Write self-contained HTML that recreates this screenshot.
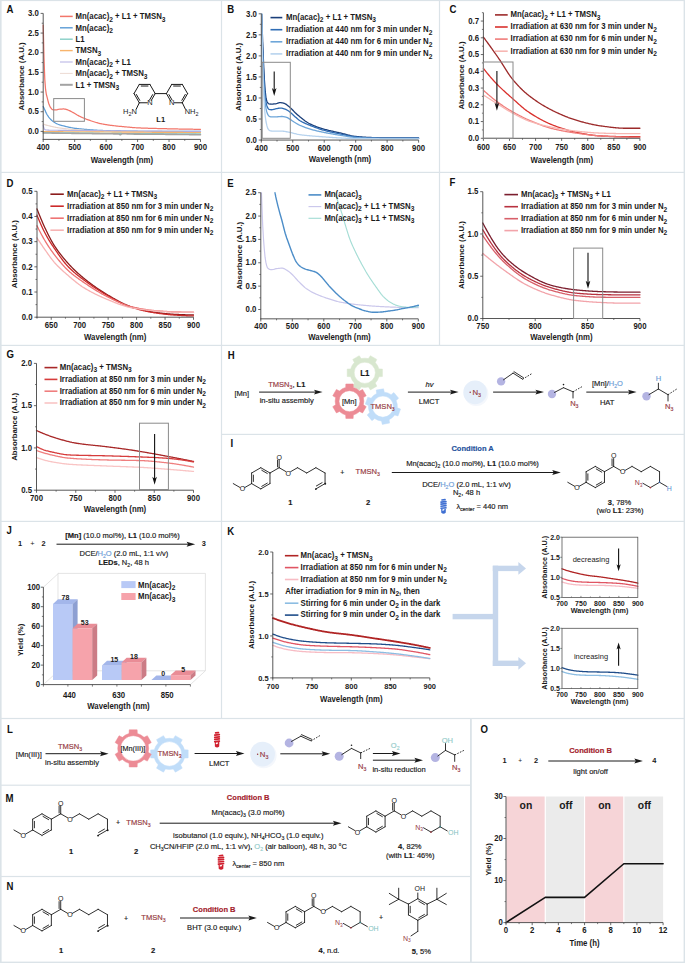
<!DOCTYPE html>
<html><head><meta charset="utf-8"><style>
html,body{margin:0;padding:0;background:#fff;}
svg{display:block;}
text{font-family:"Liberation Sans", sans-serif;}
</style></head><body>
<svg width="685" height="963" viewBox="0 0 685 963">
<rect x="0.00" y="0.00" width="685.00" height="963.00" fill="#ffffff" stroke="none" stroke-width="0.9"/>
<rect x="0.00" y="0.00" width="1.60" height="963.00" fill="#dbe3e8" stroke="none" stroke-width="0.9"/>
<rect x="0.00" y="0.00" width="685.00" height="1.10" fill="#dbe3e8" stroke="none" stroke-width="0.9"/>
<rect x="683.60" y="0.00" width="1.40" height="963.00" fill="#dbe3e8" stroke="none" stroke-width="0.9"/>
<rect x="0.00" y="961.60" width="685.00" height="1.40" fill="#dbe3e8" stroke="none" stroke-width="0.9"/>
<rect x="0.00" y="171.80" width="685.00" height="1.20" fill="#dbe3e8" stroke="none" stroke-width="0.9"/>
<rect x="0.00" y="344.80" width="685.00" height="1.20" fill="#dbe3e8" stroke="none" stroke-width="0.9"/>
<rect x="0.00" y="520.80" width="685.00" height="1.20" fill="#dbe3e8" stroke="none" stroke-width="0.9"/>
<rect x="0.00" y="717.90" width="685.00" height="1.20" fill="#dbe3e8" stroke="none" stroke-width="0.9"/>
<rect x="220.90" y="0.00" width="1.20" height="718.00" fill="#dbe3e8" stroke="none" stroke-width="0.9"/>
<rect x="438.90" y="0.00" width="1.20" height="345.00" fill="#dbe3e8" stroke="none" stroke-width="0.9"/>
<rect x="221.00" y="433.80" width="464.00" height="1.20" fill="#dbe3e8" stroke="none" stroke-width="0.9"/>
<rect x="470.00" y="718.00" width="1.80" height="245.00" fill="#dbe3e8" stroke="none" stroke-width="0.9"/>
<rect x="0.00" y="784.60" width="471.00" height="1.20" fill="#dbe3e8" stroke="none" stroke-width="0.9"/>
<rect x="0.00" y="875.90" width="471.00" height="1.20" fill="#dbe3e8" stroke="none" stroke-width="0.9"/>
<text x="6.50" y="12.70" font-size="9.6" font-weight="bold" font-style="normal" text-anchor="start" fill="#111" transform="matrix(1.0 0 0 1.09 0.000 -1.143)"><tspan>A</tspan></text>
<path d="M43.20,25.20 L43.99,57.86 L44.78,79.36 L45.57,89.46 L46.36,94.51 L47.15,97.45 L47.94,100.62 L48.73,103.50 L49.52,105.54 L50.31,107.15 L51.10,108.24 L51.89,109.14 L52.69,109.70 L53.48,109.83 L54.27,109.90 L55.06,109.95 L55.85,109.96 L56.64,109.87 L57.43,109.68 L58.22,109.45 L59.01,109.25 L59.80,109.16 L60.59,109.10 L61.38,109.05 L62.17,109.01 L62.96,108.99 L63.75,108.98 L64.54,109.05 L65.33,109.21 L66.12,109.44 L66.91,109.69 L67.70,109.95 L68.49,110.23 L69.28,110.56 L70.08,110.93 L70.87,111.33 L71.66,111.75 L72.45,112.18 L73.24,112.60 L74.03,113.04 L74.82,113.52 L75.61,114.00 L76.40,114.49 L77.19,114.97 L77.98,115.42 L78.77,115.84 L79.56,116.24 L80.35,116.63 L81.14,117.00 L81.93,117.36 L82.72,117.71 L83.51,118.05 L84.30,118.37 L85.09,118.69 L85.88,119.00 L86.67,119.31 L87.47,119.61 L88.26,119.90 L89.05,120.18 L89.84,120.46 L90.63,120.73 L91.42,120.99 L92.21,121.25 L93.00,121.51 L93.79,121.76 L94.58,122.01 L95.37,122.25 L96.16,122.49 L96.95,122.72 L97.74,122.94 L98.53,123.15 L99.32,123.34 L100.11,123.53 L100.90,123.70 L101.69,123.86 L102.48,124.01 L103.27,124.16 L104.06,124.30 L104.86,124.43 L105.65,124.56 L106.44,124.68 L107.23,124.80 L108.02,124.92 L108.81,125.04 L109.60,125.15 L110.39,125.26 L111.18,125.36 L111.97,125.46 L112.76,125.56 L113.55,125.66 L114.34,125.75 L115.13,125.84 L115.92,125.93 L116.71,126.02 L117.50,126.10 L118.29,126.19 L119.08,126.26 L119.87,126.34 L120.66,126.42 L121.45,126.49 L122.25,126.57 L123.04,126.64 L123.83,126.71 L124.62,126.78 L125.41,126.85 L126.20,126.93 L126.99,127.00 L127.78,127.08 L128.57,127.15 L129.36,127.23 L130.15,127.30 L130.94,127.37 L131.73,127.44 L132.52,127.51 L133.31,127.58 L134.10,127.64 L134.89,127.70 L135.68,127.75 L136.47,127.80 L137.26,127.84 L138.05,127.88 L138.84,127.92 L139.64,127.96 L140.43,127.99 L141.22,128.02 L142.01,128.05 L142.80,128.08 L143.59,128.10 L144.38,128.13 L145.17,128.16 L145.96,128.18 L146.75,128.21 L147.54,128.23 L148.33,128.26 L149.12,128.28 L149.91,128.30 L150.70,128.33 L151.49,128.35 L152.28,128.37 L153.07,128.39 L153.86,128.42 L154.65,128.44 L155.44,128.46 L156.23,128.48 L157.03,128.50 L157.82,128.52 L158.61,128.54 L159.40,128.56 L160.19,128.58 L160.98,128.60 L161.77,128.62 L162.56,128.64 L163.35,128.66 L164.14,128.68 L164.93,128.70 L165.72,128.72 L166.51,128.74 L167.30,128.76 L168.09,128.78 L168.88,128.80 L169.67,128.82 L170.46,128.84 L171.25,128.86 L172.04,128.87 L172.83,128.89 L173.62,128.91 L174.42,128.92 L175.21,128.94 L176.00,128.95 L176.79,128.97 L177.58,128.98 L178.37,129.00 L179.16,129.01 L179.95,129.02 L180.74,129.04 L181.53,129.05 L182.32,129.06 L183.11,129.08 L183.90,129.09 L184.69,129.10 L185.48,129.12 L186.27,129.13 L187.06,129.14 L187.85,129.16 L188.64,129.17 L189.43,129.18 L190.22,129.20 L191.01,129.21 L191.81,129.22 L192.60,129.23 L193.39,129.25 L194.18,129.26 L194.97,129.27 L195.76,129.28 L196.55,129.30 L197.34,129.31 L198.13,129.32 L198.92,129.33 L199.71,129.34 L200.50,129.35" stroke="#f2766a" stroke-width="1.25" fill="none" stroke-linejoin="round" stroke-linecap="round"/>
<path d="M43.20,106.62 L43.99,108.15 L44.78,109.78 L45.57,111.62 L46.36,113.34 L47.15,114.72 L47.94,115.97 L48.73,117.08 L49.52,118.06 L50.31,118.94 L51.10,119.74 L51.89,120.47 L52.69,121.13 L53.48,121.71 L54.27,122.25 L55.06,122.75 L55.85,123.20 L56.64,123.60 L57.43,123.96 L58.22,124.27 L59.01,124.56 L59.80,124.82 L60.59,125.07 L61.38,125.30 L62.17,125.53 L62.96,125.75 L63.75,125.96 L64.54,126.17 L65.33,126.37 L66.12,126.56 L66.91,126.75 L67.70,126.93 L68.49,127.10 L69.28,127.27 L70.08,127.44 L70.87,127.60 L71.66,127.75 L72.45,127.90 L73.24,128.04 L74.03,128.16 L74.82,128.27 L75.61,128.38 L76.40,128.48 L77.19,128.57 L77.98,128.65 L78.77,128.74 L79.56,128.81 L80.35,128.89 L81.14,128.97 L81.93,129.04 L82.72,129.11 L83.51,129.18 L84.30,129.26 L85.09,129.33 L85.88,129.40 L86.67,129.48 L87.47,129.55 L88.26,129.62 L89.05,129.69 L89.84,129.75 L90.63,129.82 L91.42,129.88 L92.21,129.94 L93.00,129.99 L93.79,130.04 L94.58,130.09 L95.37,130.13 L96.16,130.18 L96.95,130.22 L97.74,130.26 L98.53,130.30 L99.32,130.34 L100.11,130.38 L100.90,130.41 L101.69,130.45 L102.48,130.48 L103.27,130.51 L104.06,130.54 L104.86,130.57 L105.65,130.60 L106.44,130.62 L107.23,130.65 L108.02,130.67 L108.81,130.70 L109.60,130.72 L110.39,130.74 L111.18,130.77 L111.97,130.79 L112.76,130.81 L113.55,130.83 L114.34,130.85 L115.13,130.87 L115.92,130.88 L116.71,130.90 L117.50,130.92 L118.29,130.94 L119.08,130.95 L119.87,130.97 L120.66,130.98 L121.45,131.00 L122.25,131.01 L123.04,131.03 L123.83,131.04 L124.62,131.06 L125.41,131.07 L126.20,131.09 L126.99,131.10 L127.78,131.12 L128.57,131.13 L129.36,131.15 L130.15,131.16 L130.94,131.17 L131.73,131.18 L132.52,131.19 L133.31,131.20 L134.10,131.21 L134.89,131.22 L135.68,131.23 L136.47,131.24 L137.26,131.24 L138.05,131.25 L138.84,131.25 L139.64,131.25 L140.43,131.26 L141.22,131.26 L142.01,131.26 L142.80,131.27 L143.59,131.27 L144.38,131.27 L145.17,131.28 L145.96,131.28 L146.75,131.29 L147.54,131.29 L148.33,131.29 L149.12,131.30 L149.91,131.30 L150.70,131.30 L151.49,131.30 L152.28,131.31 L153.07,131.31 L153.86,131.31 L154.65,131.32 L155.44,131.32 L156.23,131.32 L157.03,131.32 L157.82,131.33 L158.61,131.33 L159.40,131.33 L160.19,131.34 L160.98,131.34 L161.77,131.34 L162.56,131.34 L163.35,131.35 L164.14,131.35 L164.93,131.35 L165.72,131.35 L166.51,131.35 L167.30,131.36 L168.09,131.36 L168.88,131.36 L169.67,131.36 L170.46,131.36 L171.25,131.37 L172.04,131.37 L172.83,131.37 L173.62,131.37 L174.42,131.37 L175.21,131.37 L176.00,131.38 L176.79,131.38 L177.58,131.38 L178.37,131.38 L179.16,131.38 L179.95,131.38 L180.74,131.38 L181.53,131.39 L182.32,131.39 L183.11,131.39 L183.90,131.39 L184.69,131.39 L185.48,131.39 L186.27,131.39 L187.06,131.39 L187.85,131.39 L188.64,131.39 L189.43,131.40 L190.22,131.40 L191.01,131.40 L191.81,131.40 L192.60,131.40 L193.39,131.40 L194.18,131.40 L194.97,131.40 L195.76,131.40 L196.55,131.40 L197.34,131.40 L198.13,131.40 L198.92,131.40 L199.71,131.40 L200.50,131.40" stroke="#5b9bd5" stroke-width="1.25" fill="none" stroke-linejoin="round" stroke-linecap="round"/>
<path d="M43.20,124.12 L43.99,124.38 L44.78,124.64 L45.57,124.88 L46.36,125.11 L47.15,125.33 L47.94,125.54 L48.73,125.75 L49.52,125.95 L50.31,126.15 L51.10,126.34 L51.89,126.52 L52.69,126.69 L53.48,126.86 L54.27,127.02 L55.06,127.18 L55.85,127.33 L56.64,127.48 L57.43,127.62 L58.22,127.75 L59.01,127.87 L59.80,127.99 L60.59,128.10 L61.38,128.22 L62.17,128.32 L62.96,128.43 L63.75,128.53 L64.54,128.62 L65.33,128.72 L66.12,128.81 L66.91,128.89 L67.70,128.97 L68.49,129.05 L69.28,129.13 L70.08,129.20 L70.87,129.27 L71.66,129.34 L72.45,129.41 L73.24,129.47 L74.03,129.54 L74.82,129.60 L75.61,129.66 L76.40,129.72 L77.19,129.77 L77.98,129.83 L78.77,129.88 L79.56,129.93 L80.35,129.98 L81.14,130.04 L81.93,130.09 L82.72,130.13 L83.51,130.18 L84.30,130.23 L85.09,130.28 L85.88,130.33 L86.67,130.37 L87.47,130.42 L88.26,130.46 L89.05,130.51 L89.84,130.55 L90.63,130.59 L91.42,130.63 L92.21,130.67 L93.00,130.71 L93.79,130.75 L94.58,130.79 L95.37,130.83 L96.16,130.86 L96.95,130.89 L97.74,130.93 L98.53,130.96 L99.32,130.99 L100.11,131.02 L100.90,131.04 L101.69,131.07 L102.48,131.10 L103.27,131.13 L104.06,131.15 L104.86,131.18 L105.65,131.20 L106.44,131.23 L107.23,131.25 L108.02,131.27 L108.81,131.30 L109.60,131.32 L110.39,131.34 L111.18,131.36 L111.97,131.38 L112.76,131.40 L113.55,131.42 L114.34,131.44 L115.13,131.46 L115.92,131.48 L116.71,131.50 L117.50,131.51 L118.29,131.53 L119.08,131.55 L119.87,131.56 L120.66,131.58 L121.45,131.59 L122.25,131.60 L123.04,131.62 L123.83,131.63 L124.62,131.64 L125.41,131.66 L126.20,131.67 L126.99,131.68 L127.78,131.70 L128.57,131.71 L129.36,131.72 L130.15,131.73 L130.94,131.74 L131.73,131.76 L132.52,131.77 L133.31,131.78 L134.10,131.79 L134.89,131.80 L135.68,131.81 L136.47,131.82 L137.26,131.83 L138.05,131.84 L138.84,131.85 L139.64,131.86 L140.43,131.87 L141.22,131.88 L142.01,131.89 L142.80,131.90 L143.59,131.91 L144.38,131.91 L145.17,131.92 L145.96,131.93 L146.75,131.94 L147.54,131.95 L148.33,131.95 L149.12,131.96 L149.91,131.97 L150.70,131.97 L151.49,131.98 L152.28,131.98 L153.07,131.99 L153.86,131.99 L154.65,132.00 L155.44,132.00 L156.23,132.01 L157.03,132.01 L157.82,132.02 L158.61,132.02 L159.40,132.03 L160.19,132.03 L160.98,132.04 L161.77,132.04 L162.56,132.05 L163.35,132.05 L164.14,132.06 L164.93,132.06 L165.72,132.07 L166.51,132.07 L167.30,132.08 L168.09,132.08 L168.88,132.09 L169.67,132.09 L170.46,132.09 L171.25,132.10 L172.04,132.10 L172.83,132.11 L173.62,132.11 L174.42,132.11 L175.21,132.12 L176.00,132.12 L176.79,132.13 L177.58,132.13 L178.37,132.13 L179.16,132.14 L179.95,132.14 L180.74,132.14 L181.53,132.15 L182.32,132.15 L183.11,132.15 L183.90,132.16 L184.69,132.16 L185.48,132.16 L186.27,132.16 L187.06,132.17 L187.85,132.17 L188.64,132.17 L189.43,132.17 L190.22,132.17 L191.01,132.18 L191.81,132.18 L192.60,132.18 L193.39,132.18 L194.18,132.18 L194.97,132.18 L195.76,132.18 L196.55,132.18 L197.34,132.19 L198.13,132.19 L198.92,132.19 L199.71,132.19 L200.50,132.19" stroke="#e9d5cd" stroke-width="1.2" fill="none" stroke-linejoin="round" stroke-linecap="round"/>
<path d="M43.20,125.50 L43.99,128.23 L44.78,129.44 L45.57,129.85 L46.36,130.02 L47.15,130.07 L47.94,130.12 L48.73,130.15 L49.52,130.18 L50.31,130.20 L51.10,130.22 L51.89,130.24 L52.69,130.25 L53.48,130.27 L54.27,130.28 L55.06,130.29 L55.85,130.30 L56.64,130.31 L57.43,130.32 L58.22,130.33 L59.01,130.34 L59.80,130.35 L60.59,130.36 L61.38,130.37 L62.17,130.38 L62.96,130.39 L63.75,130.40 L64.54,130.40 L65.33,130.41 L66.12,130.42 L66.91,130.43 L67.70,130.43 L68.49,130.44 L69.28,130.44 L70.08,130.45 L70.87,130.46 L71.66,130.46 L72.45,130.47 L73.24,130.47 L74.03,130.48 L74.82,130.49 L75.61,130.49 L76.40,130.50 L77.19,130.50 L77.98,130.51 L78.77,130.52 L79.56,130.52 L80.35,130.53 L81.14,130.54 L81.93,130.54 L82.72,130.55 L83.51,130.56 L84.30,130.56 L85.09,130.57 L85.88,130.58 L86.67,130.59 L87.47,130.59 L88.26,130.60 L89.05,130.61 L89.84,130.61 L90.63,130.62 L91.42,130.63 L92.21,130.63 L93.00,130.64 L93.79,130.65 L94.58,130.66 L95.37,130.66 L96.16,130.67 L96.95,130.68 L97.74,130.68 L98.53,130.69 L99.32,130.70 L100.11,130.70 L100.90,130.71 L101.69,130.72 L102.48,130.72 L103.27,130.73 L104.06,130.74 L104.86,130.75 L105.65,130.75 L106.44,130.76 L107.23,130.77 L108.02,130.77 L108.81,130.78 L109.60,130.79 L110.39,130.79 L111.18,130.80 L111.97,130.81 L112.76,130.81 L113.55,130.82 L114.34,130.83 L115.13,130.83 L115.92,130.84 L116.71,130.85 L117.50,130.85 L118.29,130.86 L119.08,130.86 L119.87,130.87 L120.66,130.88 L121.45,130.88 L122.25,130.89 L123.04,130.90 L123.83,130.90 L124.62,130.91 L125.41,130.92 L126.20,130.92 L126.99,130.93 L127.78,130.93 L128.57,130.94 L129.36,130.95 L130.15,130.95 L130.94,130.96 L131.73,130.96 L132.52,130.97 L133.31,130.98 L134.10,130.98 L134.89,130.99 L135.68,130.99 L136.47,131.00 L137.26,131.00 L138.05,131.01 L138.84,131.02 L139.64,131.02 L140.43,131.03 L141.22,131.03 L142.01,131.04 L142.80,131.04 L143.59,131.05 L144.38,131.05 L145.17,131.06 L145.96,131.07 L146.75,131.07 L147.54,131.08 L148.33,131.08 L149.12,131.09 L149.91,131.09 L150.70,131.10 L151.49,131.10 L152.28,131.11 L153.07,131.11 L153.86,131.12 L154.65,131.13 L155.44,131.13 L156.23,131.14 L157.03,131.14 L157.82,131.15 L158.61,131.15 L159.40,131.16 L160.19,131.16 L160.98,131.17 L161.77,131.17 L162.56,131.18 L163.35,131.18 L164.14,131.19 L164.93,131.19 L165.72,131.20 L166.51,131.20 L167.30,131.21 L168.09,131.21 L168.88,131.22 L169.67,131.22 L170.46,131.23 L171.25,131.23 L172.04,131.24 L172.83,131.24 L173.62,131.25 L174.42,131.25 L175.21,131.26 L176.00,131.26 L176.79,131.27 L177.58,131.27 L178.37,131.28 L179.16,131.28 L179.95,131.29 L180.74,131.29 L181.53,131.30 L182.32,131.30 L183.11,131.30 L183.90,131.31 L184.69,131.31 L185.48,131.32 L186.27,131.32 L187.06,131.33 L187.85,131.33 L188.64,131.34 L189.43,131.34 L190.22,131.34 L191.01,131.35 L191.81,131.35 L192.60,131.36 L193.39,131.36 L194.18,131.37 L194.97,131.37 L195.76,131.38 L196.55,131.38 L197.34,131.38 L198.13,131.39 L198.92,131.39 L199.71,131.40 L200.50,131.40" stroke="#b3afe3" stroke-width="1.1" fill="none" stroke-linejoin="round" stroke-linecap="round"/>
<path d="M43.20,131.60 L43.99,131.60 L44.78,131.61 L45.57,131.61 L46.36,131.62 L47.15,131.62 L47.94,131.63 L48.73,131.63 L49.52,131.64 L50.31,131.64 L51.10,131.65 L51.89,131.65 L52.69,131.66 L53.48,131.66 L54.27,131.67 L55.06,131.67 L55.85,131.68 L56.64,131.68 L57.43,131.69 L58.22,131.69 L59.01,131.70 L59.80,131.70 L60.59,131.71 L61.38,131.71 L62.17,131.72 L62.96,131.72 L63.75,131.73 L64.54,131.73 L65.33,131.74 L66.12,131.74 L66.91,131.74 L67.70,131.75 L68.49,131.75 L69.28,131.76 L70.08,131.76 L70.87,131.77 L71.66,131.77 L72.45,131.78 L73.24,131.78 L74.03,131.79 L74.82,131.79 L75.61,131.80 L76.40,131.80 L77.19,131.81 L77.98,131.81 L78.77,131.82 L79.56,131.82 L80.35,131.83 L81.14,131.83 L81.93,131.84 L82.72,131.84 L83.51,131.85 L84.30,131.85 L85.09,131.86 L85.88,131.86 L86.67,131.87 L87.47,131.87 L88.26,131.88 L89.05,131.88 L89.84,131.89 L90.63,131.89 L91.42,131.90 L92.21,131.90 L93.00,131.91 L93.79,131.91 L94.58,131.92 L95.37,131.92 L96.16,131.93 L96.95,131.93 L97.74,131.94 L98.53,131.94 L99.32,131.95 L100.11,131.95 L100.90,131.96 L101.69,131.96 L102.48,131.97 L103.27,131.97 L104.06,131.98 L104.86,131.98 L105.65,131.99 L106.44,131.99 L107.23,132.00 L108.02,132.00 L108.81,132.01 L109.60,132.01 L110.39,132.02 L111.18,132.02 L111.97,132.03 L112.76,132.03 L113.55,132.04 L114.34,132.04 L115.13,132.05 L115.92,132.05 L116.71,132.06 L117.50,132.06 L118.29,132.07 L119.08,132.07 L119.87,132.08 L120.66,132.08 L121.45,132.09 L122.25,132.09 L123.04,132.10 L123.83,132.10 L124.62,132.11 L125.41,132.11 L126.20,132.12 L126.99,132.12 L127.78,132.13 L128.57,132.13 L129.36,132.14 L130.15,132.14 L130.94,132.15 L131.73,132.15 L132.52,132.16 L133.31,132.16 L134.10,132.16 L134.89,132.17 L135.68,132.17 L136.47,132.18 L137.26,132.18 L138.05,132.19 L138.84,132.19 L139.64,132.20 L140.43,132.20 L141.22,132.21 L142.01,132.21 L142.80,132.22 L143.59,132.22 L144.38,132.23 L145.17,132.23 L145.96,132.24 L146.75,132.24 L147.54,132.25 L148.33,132.25 L149.12,132.26 L149.91,132.26 L150.70,132.27 L151.49,132.27 L152.28,132.28 L153.07,132.28 L153.86,132.29 L154.65,132.29 L155.44,132.30 L156.23,132.30 L157.03,132.31 L157.82,132.31 L158.61,132.32 L159.40,132.32 L160.19,132.33 L160.98,132.33 L161.77,132.34 L162.56,132.34 L163.35,132.35 L164.14,132.35 L164.93,132.36 L165.72,132.36 L166.51,132.37 L167.30,132.37 L168.09,132.38 L168.88,132.38 L169.67,132.39 L170.46,132.39 L171.25,132.40 L172.04,132.40 L172.83,132.41 L173.62,132.41 L174.42,132.42 L175.21,132.42 L176.00,132.43 L176.79,132.43 L177.58,132.44 L178.37,132.44 L179.16,132.45 L179.95,132.45 L180.74,132.46 L181.53,132.46 L182.32,132.47 L183.11,132.47 L183.90,132.48 L184.69,132.48 L185.48,132.49 L186.27,132.49 L187.06,132.50 L187.85,132.50 L188.64,132.51 L189.43,132.51 L190.22,132.52 L191.01,132.52 L191.81,132.53 L192.60,132.53 L193.39,132.54 L194.18,132.54 L194.97,132.55 L195.76,132.55 L196.55,132.56 L197.34,132.56 L198.13,132.57 L198.92,132.57 L199.71,132.58 L200.50,132.58" stroke="#f8b46c" stroke-width="1.2" fill="none" stroke-linejoin="round" stroke-linecap="round"/>
<path d="M43.20,132.58 L43.99,132.59 L44.78,132.60 L45.57,132.61 L46.36,132.62 L47.15,132.63 L47.94,132.64 L48.73,132.65 L49.52,132.66 L50.31,132.67 L51.10,132.68 L51.89,132.69 L52.69,132.70 L53.48,132.71 L54.27,132.72 L55.06,132.73 L55.85,132.74 L56.64,132.75 L57.43,132.76 L58.22,132.77 L59.01,132.78 L59.80,132.79 L60.59,132.80 L61.38,132.81 L62.17,132.82 L62.96,132.83 L63.75,132.84 L64.54,132.85 L65.33,132.86 L66.12,132.87 L66.91,132.88 L67.70,132.89 L68.49,132.90 L69.28,132.91 L70.08,132.92 L70.87,132.93 L71.66,132.94 L72.45,132.95 L73.24,132.96 L74.03,132.97 L74.82,132.98 L75.61,132.99 L76.40,133.00 L77.19,133.01 L77.98,133.02 L78.77,133.03 L79.56,133.04 L80.35,133.05 L81.14,133.06 L81.93,133.07 L82.72,133.08 L83.51,133.09 L84.30,133.10 L85.09,133.11 L85.88,133.12 L86.67,133.14 L87.47,133.15 L88.26,133.16 L89.05,133.17 L89.84,133.18 L90.63,133.19 L91.42,133.20 L92.21,133.21 L93.00,133.22 L93.79,133.23 L94.58,133.24 L95.37,133.25 L96.16,133.26 L96.95,133.27 L97.74,133.28 L98.53,133.29 L99.32,133.30 L100.11,133.31 L100.90,133.32 L101.69,133.32 L102.48,133.33 L103.27,133.34 L104.06,133.35 L104.86,133.36 L105.65,133.36 L106.44,133.37 L107.23,133.38 L108.02,133.38 L108.81,133.39 L109.60,133.39 L110.39,133.40 L111.18,133.41 L111.97,133.41 L112.76,133.42 L113.55,133.42 L114.34,133.43 L115.13,133.43 L115.92,133.44 L116.71,133.44 L117.50,133.45 L118.29,133.45 L119.08,133.46 L119.87,133.46 L120.66,133.47 L121.45,133.47 L122.25,133.48 L123.04,133.48 L123.83,133.48 L124.62,133.49 L125.41,133.49 L126.20,133.50 L126.99,133.50 L127.78,133.51 L128.57,133.51 L129.36,133.52 L130.15,133.52 L130.94,133.52 L131.73,133.53 L132.52,133.53 L133.31,133.54 L134.10,133.54 L134.89,133.55 L135.68,133.55 L136.47,133.56 L137.26,133.56 L138.05,133.57 L138.84,133.57 L139.64,133.58 L140.43,133.58 L141.22,133.59 L142.01,133.59 L142.80,133.60 L143.59,133.60 L144.38,133.61 L145.17,133.61 L145.96,133.62 L146.75,133.62 L147.54,133.63 L148.33,133.63 L149.12,133.64 L149.91,133.64 L150.70,133.65 L151.49,133.65 L152.28,133.66 L153.07,133.66 L153.86,133.67 L154.65,133.67 L155.44,133.68 L156.23,133.68 L157.03,133.68 L157.82,133.69 L158.61,133.69 L159.40,133.70 L160.19,133.70 L160.98,133.71 L161.77,133.71 L162.56,133.72 L163.35,133.72 L164.14,133.73 L164.93,133.73 L165.72,133.74 L166.51,133.74 L167.30,133.75 L168.09,133.75 L168.88,133.76 L169.67,133.76 L170.46,133.77 L171.25,133.77 L172.04,133.78 L172.83,133.78 L173.62,133.79 L174.42,133.79 L175.21,133.80 L176.00,133.80 L176.79,133.81 L177.58,133.81 L178.37,133.82 L179.16,133.82 L179.95,133.83 L180.74,133.83 L181.53,133.84 L182.32,133.84 L183.11,133.85 L183.90,133.85 L184.69,133.86 L185.48,133.86 L186.27,133.87 L187.06,133.87 L187.85,133.88 L188.64,133.88 L189.43,133.89 L190.22,133.89 L191.01,133.90 L191.81,133.90 L192.60,133.91 L193.39,133.91 L194.18,133.92 L194.97,133.92 L195.76,133.93 L196.55,133.93 L197.34,133.94 L198.13,133.94 L198.92,133.95 L199.71,133.95 L200.50,133.96" stroke="#86cfc6" stroke-width="1.2" fill="none" stroke-linejoin="round" stroke-linecap="round"/>
<path d="M43.20,132.97 L43.99,132.98 L44.78,132.99 L45.57,133.00 L46.36,133.01 L47.15,133.02 L47.94,133.03 L48.73,133.04 L49.52,133.05 L50.31,133.06 L51.10,133.07 L51.89,133.08 L52.69,133.09 L53.48,133.10 L54.27,133.11 L55.06,133.12 L55.85,133.13 L56.64,133.14 L57.43,133.15 L58.22,133.16 L59.01,133.17 L59.80,133.18 L60.59,133.19 L61.38,133.20 L62.17,133.21 L62.96,133.22 L63.75,133.23 L64.54,133.24 L65.33,133.25 L66.12,133.26 L66.91,133.27 L67.70,133.28 L68.49,133.29 L69.28,133.30 L70.08,133.31 L70.87,133.32 L71.66,133.33 L72.45,133.34 L73.24,133.35 L74.03,133.36 L74.82,133.37 L75.61,133.38 L76.40,133.39 L77.19,133.40 L77.98,133.41 L78.77,133.42 L79.56,133.43 L80.35,133.44 L81.14,133.45 L81.93,133.46 L82.72,133.46 L83.51,133.47 L84.30,133.48 L85.09,133.49 L85.88,133.50 L86.67,133.51 L87.47,133.52 L88.26,133.53 L89.05,133.54 L89.84,133.55 L90.63,133.56 L91.42,133.57 L92.21,133.58 L93.00,133.59 L93.79,133.60 L94.58,133.61 L95.37,133.62 L96.16,133.63 L96.95,133.64 L97.74,133.65 L98.53,133.66 L99.32,133.67 L100.11,133.68 L100.90,133.69 L101.69,133.70 L102.48,133.71 L103.27,133.72 L104.06,133.73 L104.86,133.74 L105.65,133.75 L106.44,133.76 L107.23,133.77 L108.02,133.78 L108.81,133.79 L109.60,133.79 L110.39,133.80 L111.18,133.81 L111.97,133.81 L112.76,133.82 L113.55,133.83 L114.34,133.84 L115.13,133.85 L115.92,133.87 L116.71,133.89 L117.50,133.91 L118.29,133.94 L119.08,134.08 L119.87,134.62 L120.66,134.59 L121.45,133.92 L122.25,133.76 L123.04,133.77 L123.83,133.77 L124.62,133.79 L125.41,133.80 L126.20,133.82 L126.99,133.85 L127.78,133.87 L128.57,133.90 L129.36,133.92 L130.15,133.95 L130.94,133.98 L131.73,134.01 L132.52,134.03 L133.31,134.06 L134.10,134.08 L134.89,134.10 L135.68,134.12 L136.47,134.14 L137.26,134.15 L138.05,134.16 L138.84,134.17 L139.64,134.17 L140.43,134.18 L141.22,134.19 L142.01,134.19 L142.80,134.20 L143.59,134.21 L144.38,134.21 L145.17,134.22 L145.96,134.22 L146.75,134.23 L147.54,134.23 L148.33,134.24 L149.12,134.24 L149.91,134.24 L150.70,134.25 L151.49,134.25 L152.28,134.26 L153.07,134.26 L153.86,134.26 L154.65,134.27 L155.44,134.27 L156.23,134.27 L157.03,134.28 L157.82,134.28 L158.61,134.29 L159.40,134.29 L160.19,134.29 L160.98,134.30 L161.77,134.30 L162.56,134.31 L163.35,134.31 L164.14,134.31 L164.93,134.32 L165.72,134.33 L166.51,134.33 L167.30,134.34 L168.09,134.34 L168.88,134.35 L169.67,134.36 L170.46,134.36 L171.25,134.37 L172.04,134.38 L172.83,134.38 L173.62,134.39 L174.42,134.40 L175.21,134.41 L176.00,134.42 L176.79,134.42 L177.58,134.43 L178.37,134.44 L179.16,134.45 L179.95,134.46 L180.74,134.47 L181.53,134.48 L182.32,134.49 L183.11,134.50 L183.90,134.51 L184.69,134.52 L185.48,134.53 L186.27,134.54 L187.06,134.55 L187.85,134.56 L188.64,134.57 L189.43,134.58 L190.22,134.59 L191.01,134.60 L191.81,134.61 L192.60,134.62 L193.39,134.64 L194.18,134.65 L194.97,134.66 L195.76,134.67 L196.55,134.68 L197.34,134.69 L198.13,134.71 L198.92,134.72 L199.71,134.73 L200.50,134.74" stroke="#a3a3a3" stroke-width="1.6" fill="none" stroke-linejoin="round" stroke-linecap="round"/>
<line x1="58.93" y1="139.38" x2="58.93" y2="140.88" stroke="#444" stroke-width="0.7"/>
<line x1="90.39" y1="139.38" x2="90.39" y2="140.88" stroke="#444" stroke-width="0.7"/>
<line x1="121.85" y1="139.38" x2="121.85" y2="140.88" stroke="#444" stroke-width="0.7"/>
<line x1="153.31" y1="139.38" x2="153.31" y2="140.88" stroke="#444" stroke-width="0.7"/>
<line x1="184.77" y1="139.38" x2="184.77" y2="140.88" stroke="#444" stroke-width="0.7"/>
<line x1="43.20" y1="139.38" x2="43.20" y2="141.98" stroke="#444" stroke-width="0.8"/>
<line x1="74.66" y1="139.38" x2="74.66" y2="141.98" stroke="#444" stroke-width="0.8"/>
<line x1="106.12" y1="139.38" x2="106.12" y2="141.98" stroke="#444" stroke-width="0.8"/>
<line x1="137.58" y1="139.38" x2="137.58" y2="141.98" stroke="#444" stroke-width="0.8"/>
<line x1="169.04" y1="139.38" x2="169.04" y2="141.98" stroke="#444" stroke-width="0.8"/>
<line x1="200.50" y1="139.38" x2="200.50" y2="141.98" stroke="#444" stroke-width="0.8"/>
<line x1="41.70" y1="121.57" x2="43.20" y2="121.57" stroke="#444" stroke-width="0.7"/>
<line x1="41.70" y1="101.90" x2="43.20" y2="101.90" stroke="#444" stroke-width="0.7"/>
<line x1="41.70" y1="82.23" x2="43.20" y2="82.23" stroke="#444" stroke-width="0.7"/>
<line x1="41.70" y1="62.57" x2="43.20" y2="62.57" stroke="#444" stroke-width="0.7"/>
<line x1="41.70" y1="42.90" x2="43.20" y2="42.90" stroke="#444" stroke-width="0.7"/>
<line x1="41.70" y1="23.23" x2="43.20" y2="23.23" stroke="#444" stroke-width="0.7"/>
<line x1="40.60" y1="131.40" x2="43.20" y2="131.40" stroke="#444" stroke-width="0.8"/>
<line x1="40.60" y1="111.73" x2="43.20" y2="111.73" stroke="#444" stroke-width="0.8"/>
<line x1="40.60" y1="92.07" x2="43.20" y2="92.07" stroke="#444" stroke-width="0.8"/>
<line x1="40.60" y1="72.40" x2="43.20" y2="72.40" stroke="#444" stroke-width="0.8"/>
<line x1="40.60" y1="52.73" x2="43.20" y2="52.73" stroke="#444" stroke-width="0.8"/>
<line x1="40.60" y1="33.07" x2="43.20" y2="33.07" stroke="#444" stroke-width="0.8"/>
<line x1="40.60" y1="13.40" x2="43.20" y2="13.40" stroke="#444" stroke-width="0.8"/>
<line x1="43.20" y1="13.40" x2="43.20" y2="139.83" stroke="#444" stroke-width="0.9"/>
<line x1="42.75" y1="139.38" x2="200.50" y2="139.38" stroke="#444" stroke-width="0.9"/>
<text x="43.20" y="149.78" font-size="7.8" font-weight="bold" font-style="normal" text-anchor="middle" fill="#1a1a1a" transform="matrix(1.0 0 0 1.06 0.000 -8.987)"><tspan>400</tspan></text>
<text x="74.66" y="149.78" font-size="7.8" font-weight="bold" font-style="normal" text-anchor="middle" fill="#1a1a1a" transform="matrix(1.0 0 0 1.06 0.000 -8.987)"><tspan>500</tspan></text>
<text x="106.12" y="149.78" font-size="7.8" font-weight="bold" font-style="normal" text-anchor="middle" fill="#1a1a1a" transform="matrix(1.0 0 0 1.06 0.000 -8.987)"><tspan>600</tspan></text>
<text x="137.58" y="149.78" font-size="7.8" font-weight="bold" font-style="normal" text-anchor="middle" fill="#1a1a1a" transform="matrix(1.0 0 0 1.06 0.000 -8.987)"><tspan>700</tspan></text>
<text x="169.04" y="149.78" font-size="7.8" font-weight="bold" font-style="normal" text-anchor="middle" fill="#1a1a1a" transform="matrix(1.0 0 0 1.06 0.000 -8.987)"><tspan>800</tspan></text>
<text x="200.50" y="149.78" font-size="7.8" font-weight="bold" font-style="normal" text-anchor="middle" fill="#1a1a1a" transform="matrix(1.0 0 0 1.06 0.000 -8.987)"><tspan>900</tspan></text>
<text x="38.80" y="134.13" font-size="7.8" font-weight="bold" font-style="normal" text-anchor="end" fill="#1a1a1a" transform="matrix(1.0 0 0 1.06 0.000 -8.048)"><tspan>0.0</tspan></text>
<text x="38.80" y="114.46" font-size="7.8" font-weight="bold" font-style="normal" text-anchor="end" fill="#1a1a1a" transform="matrix(1.0 0 0 1.06 0.000 -6.868)"><tspan>0.5</tspan></text>
<text x="38.80" y="94.80" font-size="7.8" font-weight="bold" font-style="normal" text-anchor="end" fill="#1a1a1a" transform="matrix(1.0 0 0 1.06 0.000 -5.688)"><tspan>1.0</tspan></text>
<text x="38.80" y="75.13" font-size="7.8" font-weight="bold" font-style="normal" text-anchor="end" fill="#1a1a1a" transform="matrix(1.0 0 0 1.06 0.000 -4.508)"><tspan>1.5</tspan></text>
<text x="38.80" y="55.46" font-size="7.8" font-weight="bold" font-style="normal" text-anchor="end" fill="#1a1a1a" transform="matrix(1.0 0 0 1.06 0.000 -3.328)"><tspan>2.0</tspan></text>
<text x="38.80" y="35.80" font-size="7.8" font-weight="bold" font-style="normal" text-anchor="end" fill="#1a1a1a" transform="matrix(1.0 0 0 1.06 0.000 -2.148)"><tspan>2.5</tspan></text>
<text x="38.80" y="16.13" font-size="7.8" font-weight="bold" font-style="normal" text-anchor="end" fill="#1a1a1a" transform="matrix(1.0 0 0 1.06 0.000 -0.968)"><tspan>3.0</tspan></text>
<rect x="53.70" y="98.60" width="30.70" height="22.70" fill="none" stroke="#8a8a8a" stroke-width="1.0"/>
<text x="24.20" y="76.40" font-size="7.8" font-weight="bold" font-style="normal" text-anchor="middle" fill="#1a1a1a" transform="rotate(-90 24.2 76.4)"><tspan>Absorbance (A.U.)</tspan></text>
<text x="121.90" y="162.60" font-size="7.8" font-weight="bold" font-style="normal" text-anchor="middle" fill="#1a1a1a" transform="matrix(1.0 0 0 1.06 0.000 -9.756)"><tspan>Wavelength (nm)</tspan></text>
<line x1="60.00" y1="16.40" x2="72.70" y2="16.40" stroke="#f2766a" stroke-width="1.5"/>
<text x="75.50" y="19.28" font-size="7.8" font-weight="bold" font-style="normal" text-anchor="start" fill="#1a1a1a" transform="matrix(1.0 0 0 1.06 0.000 -1.157)"><tspan>Mn(acac)</tspan><tspan font-size="6.63" dy="2.34">2</tspan><tspan dy="-2.34"> + L1 + TMSN</tspan><tspan font-size="6.63" dy="2.34">3</tspan></text>
<line x1="60.00" y1="27.80" x2="72.70" y2="27.80" stroke="#5b9bd5" stroke-width="1.4"/>
<text x="75.50" y="30.68" font-size="7.8" font-weight="bold" font-style="normal" text-anchor="start" fill="#1a1a1a" transform="matrix(1.0 0 0 1.06 0.000 -1.841)"><tspan>Mn(acac)</tspan><tspan font-size="6.63" dy="2.34">2</tspan></text>
<line x1="60.00" y1="39.20" x2="72.70" y2="39.20" stroke="#86cfc6" stroke-width="1.4"/>
<text x="75.50" y="42.08" font-size="7.8" font-weight="bold" font-style="normal" text-anchor="start" fill="#1a1a1a" transform="matrix(1.0 0 0 1.06 0.000 -2.525)"><tspan>L1</tspan></text>
<line x1="60.00" y1="50.60" x2="72.70" y2="50.60" stroke="#f8b46c" stroke-width="1.4"/>
<text x="75.50" y="53.48" font-size="7.8" font-weight="bold" font-style="normal" text-anchor="start" fill="#1a1a1a" transform="matrix(1.0 0 0 1.06 0.000 -3.209)"><tspan>TMSN</tspan><tspan font-size="6.63" dy="2.34">3</tspan></text>
<line x1="60.00" y1="62.00" x2="72.70" y2="62.00" stroke="#b3afe3" stroke-width="1.0"/>
<text x="75.50" y="64.88" font-size="7.8" font-weight="bold" font-style="normal" text-anchor="start" fill="#1a1a1a" transform="matrix(1.0 0 0 1.06 0.000 -3.893)"><tspan>Mn(acac)</tspan><tspan font-size="6.63" dy="2.34">2</tspan><tspan dy="-2.34"> + L1</tspan></text>
<line x1="60.00" y1="73.40" x2="72.70" y2="73.40" stroke="#ecdad3" stroke-width="1.0"/>
<text x="75.50" y="76.28" font-size="7.8" font-weight="bold" font-style="normal" text-anchor="start" fill="#1a1a1a" transform="matrix(1.0 0 0 1.06 0.000 -4.577)"><tspan>Mn(acac)</tspan><tspan font-size="6.63" dy="2.34">2</tspan><tspan dy="-2.34"> + TMSN</tspan><tspan font-size="6.63" dy="2.34">3</tspan></text>
<line x1="60.00" y1="84.80" x2="72.70" y2="84.80" stroke="#a3a3a3" stroke-width="2.0"/>
<text x="75.50" y="87.68" font-size="7.8" font-weight="bold" font-style="normal" text-anchor="start" fill="#1a1a1a" transform="matrix(1.0 0 0 1.06 0.000 -5.261)"><tspan>L1 + TMSN</tspan><tspan font-size="6.63" dy="2.34">3</tspan></text>
<line x1="139.30" y1="84.42" x2="149.90" y2="84.42" stroke="#1a1a1a" stroke-width="1.0" stroke-linecap="round"/>
<line x1="141.21" y1="86.02" x2="147.99" y2="86.02" stroke="#1a1a1a" stroke-width="1.0" stroke-linecap="round"/>
<line x1="149.90" y1="84.42" x2="155.20" y2="93.60" stroke="#1a1a1a" stroke-width="1.0" stroke-linecap="round"/>
<line x1="155.20" y1="93.60" x2="151.20" y2="100.53" stroke="#1a1a1a" stroke-width="1.0" stroke-linecap="round"/>
<line x1="147.30" y1="102.78" x2="139.30" y2="102.78" stroke="#1a1a1a" stroke-width="1.0" stroke-linecap="round"/>
<line x1="139.30" y1="102.78" x2="134.00" y2="93.60" stroke="#1a1a1a" stroke-width="1.0" stroke-linecap="round"/>
<line x1="139.73" y1="100.33" x2="136.34" y2="94.45" stroke="#1a1a1a" stroke-width="1.0" stroke-linecap="round"/>
<line x1="134.00" y1="93.60" x2="139.30" y2="84.42" stroke="#1a1a1a" stroke-width="1.0" stroke-linecap="round"/>
<line x1="171.70" y1="84.42" x2="182.30" y2="84.42" stroke="#1a1a1a" stroke-width="1.0" stroke-linecap="round"/>
<line x1="173.61" y1="86.02" x2="180.39" y2="86.02" stroke="#1a1a1a" stroke-width="1.0" stroke-linecap="round"/>
<line x1="187.60" y1="93.60" x2="182.30" y2="102.78" stroke="#1a1a1a" stroke-width="1.0" stroke-linecap="round"/>
<line x1="185.26" y1="94.45" x2="181.87" y2="100.33" stroke="#1a1a1a" stroke-width="1.0" stroke-linecap="round"/>
<line x1="182.30" y1="84.42" x2="187.60" y2="93.60" stroke="#1a1a1a" stroke-width="1.0" stroke-linecap="round"/>
<line x1="182.30" y1="102.78" x2="174.30" y2="102.78" stroke="#1a1a1a" stroke-width="1.0" stroke-linecap="round"/>
<line x1="170.40" y1="100.53" x2="166.40" y2="93.60" stroke="#1a1a1a" stroke-width="1.0" stroke-linecap="round"/>
<line x1="166.40" y1="93.60" x2="171.70" y2="84.42" stroke="#1a1a1a" stroke-width="1.0" stroke-linecap="round"/>
<line x1="152.67" y1="94.59" x2="149.49" y2="100.09" stroke="#1a1a1a" stroke-width="1.0" stroke-linecap="round"/>
<line x1="172.11" y1="100.09" x2="168.93" y2="94.59" stroke="#1a1a1a" stroke-width="1.0" stroke-linecap="round"/>
<line x1="155.20" y1="93.60" x2="166.40" y2="93.60" stroke="#1a1a1a" stroke-width="1.0" stroke-linecap="round"/>
<line x1="139.30" y1="102.78" x2="136.30" y2="108.98" stroke="#1a1a1a" stroke-width="1.0" stroke-linecap="round"/>
<line x1="182.30" y1="102.78" x2="185.30" y2="108.98" stroke="#1a1a1a" stroke-width="1.0" stroke-linecap="round"/>
<text x="149.90" y="105.48" font-size="7.5" font-weight="normal" font-style="normal" text-anchor="middle" fill="#1a1a1a" transform="matrix(1.0 0 0 1.03 0.000 -3.164)"><tspan>N</tspan></text>
<text x="171.70" y="105.48" font-size="7.5" font-weight="normal" font-style="normal" text-anchor="middle" fill="#1a1a1a" transform="matrix(1.0 0 0 1.03 0.000 -3.164)"><tspan>N</tspan></text>
<text x="136.90" y="114.48" font-size="7.5" font-weight="normal" font-style="normal" text-anchor="end" fill="#1a1a1a" transform="matrix(1.0 0 0 1.03 0.000 -3.434)"><tspan>H</tspan><tspan font-size="5.40" dy="1.88">2</tspan><tspan dy="-1.88">N</tspan></text>
<text x="184.70" y="114.48" font-size="7.5" font-weight="normal" font-style="normal" text-anchor="start" fill="#1a1a1a" transform="matrix(1.0 0 0 1.03 0.000 -3.434)"><tspan>NH</tspan><tspan font-size="5.40" dy="1.88">2</tspan></text>
<text x="160.80" y="121.80" font-size="7.6" font-weight="bold" font-style="normal" text-anchor="middle" fill="#1a1a1a" transform="matrix(1.0 0 0 1.06 0.000 -7.308)"><tspan>L1</tspan></text>
<text x="227.20" y="12.70" font-size="9.6" font-weight="bold" font-style="normal" text-anchor="start" fill="#111" transform="matrix(1.0 0 0 1.09 0.000 -1.143)"><tspan>B</tspan></text>
<clipPath id="cpB"><rect x="261" y="13.8" width="160" height="127"/></clipPath>
<g clip-path="url(#cpB)">
<path d="M261.30,1.18 L262.09,26.03 L262.88,47.36 L263.67,65.59 L264.46,80.67 L265.25,91.44 L266.04,98.27 L266.83,101.16 L267.62,102.84 L268.41,103.52 L269.20,103.82 L269.99,104.01 L270.79,104.07 L271.58,104.06 L272.37,104.04 L273.16,104.01 L273.95,103.96 L274.74,103.91 L275.53,103.85 L276.32,103.70 L277.11,103.45 L277.90,103.15 L278.69,102.87 L279.48,102.66 L280.27,102.60 L281.06,102.65 L281.85,102.78 L282.64,102.96 L283.43,103.18 L284.22,103.42 L285.01,103.73 L285.80,104.15 L286.59,104.66 L287.38,105.25 L288.18,105.89 L288.97,106.56 L289.76,107.24 L290.55,107.91 L291.34,108.64 L292.13,109.44 L292.92,110.27 L293.71,111.11 L294.50,111.93 L295.29,112.71 L296.08,113.45 L296.87,114.18 L297.66,114.91 L298.45,115.61 L299.24,116.28 L300.03,116.93 L300.82,117.57 L301.61,118.20 L302.40,118.84 L303.19,119.46 L303.98,120.07 L304.77,120.67 L305.57,121.24 L306.36,121.79 L307.15,122.32 L307.94,122.81 L308.73,123.26 L309.52,123.68 L310.31,124.07 L311.10,124.45 L311.89,124.81 L312.68,125.16 L313.47,125.50 L314.26,125.83 L315.05,126.14 L315.84,126.45 L316.63,126.74 L317.42,127.03 L318.21,127.31 L319.00,127.58 L319.79,127.84 L320.58,128.10 L321.37,128.35 L322.16,128.59 L322.96,128.83 L323.75,129.06 L324.54,129.29 L325.33,129.51 L326.12,129.72 L326.91,129.93 L327.70,130.13 L328.49,130.32 L329.28,130.51 L330.07,130.70 L330.86,130.88 L331.65,131.06 L332.44,131.24 L333.23,131.41 L334.02,131.58 L334.81,131.76 L335.60,131.93 L336.39,132.10 L337.18,132.27 L337.97,132.45 L338.76,132.62 L339.55,132.80 L340.35,132.99 L341.14,133.18 L341.93,133.38 L342.72,133.58 L343.51,133.79 L344.30,134.00 L345.09,134.21 L345.88,134.43 L346.67,134.64 L347.46,134.84 L348.25,135.05 L349.04,135.24 L349.83,135.43 L350.62,135.62 L351.41,135.79 L352.20,135.95 L352.99,136.09 L353.78,136.22 L354.57,136.34 L355.36,136.44 L356.15,136.52 L356.94,136.60 L357.74,136.67 L358.53,136.74 L359.32,136.81 L360.11,136.88 L360.90,136.94 L361.69,137.00 L362.48,137.06 L363.27,137.11 L364.06,137.16 L364.85,137.21 L365.64,137.25 L366.43,137.30 L367.22,137.34 L368.01,137.38 L368.80,137.42 L369.59,137.45 L370.38,137.48 L371.17,137.52 L371.96,137.55 L372.75,137.58 L373.54,137.61 L374.33,137.64 L375.13,137.67 L375.92,137.70 L376.71,137.73 L377.50,137.75 L378.29,137.78 L379.08,137.80 L379.87,137.83 L380.66,137.85 L381.45,137.87 L382.24,137.89 L383.03,137.90 L383.82,137.92 L384.61,137.93 L385.40,137.94 L386.19,137.94 L386.98,137.95 L387.77,137.95 L388.56,137.95 L389.35,137.95 L390.14,137.95 L390.93,137.95 L391.72,137.95 L392.52,137.95 L393.31,137.95 L394.10,137.95 L394.89,137.95 L395.68,137.95 L396.47,137.95 L397.26,137.95 L398.05,137.95 L398.84,137.95 L399.63,137.95 L400.42,137.95 L401.21,137.95 L402.00,137.95 L402.79,137.95 L403.58,137.95 L404.37,137.95 L405.16,137.95 L405.95,137.95 L406.74,137.95 L407.53,137.95 L408.32,137.95 L409.11,137.95 L409.91,137.95 L410.70,137.95 L411.49,137.95 L412.28,137.95 L413.07,137.95 L413.86,137.95 L414.65,137.95 L415.44,137.95 L416.23,137.95 L417.02,137.95 L417.81,137.95 L418.60,137.95" stroke="#1b3f7a" stroke-width="1.3" fill="none" stroke-linejoin="round" stroke-linecap="round"/>
<path d="M261.30,1.18 L262.09,32.49 L262.88,56.26 L263.67,74.18 L264.46,88.17 L265.25,97.33 L266.04,102.61 L266.83,105.66 L267.62,107.69 L268.41,109.02 L269.20,109.43 L269.99,109.62 L270.79,109.73 L271.58,109.75 L272.37,109.66 L273.16,109.49 L273.95,109.28 L274.74,109.07 L275.53,108.90 L276.32,108.73 L277.11,108.56 L277.90,108.39 L278.69,108.24 L279.48,108.12 L280.27,108.07 L281.06,108.09 L281.85,108.20 L282.64,108.37 L283.43,108.60 L284.22,108.86 L285.01,109.14 L285.80,109.44 L286.59,109.81 L287.38,110.26 L288.18,110.77 L288.97,111.33 L289.76,111.91 L290.55,112.51 L291.34,113.17 L292.13,113.90 L292.92,114.67 L293.71,115.45 L294.50,116.21 L295.29,116.92 L296.08,117.60 L296.87,118.29 L297.66,118.97 L298.45,119.61 L299.24,120.20 L300.03,120.71 L300.82,121.18 L301.61,121.62 L302.40,122.05 L303.19,122.45 L303.98,122.84 L304.77,123.21 L305.57,123.57 L306.36,123.91 L307.15,124.25 L307.94,124.57 L308.73,124.89 L309.52,125.21 L310.31,125.52 L311.10,125.83 L311.89,126.14 L312.68,126.45 L313.47,126.75 L314.26,127.05 L315.05,127.35 L315.84,127.64 L316.63,127.93 L317.42,128.21 L318.21,128.49 L319.00,128.76 L319.79,129.02 L320.58,129.28 L321.37,129.53 L322.16,129.78 L322.96,130.01 L323.75,130.24 L324.54,130.46 L325.33,130.67 L326.12,130.88 L326.91,131.08 L327.70,131.28 L328.49,131.47 L329.28,131.66 L330.07,131.84 L330.86,132.02 L331.65,132.20 L332.44,132.38 L333.23,132.55 L334.02,132.72 L334.81,132.89 L335.60,133.05 L336.39,133.22 L337.18,133.38 L337.97,133.54 L338.76,133.70 L339.55,133.87 L340.35,134.03 L341.14,134.20 L341.93,134.36 L342.72,134.54 L343.51,134.71 L344.30,134.88 L345.09,135.05 L345.88,135.22 L346.67,135.39 L347.46,135.56 L348.25,135.72 L349.04,135.88 L349.83,136.03 L350.62,136.17 L351.41,136.31 L352.20,136.44 L352.99,136.56 L353.78,136.67 L354.57,136.77 L355.36,136.86 L356.15,136.94 L356.94,137.02 L357.74,137.09 L358.53,137.16 L359.32,137.23 L360.11,137.30 L360.90,137.37 L361.69,137.43 L362.48,137.49 L363.27,137.55 L364.06,137.61 L364.85,137.66 L365.64,137.71 L366.43,137.75 L367.22,137.79 L368.01,137.83 L368.80,137.86 L369.59,137.89 L370.38,137.92 L371.17,137.94 L371.96,137.96 L372.75,137.98 L373.54,137.99 L374.33,138.01 L375.13,138.02 L375.92,138.04 L376.71,138.05 L377.50,138.07 L378.29,138.08 L379.08,138.09 L379.87,138.10 L380.66,138.11 L381.45,138.12 L382.24,138.13 L383.03,138.14 L383.82,138.14 L384.61,138.15 L385.40,138.15 L386.19,138.16 L386.98,138.16 L387.77,138.16 L388.56,138.16 L389.35,138.16 L390.14,138.16 L390.93,138.16 L391.72,138.16 L392.52,138.16 L393.31,138.16 L394.10,138.16 L394.89,138.16 L395.68,138.16 L396.47,138.16 L397.26,138.16 L398.05,138.16 L398.84,138.16 L399.63,138.16 L400.42,138.16 L401.21,138.16 L402.00,138.16 L402.79,138.16 L403.58,138.16 L404.37,138.16 L405.16,138.16 L405.95,138.16 L406.74,138.16 L407.53,138.16 L408.32,138.16 L409.11,138.16 L409.91,138.16 L410.70,138.16 L411.49,138.16 L412.28,138.16 L413.07,138.16 L413.86,138.16 L414.65,138.16 L415.44,138.16 L416.23,138.16 L417.02,138.16 L417.81,138.16 L418.60,138.16" stroke="#2f6db5" stroke-width="1.3" fill="none" stroke-linejoin="round" stroke-linecap="round"/>
<path d="M261.30,1.18 L262.09,39.04 L262.88,65.08 L263.67,82.77 L264.46,95.35 L265.25,103.60 L266.04,108.81 L266.83,112.02 L267.62,114.16 L268.41,115.52 L269.20,116.22 L269.99,116.72 L270.79,116.90 L271.58,116.90 L272.37,116.90 L273.16,116.90 L273.95,116.90 L274.74,116.90 L275.53,116.90 L276.32,116.88 L277.11,116.83 L277.90,116.76 L278.69,116.69 L279.48,116.61 L280.27,116.54 L281.06,116.50 L281.85,116.48 L282.64,116.52 L283.43,116.62 L284.22,116.76 L285.01,116.94 L285.80,117.14 L286.59,117.36 L287.38,117.68 L288.18,118.11 L288.97,118.61 L289.76,119.12 L290.55,119.62 L291.34,120.13 L292.13,120.68 L292.92,121.23 L293.71,121.78 L294.50,122.31 L295.29,122.80 L296.08,123.27 L296.87,123.72 L297.66,124.16 L298.45,124.58 L299.24,124.97 L300.03,125.34 L300.82,125.68 L301.61,126.02 L302.40,126.35 L303.19,126.66 L303.98,126.97 L304.77,127.27 L305.57,127.57 L306.36,127.85 L307.15,128.12 L307.94,128.39 L308.73,128.65 L309.52,128.90 L310.31,129.14 L311.10,129.37 L311.89,129.60 L312.68,129.82 L313.47,130.03 L314.26,130.24 L315.05,130.44 L315.84,130.64 L316.63,130.83 L317.42,131.02 L318.21,131.20 L319.00,131.38 L319.79,131.55 L320.58,131.72 L321.37,131.89 L322.16,132.06 L322.96,132.22 L323.75,132.38 L324.54,132.54 L325.33,132.69 L326.12,132.85 L326.91,133.00 L327.70,133.14 L328.49,133.29 L329.28,133.43 L330.07,133.57 L330.86,133.71 L331.65,133.85 L332.44,133.98 L333.23,134.12 L334.02,134.25 L334.81,134.38 L335.60,134.51 L336.39,134.64 L337.18,134.77 L337.97,134.89 L338.76,135.02 L339.55,135.15 L340.35,135.27 L341.14,135.40 L341.93,135.54 L342.72,135.67 L343.51,135.81 L344.30,135.95 L345.09,136.09 L345.88,136.23 L346.67,136.36 L347.46,136.50 L348.25,136.63 L349.04,136.75 L349.83,136.88 L350.62,136.99 L351.41,137.10 L352.20,137.20 L352.99,137.29 L353.78,137.37 L354.57,137.44 L355.36,137.50 L356.15,137.55 L356.94,137.60 L357.74,137.65 L358.53,137.69 L359.32,137.73 L360.11,137.77 L360.90,137.81 L361.69,137.85 L362.48,137.88 L363.27,137.91 L364.06,137.95 L364.85,137.97 L365.64,138.00 L366.43,138.03 L367.22,138.05 L368.01,138.07 L368.80,138.10 L369.59,138.12 L370.38,138.13 L371.17,138.15 L371.96,138.17 L372.75,138.18 L373.54,138.20 L374.33,138.21 L375.13,138.23 L375.92,138.24 L376.71,138.26 L377.50,138.27 L378.29,138.29 L379.08,138.30 L379.87,138.31 L380.66,138.32 L381.45,138.33 L382.24,138.34 L383.03,138.35 L383.82,138.35 L384.61,138.36 L385.40,138.36 L386.19,138.37 L386.98,138.37 L387.77,138.37 L388.56,138.37 L389.35,138.37 L390.14,138.37 L390.93,138.37 L391.72,138.37 L392.52,138.37 L393.31,138.37 L394.10,138.37 L394.89,138.37 L395.68,138.37 L396.47,138.37 L397.26,138.37 L398.05,138.37 L398.84,138.37 L399.63,138.37 L400.42,138.37 L401.21,138.37 L402.00,138.37 L402.79,138.37 L403.58,138.37 L404.37,138.37 L405.16,138.37 L405.95,138.37 L406.74,138.37 L407.53,138.37 L408.32,138.37 L409.11,138.37 L409.91,138.37 L410.70,138.37 L411.49,138.37 L412.28,138.37 L413.07,138.37 L413.86,138.37 L414.65,138.37 L415.44,138.37 L416.23,138.37 L417.02,138.37 L417.81,138.37 L418.60,138.37" stroke="#6ea6d9" stroke-width="1.3" fill="none" stroke-linejoin="round" stroke-linecap="round"/>
<path d="M261.30,1.18 L262.09,40.92 L262.88,71.72 L263.67,93.18 L264.46,107.39 L265.25,116.34 L266.04,121.75 L266.83,125.43 L267.62,128.12 L268.41,129.42 L269.20,130.31 L269.99,130.77 L270.79,130.90 L271.58,131.00 L272.37,131.08 L273.16,131.14 L273.95,131.18 L274.74,131.21 L275.53,131.21 L276.32,131.21 L277.11,131.21 L277.90,131.21 L278.69,131.21 L279.48,131.21 L280.27,131.21 L281.06,131.21 L281.85,131.21 L282.64,131.22 L283.43,131.27 L284.22,131.35 L285.01,131.46 L285.80,131.59 L286.59,131.74 L287.38,131.89 L288.18,132.06 L288.97,132.22 L289.76,132.38 L290.55,132.53 L291.34,132.70 L292.13,132.89 L292.92,133.09 L293.71,133.30 L294.50,133.52 L295.29,133.73 L296.08,133.94 L296.87,134.14 L297.66,134.32 L298.45,134.48 L299.24,134.61 L300.03,134.73 L300.82,134.84 L301.61,134.94 L302.40,135.04 L303.19,135.13 L303.98,135.22 L304.77,135.30 L305.57,135.38 L306.36,135.46 L307.15,135.54 L307.94,135.61 L308.73,135.68 L309.52,135.76 L310.31,135.83 L311.10,135.89 L311.89,135.96 L312.68,136.03 L313.47,136.09 L314.26,136.15 L315.05,136.22 L315.84,136.28 L316.63,136.34 L317.42,136.40 L318.21,136.46 L319.00,136.51 L319.79,136.57 L320.58,136.63 L321.37,136.69 L322.16,136.74 L322.96,136.80 L323.75,136.86 L324.54,136.92 L325.33,136.97 L326.12,137.03 L326.91,137.09 L327.70,137.15 L328.49,137.21 L329.28,137.26 L330.07,137.32 L330.86,137.38 L331.65,137.43 L332.44,137.49 L333.23,137.54 L334.02,137.60 L334.81,137.65 L335.60,137.70 L336.39,137.75 L337.18,137.79 L337.97,137.84 L338.76,137.88 L339.55,137.93 L340.35,137.97 L341.14,138.01 L341.93,138.05 L342.72,138.09 L343.51,138.13 L344.30,138.17 L345.09,138.21 L345.88,138.25 L346.67,138.28 L347.46,138.32 L348.25,138.35 L349.04,138.39 L349.83,138.42 L350.62,138.45 L351.41,138.48 L352.20,138.50 L352.99,138.52 L353.78,138.54 L354.57,138.56 L355.36,138.57 L356.15,138.58 L356.94,138.59 L357.74,138.60 L358.53,138.61 L359.32,138.62 L360.11,138.63 L360.90,138.64 L361.69,138.65 L362.48,138.65 L363.27,138.66 L364.06,138.67 L364.85,138.68 L365.64,138.68 L366.43,138.69 L367.22,138.70 L368.01,138.71 L368.80,138.71 L369.59,138.72 L370.38,138.72 L371.17,138.73 L371.96,138.74 L372.75,138.74 L373.54,138.75 L374.33,138.75 L375.13,138.75 L375.92,138.76 L376.71,138.76 L377.50,138.77 L378.29,138.77 L379.08,138.77 L379.87,138.78 L380.66,138.78 L381.45,138.78 L382.24,138.78 L383.03,138.78 L383.82,138.78 L384.61,138.79 L385.40,138.79 L386.19,138.79 L386.98,138.79 L387.77,138.79 L388.56,138.79 L389.35,138.79 L390.14,138.79 L390.93,138.79 L391.72,138.79 L392.52,138.79 L393.31,138.79 L394.10,138.79 L394.89,138.79 L395.68,138.79 L396.47,138.79 L397.26,138.79 L398.05,138.79 L398.84,138.79 L399.63,138.79 L400.42,138.79 L401.21,138.79 L402.00,138.79 L402.79,138.79 L403.58,138.79 L404.37,138.79 L405.16,138.79 L405.95,138.79 L406.74,138.79 L407.53,138.79 L408.32,138.79 L409.11,138.79 L409.91,138.79 L410.70,138.79 L411.49,138.79 L412.28,138.79 L413.07,138.79 L413.86,138.79 L414.65,138.79 L415.44,138.79 L416.23,138.79 L417.02,138.79 L417.81,138.79 L418.60,138.79" stroke="#b7d3ee" stroke-width="1.3" fill="none" stroke-linejoin="round" stroke-linecap="round"/>
</g>
<line x1="277.03" y1="140.05" x2="277.03" y2="141.55" stroke="#444" stroke-width="0.7"/>
<line x1="308.49" y1="140.05" x2="308.49" y2="141.55" stroke="#444" stroke-width="0.7"/>
<line x1="339.95" y1="140.05" x2="339.95" y2="141.55" stroke="#444" stroke-width="0.7"/>
<line x1="371.41" y1="140.05" x2="371.41" y2="141.55" stroke="#444" stroke-width="0.7"/>
<line x1="402.87" y1="140.05" x2="402.87" y2="141.55" stroke="#444" stroke-width="0.7"/>
<line x1="261.30" y1="140.05" x2="261.30" y2="142.65" stroke="#444" stroke-width="0.8"/>
<line x1="292.76" y1="140.05" x2="292.76" y2="142.65" stroke="#444" stroke-width="0.8"/>
<line x1="324.22" y1="140.05" x2="324.22" y2="142.65" stroke="#444" stroke-width="0.8"/>
<line x1="355.68" y1="140.05" x2="355.68" y2="142.65" stroke="#444" stroke-width="0.8"/>
<line x1="387.14" y1="140.05" x2="387.14" y2="142.65" stroke="#444" stroke-width="0.8"/>
<line x1="418.60" y1="140.05" x2="418.60" y2="142.65" stroke="#444" stroke-width="0.8"/>
<line x1="259.80" y1="129.53" x2="261.30" y2="129.53" stroke="#444" stroke-width="0.7"/>
<line x1="259.80" y1="108.49" x2="261.30" y2="108.49" stroke="#444" stroke-width="0.7"/>
<line x1="259.80" y1="87.45" x2="261.30" y2="87.45" stroke="#444" stroke-width="0.7"/>
<line x1="259.80" y1="66.40" x2="261.30" y2="66.40" stroke="#444" stroke-width="0.7"/>
<line x1="259.80" y1="45.36" x2="261.30" y2="45.36" stroke="#444" stroke-width="0.7"/>
<line x1="259.80" y1="24.32" x2="261.30" y2="24.32" stroke="#444" stroke-width="0.7"/>
<line x1="258.70" y1="140.05" x2="261.30" y2="140.05" stroke="#444" stroke-width="0.8"/>
<line x1="258.70" y1="119.01" x2="261.30" y2="119.01" stroke="#444" stroke-width="0.8"/>
<line x1="258.70" y1="97.97" x2="261.30" y2="97.97" stroke="#444" stroke-width="0.8"/>
<line x1="258.70" y1="76.93" x2="261.30" y2="76.93" stroke="#444" stroke-width="0.8"/>
<line x1="258.70" y1="55.88" x2="261.30" y2="55.88" stroke="#444" stroke-width="0.8"/>
<line x1="258.70" y1="34.84" x2="261.30" y2="34.84" stroke="#444" stroke-width="0.8"/>
<line x1="258.70" y1="13.80" x2="261.30" y2="13.80" stroke="#444" stroke-width="0.8"/>
<line x1="261.30" y1="13.80" x2="261.30" y2="140.50" stroke="#444" stroke-width="0.9"/>
<line x1="260.85" y1="140.05" x2="418.60" y2="140.05" stroke="#444" stroke-width="0.9"/>
<text x="261.30" y="150.65" font-size="7.8" font-weight="bold" font-style="normal" text-anchor="middle" fill="#1a1a1a" transform="matrix(1.0 0 0 1.06 0.000 -9.039)"><tspan>400</tspan></text>
<text x="292.76" y="150.65" font-size="7.8" font-weight="bold" font-style="normal" text-anchor="middle" fill="#1a1a1a" transform="matrix(1.0 0 0 1.06 0.000 -9.039)"><tspan>500</tspan></text>
<text x="324.22" y="150.65" font-size="7.8" font-weight="bold" font-style="normal" text-anchor="middle" fill="#1a1a1a" transform="matrix(1.0 0 0 1.06 0.000 -9.039)"><tspan>600</tspan></text>
<text x="355.68" y="150.65" font-size="7.8" font-weight="bold" font-style="normal" text-anchor="middle" fill="#1a1a1a" transform="matrix(1.0 0 0 1.06 0.000 -9.039)"><tspan>700</tspan></text>
<text x="387.14" y="150.65" font-size="7.8" font-weight="bold" font-style="normal" text-anchor="middle" fill="#1a1a1a" transform="matrix(1.0 0 0 1.06 0.000 -9.039)"><tspan>800</tspan></text>
<text x="418.60" y="150.65" font-size="7.8" font-weight="bold" font-style="normal" text-anchor="middle" fill="#1a1a1a" transform="matrix(1.0 0 0 1.06 0.000 -9.039)"><tspan>900</tspan></text>
<text x="256.90" y="142.78" font-size="7.8" font-weight="bold" font-style="normal" text-anchor="end" fill="#1a1a1a" transform="matrix(1.0 0 0 1.06 0.000 -8.567)"><tspan>0.0</tspan></text>
<text x="256.90" y="121.74" font-size="7.8" font-weight="bold" font-style="normal" text-anchor="end" fill="#1a1a1a" transform="matrix(1.0 0 0 1.06 0.000 -7.304)"><tspan>0.5</tspan></text>
<text x="256.90" y="100.70" font-size="7.8" font-weight="bold" font-style="normal" text-anchor="end" fill="#1a1a1a" transform="matrix(1.0 0 0 1.06 0.000 -6.042)"><tspan>1.0</tspan></text>
<text x="256.90" y="79.66" font-size="7.8" font-weight="bold" font-style="normal" text-anchor="end" fill="#1a1a1a" transform="matrix(1.0 0 0 1.06 0.000 -4.779)"><tspan>1.5</tspan></text>
<text x="256.90" y="58.61" font-size="7.8" font-weight="bold" font-style="normal" text-anchor="end" fill="#1a1a1a" transform="matrix(1.0 0 0 1.06 0.000 -3.517)"><tspan>2.0</tspan></text>
<text x="256.90" y="37.57" font-size="7.8" font-weight="bold" font-style="normal" text-anchor="end" fill="#1a1a1a" transform="matrix(1.0 0 0 1.06 0.000 -2.254)"><tspan>2.5</tspan></text>
<text x="256.90" y="16.53" font-size="7.8" font-weight="bold" font-style="normal" text-anchor="end" fill="#1a1a1a" transform="matrix(1.0 0 0 1.06 0.000 -0.992)"><tspan>3.0</tspan></text>
<rect x="262.20" y="62.30" width="28.10" height="76.00" fill="none" stroke="#8a8a8a" stroke-width="1.0"/>
<line x1="274.20" y1="71.50" x2="274.20" y2="91.30" stroke="#111" stroke-width="1.1"/>
<path d="M274.20,96.10 L271.90,88.10 L274.20,90.10 L276.50,88.10 Z" fill="#111"/>
<text x="240.70" y="76.90" font-size="7.8" font-weight="bold" font-style="normal" text-anchor="middle" fill="#1a1a1a" transform="rotate(-90 240.7 76.9)"><tspan>Absorbance (A.U.)</tspan></text>
<text x="340.00" y="161.80" font-size="7.8" font-weight="bold" font-style="normal" text-anchor="middle" fill="#1a1a1a" transform="matrix(1.0 0 0 1.06 0.000 -9.708)"><tspan>Wavelength (nm)</tspan></text>
<line x1="270.50" y1="17.60" x2="282.30" y2="17.60" stroke="#1b3f7a" stroke-width="1.6"/>
<text x="286.10" y="19.98" font-size="7.8" font-weight="bold" font-style="normal" text-anchor="start" fill="#1a1a1a" transform="matrix(1.0 0 0 1.06 0.000 -1.199)"><tspan>Mn(acac)</tspan><tspan font-size="6.63" dy="2.34">2</tspan><tspan dy="-2.34"> + L1 + TMSN</tspan><tspan font-size="6.63" dy="2.34">3</tspan></text>
<line x1="270.50" y1="29.70" x2="282.30" y2="29.70" stroke="#2f6db5" stroke-width="1.6"/>
<text x="286.10" y="32.08" font-size="7.8" font-weight="bold" font-style="normal" text-anchor="start" fill="#1a1a1a" transform="matrix(1.0 0 0 1.06 0.000 -1.925)"><tspan>Irradiation at 440 nm for 3 min under N</tspan><tspan font-size="6.63" dy="2.34">2</tspan></text>
<line x1="270.50" y1="41.80" x2="282.30" y2="41.80" stroke="#6ea6d9" stroke-width="1.6"/>
<text x="286.10" y="44.18" font-size="7.8" font-weight="bold" font-style="normal" text-anchor="start" fill="#1a1a1a" transform="matrix(1.0 0 0 1.06 0.000 -2.651)"><tspan>Irradiation at 440 nm for 6 min under N</tspan><tspan font-size="6.63" dy="2.34">2</tspan></text>
<line x1="270.50" y1="53.90" x2="282.30" y2="53.90" stroke="#b7d3ee" stroke-width="1.6"/>
<text x="286.10" y="56.28" font-size="7.8" font-weight="bold" font-style="normal" text-anchor="start" fill="#1a1a1a" transform="matrix(1.0 0 0 1.06 0.000 -3.377)"><tspan>Irradiation at 440 nm for 9 min under N</tspan><tspan font-size="6.63" dy="2.34">2</tspan></text>
<text x="449.40" y="12.90" font-size="9.6" font-weight="bold" font-style="normal" text-anchor="start" fill="#111" transform="matrix(1.0 0 0 1.09 0.000 -1.161)"><tspan>C</tspan></text>
<path d="M483.40,37.13 L484.19,38.18 L484.97,39.23 L485.76,40.29 L486.55,41.35 L487.33,42.42 L488.12,43.50 L488.91,44.58 L489.69,45.66 L490.48,46.75 L491.26,47.84 L492.05,48.94 L492.84,50.04 L493.62,51.15 L494.41,52.26 L495.20,53.37 L495.98,54.50 L496.77,55.62 L497.56,56.75 L498.34,57.88 L499.13,59.02 L499.92,60.18 L500.70,61.37 L501.49,62.59 L502.27,63.83 L503.06,65.08 L503.85,66.34 L504.63,67.60 L505.42,68.86 L506.21,70.12 L506.99,71.36 L507.78,72.58 L508.57,73.78 L509.35,74.95 L510.14,76.08 L510.93,77.17 L511.71,78.21 L512.50,79.20 L513.28,80.15 L514.07,81.08 L514.86,82.00 L515.64,82.90 L516.43,83.78 L517.22,84.65 L518.00,85.50 L518.79,86.34 L519.58,87.16 L520.36,87.96 L521.15,88.74 L521.94,89.51 L522.72,90.27 L523.51,91.00 L524.29,91.72 L525.08,92.42 L525.87,93.11 L526.65,93.77 L527.44,94.42 L528.23,95.06 L529.01,95.67 L529.80,96.29 L530.59,96.89 L531.37,97.48 L532.16,98.07 L532.95,98.64 L533.73,99.21 L534.52,99.77 L535.30,100.32 L536.09,100.87 L536.88,101.40 L537.66,101.93 L538.45,102.45 L539.24,102.96 L540.02,103.47 L540.81,103.97 L541.60,104.46 L542.38,104.94 L543.17,105.42 L543.96,105.88 L544.74,106.34 L545.53,106.80 L546.31,107.25 L547.10,107.69 L547.89,108.12 L548.67,108.54 L549.46,108.96 L550.25,109.38 L551.03,109.78 L551.82,110.18 L552.61,110.58 L553.39,110.96 L554.18,111.35 L554.97,111.73 L555.75,112.10 L556.54,112.48 L557.32,112.85 L558.11,113.21 L558.90,113.57 L559.68,113.93 L560.47,114.28 L561.26,114.63 L562.04,114.97 L562.83,115.31 L563.62,115.64 L564.40,115.97 L565.19,116.29 L565.98,116.61 L566.76,116.92 L567.55,117.22 L568.33,117.53 L569.12,117.82 L569.91,118.11 L570.69,118.39 L571.48,118.67 L572.27,118.94 L573.05,119.21 L573.84,119.47 L574.63,119.72 L575.41,119.97 L576.20,120.21 L576.99,120.44 L577.77,120.67 L578.56,120.90 L579.34,121.12 L580.13,121.35 L580.92,121.57 L581.70,121.79 L582.49,122.00 L583.28,122.21 L584.06,122.43 L584.85,122.63 L585.64,122.84 L586.42,123.04 L587.21,123.23 L588.00,123.43 L588.78,123.62 L589.57,123.80 L590.35,123.98 L591.14,124.16 L591.93,124.33 L592.71,124.50 L593.50,124.66 L594.29,124.82 L595.07,124.97 L595.86,125.12 L596.65,125.26 L597.43,125.40 L598.22,125.53 L599.01,125.65 L599.79,125.77 L600.58,125.88 L601.36,125.99 L602.15,126.09 L602.94,126.20 L603.72,126.31 L604.51,126.42 L605.30,126.52 L606.08,126.63 L606.87,126.73 L607.66,126.84 L608.44,126.94 L609.23,127.04 L610.02,127.14 L610.80,127.23 L611.59,127.33 L612.37,127.42 L613.16,127.51 L613.95,127.59 L614.73,127.67 L615.52,127.75 L616.31,127.82 L617.09,127.89 L617.88,127.95 L618.67,128.01 L619.45,128.06 L620.24,128.10 L621.03,128.14 L621.81,128.18 L622.60,128.21 L623.38,128.23 L624.17,128.24 L624.96,128.25 L625.74,128.25 L626.53,128.25 L627.32,128.25 L628.10,128.25 L628.89,128.25 L629.68,128.25 L630.46,128.25 L631.25,128.25 L632.04,128.25 L632.82,128.25 L633.61,128.25 L634.39,128.25 L635.18,128.25 L635.97,128.25 L636.75,128.25 L637.54,128.25 L638.33,128.25 L639.11,128.25 L639.90,128.25" stroke="#9c2a2a" stroke-width="1.3" fill="none" stroke-linejoin="round" stroke-linecap="round"/>
<path d="M483.40,68.45 L484.19,69.45 L484.97,70.44 L485.76,71.42 L486.55,72.38 L487.33,73.34 L488.12,74.29 L488.91,75.23 L489.69,76.16 L490.48,77.08 L491.26,77.99 L492.05,78.88 L492.84,79.77 L493.62,80.64 L494.41,81.50 L495.20,82.34 L495.98,83.18 L496.77,84.00 L497.56,84.80 L498.34,85.60 L499.13,86.38 L499.92,87.14 L500.70,87.90 L501.49,88.65 L502.27,89.39 L503.06,90.11 L503.85,90.84 L504.63,91.55 L505.42,92.26 L506.21,92.96 L506.99,93.66 L507.78,94.36 L508.57,95.05 L509.35,95.74 L510.14,96.43 L510.93,97.12 L511.71,97.81 L512.50,98.50 L513.28,99.20 L514.07,99.90 L514.86,100.61 L515.64,101.32 L516.43,102.03 L517.22,102.74 L518.00,103.46 L518.79,104.17 L519.58,104.87 L520.36,105.57 L521.15,106.25 L521.94,106.93 L522.72,107.60 L523.51,108.26 L524.29,108.89 L525.08,109.52 L525.87,110.12 L526.65,110.71 L527.44,111.27 L528.23,111.81 L529.01,112.33 L529.80,112.85 L530.59,113.37 L531.37,113.87 L532.16,114.37 L532.95,114.87 L533.73,115.36 L534.52,115.84 L535.30,116.31 L536.09,116.78 L536.88,117.25 L537.66,117.70 L538.45,118.15 L539.24,118.60 L540.02,119.03 L540.81,119.46 L541.60,119.88 L542.38,120.30 L543.17,120.71 L543.96,121.11 L544.74,121.50 L545.53,121.88 L546.31,122.26 L547.10,122.63 L547.89,122.99 L548.67,123.35 L549.46,123.69 L550.25,124.03 L551.03,124.36 L551.82,124.68 L552.61,125.00 L553.39,125.31 L554.18,125.61 L554.97,125.91 L555.75,126.21 L556.54,126.50 L557.32,126.79 L558.11,127.08 L558.90,127.36 L559.68,127.64 L560.47,127.91 L561.26,128.18 L562.04,128.44 L562.83,128.70 L563.62,128.96 L564.40,129.21 L565.19,129.46 L565.98,129.70 L566.76,129.94 L567.55,130.17 L568.33,130.39 L569.12,130.61 L569.91,130.83 L570.69,131.03 L571.48,131.24 L572.27,131.43 L573.05,131.62 L573.84,131.81 L574.63,131.99 L575.41,132.16 L576.20,132.32 L576.99,132.48 L577.77,132.63 L578.56,132.79 L579.34,132.94 L580.13,133.10 L580.92,133.25 L581.70,133.40 L582.49,133.55 L583.28,133.70 L584.06,133.84 L584.85,133.98 L585.64,134.12 L586.42,134.26 L587.21,134.39 L588.00,134.52 L588.78,134.65 L589.57,134.77 L590.35,134.89 L591.14,135.00 L591.93,135.11 L592.71,135.22 L593.50,135.32 L594.29,135.41 L595.07,135.50 L595.86,135.58 L596.65,135.66 L597.43,135.73 L598.22,135.79 L599.01,135.85 L599.79,135.90 L600.58,135.95 L601.36,135.98 L602.15,136.02 L602.94,136.06 L603.72,136.09 L604.51,136.13 L605.30,136.16 L606.08,136.19 L606.87,136.23 L607.66,136.26 L608.44,136.29 L609.23,136.32 L610.02,136.35 L610.80,136.37 L611.59,136.40 L612.37,136.43 L613.16,136.45 L613.95,136.47 L614.73,136.49 L615.52,136.51 L616.31,136.53 L617.09,136.55 L617.88,136.56 L618.67,136.58 L619.45,136.59 L620.24,136.60 L621.03,136.61 L621.81,136.62 L622.60,136.62 L623.38,136.62 L624.17,136.62 L624.96,136.62 L625.74,136.62 L626.53,136.62 L627.32,136.62 L628.10,136.62 L628.89,136.62 L629.68,136.62 L630.46,136.62 L631.25,136.62 L632.04,136.62 L632.82,136.62 L633.61,136.62 L634.39,136.62 L635.18,136.62 L635.97,136.62 L636.75,136.62 L637.54,136.62 L638.33,136.62 L639.11,136.62 L639.90,136.62" stroke="#d9302c" stroke-width="1.3" fill="none" stroke-linejoin="round" stroke-linecap="round"/>
<path d="M483.40,90.23 L484.19,90.95 L484.97,91.66 L485.76,92.37 L486.55,93.07 L487.33,93.76 L488.12,94.44 L488.91,95.12 L489.69,95.79 L490.48,96.45 L491.26,97.10 L492.05,97.75 L492.84,98.39 L493.62,99.01 L494.41,99.64 L495.20,100.25 L495.98,100.85 L496.77,101.45 L497.56,102.03 L498.34,102.61 L499.13,103.18 L499.92,103.74 L500.70,104.30 L501.49,104.85 L502.27,105.39 L503.06,105.92 L503.85,106.44 L504.63,106.96 L505.42,107.48 L506.21,107.98 L506.99,108.48 L507.78,108.97 L508.57,109.45 L509.35,109.93 L510.14,110.40 L510.93,110.86 L511.71,111.32 L512.50,111.77 L513.28,112.21 L514.07,112.65 L514.86,113.09 L515.64,113.52 L516.43,113.95 L517.22,114.37 L518.00,114.79 L518.79,115.21 L519.58,115.62 L520.36,116.03 L521.15,116.43 L521.94,116.82 L522.72,117.21 L523.51,117.60 L524.29,117.98 L525.08,118.36 L525.87,118.72 L526.65,119.09 L527.44,119.44 L528.23,119.80 L529.01,120.14 L529.80,120.48 L530.59,120.81 L531.37,121.14 L532.16,121.47 L532.95,121.80 L533.73,122.13 L534.52,122.45 L535.30,122.77 L536.09,123.09 L536.88,123.41 L537.66,123.72 L538.45,124.03 L539.24,124.34 L540.02,124.64 L540.81,124.94 L541.60,125.24 L542.38,125.53 L543.17,125.81 L543.96,126.09 L544.74,126.36 L545.53,126.63 L546.31,126.89 L547.10,127.14 L547.89,127.39 L548.67,127.63 L549.46,127.86 L550.25,128.09 L551.03,128.30 L551.82,128.51 L552.61,128.71 L553.39,128.90 L554.18,129.09 L554.97,129.27 L555.75,129.45 L556.54,129.63 L557.32,129.80 L558.11,129.97 L558.90,130.14 L559.68,130.30 L560.47,130.46 L561.26,130.62 L562.04,130.77 L562.83,130.92 L563.62,131.07 L564.40,131.22 L565.19,131.36 L565.98,131.50 L566.76,131.64 L567.55,131.77 L568.33,131.90 L569.12,132.03 L569.91,132.16 L570.69,132.29 L571.48,132.41 L572.27,132.53 L573.05,132.66 L573.84,132.77 L574.63,132.89 L575.41,133.01 L576.20,133.12 L576.99,133.23 L577.77,133.34 L578.56,133.45 L579.34,133.56 L580.13,133.67 L580.92,133.78 L581.70,133.89 L582.49,133.99 L583.28,134.10 L584.06,134.20 L584.85,134.30 L585.64,134.40 L586.42,134.50 L587.21,134.60 L588.00,134.70 L588.78,134.79 L589.57,134.89 L590.35,134.98 L591.14,135.07 L591.93,135.15 L592.71,135.24 L593.50,135.32 L594.29,135.40 L595.07,135.48 L595.86,135.55 L596.65,135.62 L597.43,135.69 L598.22,135.76 L599.01,135.82 L599.79,135.88 L600.58,135.94 L601.36,136.00 L602.15,136.05 L602.94,136.10 L603.72,136.15 L604.51,136.20 L605.30,136.25 L606.08,136.30 L606.87,136.35 L607.66,136.40 L608.44,136.44 L609.23,136.49 L610.02,136.53 L610.80,136.57 L611.59,136.61 L612.37,136.65 L613.16,136.69 L613.95,136.73 L614.73,136.77 L615.52,136.80 L616.31,136.84 L617.09,136.87 L617.88,136.90 L618.67,136.94 L619.45,136.97 L620.24,137.00 L621.03,137.02 L621.81,137.05 L622.60,137.08 L623.38,137.10 L624.17,137.13 L624.96,137.15 L625.74,137.17 L626.53,137.19 L627.32,137.21 L628.10,137.24 L628.89,137.26 L629.68,137.28 L630.46,137.30 L631.25,137.31 L632.04,137.33 L632.82,137.35 L633.61,137.37 L634.39,137.38 L635.18,137.40 L635.97,137.41 L636.75,137.42 L637.54,137.43 L638.33,137.44 L639.11,137.45 L639.90,137.46" stroke="#f07c7a" stroke-width="1.3" fill="none" stroke-linejoin="round" stroke-linecap="round"/>
<path d="M483.40,95.09 L484.19,95.57 L484.97,96.06 L485.76,96.55 L486.55,97.04 L487.33,97.53 L488.12,98.02 L488.91,98.51 L489.69,99.00 L490.48,99.49 L491.26,99.97 L492.05,100.46 L492.84,100.95 L493.62,101.44 L494.41,101.93 L495.20,102.41 L495.98,102.90 L496.77,103.39 L497.56,103.87 L498.34,104.36 L499.13,104.85 L499.92,105.34 L500.70,105.84 L501.49,106.34 L502.27,106.84 L503.06,107.35 L503.85,107.85 L504.63,108.36 L505.42,108.86 L506.21,109.36 L506.99,109.86 L507.78,110.35 L508.57,110.83 L509.35,111.31 L510.14,111.78 L510.93,112.24 L511.71,112.68 L512.50,113.11 L513.28,113.54 L514.07,113.96 L514.86,114.38 L515.64,114.80 L516.43,115.22 L517.22,115.63 L518.00,116.04 L518.79,116.45 L519.58,116.85 L520.36,117.25 L521.15,117.64 L521.94,118.02 L522.72,118.40 L523.51,118.77 L524.29,119.13 L525.08,119.48 L525.87,119.82 L526.65,120.15 L527.44,120.47 L528.23,120.78 L529.01,121.08 L529.80,121.36 L530.59,121.63 L531.37,121.89 L532.16,122.15 L532.95,122.41 L533.73,122.65 L534.52,122.90 L535.30,123.14 L536.09,123.37 L536.88,123.60 L537.66,123.83 L538.45,124.05 L539.24,124.27 L540.02,124.48 L540.81,124.69 L541.60,124.89 L542.38,125.09 L543.17,125.29 L543.96,125.48 L544.74,125.67 L545.53,125.86 L546.31,126.04 L547.10,126.22 L547.89,126.39 L548.67,126.56 L549.46,126.73 L550.25,126.90 L551.03,127.06 L551.82,127.22 L552.61,127.38 L553.39,127.53 L554.18,127.69 L554.97,127.84 L555.75,127.99 L556.54,128.14 L557.32,128.28 L558.11,128.43 L558.90,128.57 L559.68,128.71 L560.47,128.85 L561.26,128.99 L562.04,129.13 L562.83,129.26 L563.62,129.39 L564.40,129.52 L565.19,129.65 L565.98,129.77 L566.76,129.89 L567.55,130.01 L568.33,130.13 L569.12,130.24 L569.91,130.36 L570.69,130.46 L571.48,130.57 L572.27,130.67 L573.05,130.77 L573.84,130.87 L574.63,130.97 L575.41,131.06 L576.20,131.15 L576.99,131.23 L577.77,131.31 L578.56,131.40 L579.34,131.48 L580.13,131.56 L580.92,131.64 L581.70,131.72 L582.49,131.79 L583.28,131.87 L584.06,131.95 L584.85,132.02 L585.64,132.09 L586.42,132.17 L587.21,132.24 L588.00,132.31 L588.78,132.37 L589.57,132.44 L590.35,132.50 L591.14,132.56 L591.93,132.62 L592.71,132.68 L593.50,132.73 L594.29,132.78 L595.07,132.83 L595.86,132.88 L596.65,132.92 L597.43,132.97 L598.22,133.00 L599.01,133.04 L599.79,133.07 L600.58,133.10 L601.36,133.13 L602.15,133.15 L602.94,133.18 L603.72,133.21 L604.51,133.23 L605.30,133.26 L606.08,133.28 L606.87,133.30 L607.66,133.33 L608.44,133.35 L609.23,133.37 L610.02,133.39 L610.80,133.41 L611.59,133.43 L612.37,133.45 L613.16,133.47 L613.95,133.49 L614.73,133.51 L615.52,133.52 L616.31,133.54 L617.09,133.55 L617.88,133.56 L618.67,133.57 L619.45,133.58 L620.24,133.59 L621.03,133.60 L621.81,133.60 L622.60,133.61 L623.38,133.61 L624.17,133.61 L624.96,133.61 L625.74,133.61 L626.53,133.61 L627.32,133.61 L628.10,133.61 L628.89,133.61 L629.68,133.61 L630.46,133.61 L631.25,133.61 L632.04,133.61 L632.82,133.61 L633.61,133.61 L634.39,133.61 L635.18,133.61 L635.97,133.61 L636.75,133.61 L637.54,133.61 L638.33,133.61 L639.11,133.61 L639.90,133.61" stroke="#f7b6b2" stroke-width="1.3" fill="none" stroke-linejoin="round" stroke-linecap="round"/>
<line x1="496.44" y1="138.30" x2="496.44" y2="139.80" stroke="#444" stroke-width="0.7"/>
<line x1="522.52" y1="138.30" x2="522.52" y2="139.80" stroke="#444" stroke-width="0.7"/>
<line x1="548.61" y1="138.30" x2="548.61" y2="139.80" stroke="#444" stroke-width="0.7"/>
<line x1="574.69" y1="138.30" x2="574.69" y2="139.80" stroke="#444" stroke-width="0.7"/>
<line x1="600.77" y1="138.30" x2="600.77" y2="139.80" stroke="#444" stroke-width="0.7"/>
<line x1="626.86" y1="138.30" x2="626.86" y2="139.80" stroke="#444" stroke-width="0.7"/>
<line x1="483.40" y1="138.30" x2="483.40" y2="140.90" stroke="#444" stroke-width="0.8"/>
<line x1="509.48" y1="138.30" x2="509.48" y2="140.90" stroke="#444" stroke-width="0.8"/>
<line x1="535.57" y1="138.30" x2="535.57" y2="140.90" stroke="#444" stroke-width="0.8"/>
<line x1="561.65" y1="138.30" x2="561.65" y2="140.90" stroke="#444" stroke-width="0.8"/>
<line x1="587.73" y1="138.30" x2="587.73" y2="140.90" stroke="#444" stroke-width="0.8"/>
<line x1="613.82" y1="138.30" x2="613.82" y2="140.90" stroke="#444" stroke-width="0.8"/>
<line x1="639.90" y1="138.30" x2="639.90" y2="140.90" stroke="#444" stroke-width="0.8"/>
<line x1="481.90" y1="129.93" x2="483.40" y2="129.93" stroke="#444" stroke-width="0.7"/>
<line x1="481.90" y1="113.18" x2="483.40" y2="113.18" stroke="#444" stroke-width="0.7"/>
<line x1="481.90" y1="96.43" x2="483.40" y2="96.43" stroke="#444" stroke-width="0.7"/>
<line x1="481.90" y1="79.68" x2="483.40" y2="79.68" stroke="#444" stroke-width="0.7"/>
<line x1="481.90" y1="62.92" x2="483.40" y2="62.92" stroke="#444" stroke-width="0.7"/>
<line x1="481.90" y1="46.17" x2="483.40" y2="46.17" stroke="#444" stroke-width="0.7"/>
<line x1="481.90" y1="29.42" x2="483.40" y2="29.42" stroke="#444" stroke-width="0.7"/>
<line x1="481.90" y1="12.67" x2="483.40" y2="12.67" stroke="#444" stroke-width="0.7"/>
<line x1="480.80" y1="138.30" x2="483.40" y2="138.30" stroke="#444" stroke-width="0.8"/>
<line x1="480.80" y1="121.55" x2="483.40" y2="121.55" stroke="#444" stroke-width="0.8"/>
<line x1="480.80" y1="104.80" x2="483.40" y2="104.80" stroke="#444" stroke-width="0.8"/>
<line x1="480.80" y1="88.05" x2="483.40" y2="88.05" stroke="#444" stroke-width="0.8"/>
<line x1="480.80" y1="71.30" x2="483.40" y2="71.30" stroke="#444" stroke-width="0.8"/>
<line x1="480.80" y1="54.55" x2="483.40" y2="54.55" stroke="#444" stroke-width="0.8"/>
<line x1="480.80" y1="37.80" x2="483.40" y2="37.80" stroke="#444" stroke-width="0.8"/>
<line x1="480.80" y1="21.05" x2="483.40" y2="21.05" stroke="#444" stroke-width="0.8"/>
<line x1="483.40" y1="12.67" x2="483.40" y2="138.75" stroke="#444" stroke-width="0.9"/>
<line x1="482.95" y1="138.30" x2="639.90" y2="138.30" stroke="#444" stroke-width="0.9"/>
<text x="483.40" y="150.00" font-size="7.8" font-weight="bold" font-style="normal" text-anchor="middle" fill="#1a1a1a" transform="matrix(1.0 0 0 1.06 0.000 -9.000)"><tspan>600</tspan></text>
<text x="509.48" y="150.00" font-size="7.8" font-weight="bold" font-style="normal" text-anchor="middle" fill="#1a1a1a" transform="matrix(1.0 0 0 1.06 0.000 -9.000)"><tspan>650</tspan></text>
<text x="535.57" y="150.00" font-size="7.8" font-weight="bold" font-style="normal" text-anchor="middle" fill="#1a1a1a" transform="matrix(1.0 0 0 1.06 0.000 -9.000)"><tspan>700</tspan></text>
<text x="561.65" y="150.00" font-size="7.8" font-weight="bold" font-style="normal" text-anchor="middle" fill="#1a1a1a" transform="matrix(1.0 0 0 1.06 0.000 -9.000)"><tspan>750</tspan></text>
<text x="587.73" y="150.00" font-size="7.8" font-weight="bold" font-style="normal" text-anchor="middle" fill="#1a1a1a" transform="matrix(1.0 0 0 1.06 0.000 -9.000)"><tspan>800</tspan></text>
<text x="613.82" y="150.00" font-size="7.8" font-weight="bold" font-style="normal" text-anchor="middle" fill="#1a1a1a" transform="matrix(1.0 0 0 1.06 0.000 -9.000)"><tspan>850</tspan></text>
<text x="639.90" y="150.00" font-size="7.8" font-weight="bold" font-style="normal" text-anchor="middle" fill="#1a1a1a" transform="matrix(1.0 0 0 1.06 0.000 -9.000)"><tspan>900</tspan></text>
<text x="479.00" y="141.03" font-size="7.8" font-weight="bold" font-style="normal" text-anchor="end" fill="#1a1a1a" transform="matrix(1.0 0 0 1.06 0.000 -8.462)"><tspan>0.0</tspan></text>
<text x="479.00" y="124.28" font-size="7.8" font-weight="bold" font-style="normal" text-anchor="end" fill="#1a1a1a" transform="matrix(1.0 0 0 1.06 0.000 -7.457)"><tspan>0.1</tspan></text>
<text x="479.00" y="107.53" font-size="7.8" font-weight="bold" font-style="normal" text-anchor="end" fill="#1a1a1a" transform="matrix(1.0 0 0 1.06 0.000 -6.452)"><tspan>0.2</tspan></text>
<text x="479.00" y="90.78" font-size="7.8" font-weight="bold" font-style="normal" text-anchor="end" fill="#1a1a1a" transform="matrix(1.0 0 0 1.06 0.000 -5.447)"><tspan>0.3</tspan></text>
<text x="479.00" y="74.03" font-size="7.8" font-weight="bold" font-style="normal" text-anchor="end" fill="#1a1a1a" transform="matrix(1.0 0 0 1.06 0.000 -4.442)"><tspan>0.4</tspan></text>
<text x="479.00" y="57.28" font-size="7.8" font-weight="bold" font-style="normal" text-anchor="end" fill="#1a1a1a" transform="matrix(1.0 0 0 1.06 0.000 -3.437)"><tspan>0.5</tspan></text>
<text x="479.00" y="40.53" font-size="7.8" font-weight="bold" font-style="normal" text-anchor="end" fill="#1a1a1a" transform="matrix(1.0 0 0 1.06 0.000 -2.432)"><tspan>0.6</tspan></text>
<text x="479.00" y="23.78" font-size="7.8" font-weight="bold" font-style="normal" text-anchor="end" fill="#1a1a1a" transform="matrix(1.0 0 0 1.06 0.000 -1.427)"><tspan>0.7</tspan></text>
<rect x="483.40" y="62.00" width="29.60" height="76.30" fill="none" stroke="#8a8a8a" stroke-width="1.0"/>
<line x1="496.90" y1="71.00" x2="496.90" y2="105.90" stroke="#111" stroke-width="1.1"/>
<path d="M496.90,110.70 L494.60,102.70 L496.90,104.70 L499.20,102.70 Z" fill="#111"/>
<text x="463.70" y="75.50" font-size="7.8" font-weight="bold" font-style="normal" text-anchor="middle" fill="#1a1a1a" transform="rotate(-90 463.7 75.5)"><tspan>Absorbance (A.U.)</tspan></text>
<text x="561.80" y="162.60" font-size="7.8" font-weight="bold" font-style="normal" text-anchor="middle" fill="#1a1a1a" transform="matrix(1.0 0 0 1.06 0.000 -9.756)"><tspan>Wavelength (nm)</tspan></text>
<line x1="495.00" y1="14.90" x2="507.70" y2="14.90" stroke="#9c2a2a" stroke-width="1.6"/>
<text x="510.50" y="17.28" font-size="7.8" font-weight="bold" font-style="normal" text-anchor="start" fill="#1a1a1a" transform="matrix(1.0 0 0 1.06 0.000 -1.037)"><tspan>Mn(acac)</tspan><tspan font-size="6.63" dy="2.34">2</tspan><tspan dy="-2.34"> + L1 + TMSN</tspan><tspan font-size="6.63" dy="2.34">3</tspan></text>
<line x1="495.00" y1="27.00" x2="507.70" y2="27.00" stroke="#d9302c" stroke-width="1.6"/>
<text x="510.50" y="29.38" font-size="7.8" font-weight="bold" font-style="normal" text-anchor="start" fill="#1a1a1a" transform="matrix(1.0 0 0 1.06 0.000 -1.763)"><tspan>Irradiation at 630 nm for 3 min under N</tspan><tspan font-size="6.63" dy="2.34">2</tspan></text>
<line x1="495.00" y1="39.10" x2="507.70" y2="39.10" stroke="#f07c7a" stroke-width="1.6"/>
<text x="510.50" y="41.48" font-size="7.8" font-weight="bold" font-style="normal" text-anchor="start" fill="#1a1a1a" transform="matrix(1.0 0 0 1.06 0.000 -2.489)"><tspan>Irradiation at 630 nm for 6 min under N</tspan><tspan font-size="6.63" dy="2.34">2</tspan></text>
<line x1="495.00" y1="51.20" x2="507.70" y2="51.20" stroke="#f7b6b2" stroke-width="1.6"/>
<text x="510.50" y="53.58" font-size="7.8" font-weight="bold" font-style="normal" text-anchor="start" fill="#1a1a1a" transform="matrix(1.0 0 0 1.06 0.000 -3.215)"><tspan>Irradiation at 630 nm for 9 min under N</tspan><tspan font-size="6.63" dy="2.34">2</tspan></text>
<text x="6.40" y="186.70" font-size="9.6" font-weight="bold" font-style="normal" text-anchor="start" fill="#111" transform="matrix(1.0 0 0 1.09 0.000 -16.803)"><tspan>D</tspan></text>
<path d="M37.00,208.93 L37.79,210.95 L38.57,212.95 L39.36,214.91 L40.15,216.84 L40.93,218.73 L41.72,220.59 L42.51,222.41 L43.29,224.19 L44.08,225.94 L44.86,227.65 L45.65,229.31 L46.44,230.95 L47.22,232.57 L48.01,234.17 L48.80,235.74 L49.58,237.28 L50.37,238.78 L51.16,240.23 L51.94,241.64 L52.73,243.00 L53.52,244.30 L54.30,245.54 L55.09,246.74 L55.87,247.92 L56.66,249.07 L57.45,250.19 L58.23,251.28 L59.02,252.36 L59.81,253.41 L60.59,254.43 L61.38,255.44 L62.17,256.43 L62.95,257.40 L63.74,258.35 L64.53,259.28 L65.31,260.20 L66.10,261.10 L66.88,261.99 L67.67,262.87 L68.46,263.74 L69.24,264.59 L70.03,265.43 L70.82,266.26 L71.60,267.08 L72.39,267.88 L73.18,268.67 L73.96,269.45 L74.75,270.22 L75.54,270.97 L76.32,271.72 L77.11,272.45 L77.89,273.17 L78.68,273.88 L79.47,274.58 L80.25,275.27 L81.04,275.95 L81.83,276.61 L82.61,277.27 L83.40,277.92 L84.19,278.56 L84.97,279.19 L85.76,279.82 L86.55,280.44 L87.33,281.06 L88.12,281.67 L88.90,282.27 L89.69,282.87 L90.48,283.47 L91.26,284.05 L92.05,284.63 L92.84,285.21 L93.62,285.78 L94.41,286.34 L95.20,286.90 L95.98,287.45 L96.77,288.00 L97.56,288.53 L98.34,289.07 L99.13,289.60 L99.91,290.12 L100.70,290.63 L101.49,291.14 L102.27,291.64 L103.06,292.14 L103.85,292.63 L104.63,293.12 L105.42,293.60 L106.21,294.07 L106.99,294.53 L107.78,295.00 L108.57,295.46 L109.35,295.93 L110.14,296.39 L110.92,296.85 L111.71,297.31 L112.50,297.77 L113.28,298.22 L114.07,298.68 L114.86,299.12 L115.64,299.57 L116.43,300.01 L117.22,300.44 L118.00,300.87 L118.79,301.29 L119.58,301.71 L120.36,302.11 L121.15,302.51 L121.93,302.91 L122.72,303.29 L123.51,303.66 L124.29,304.03 L125.08,304.38 L125.87,304.72 L126.65,305.05 L127.44,305.37 L128.23,305.68 L129.01,305.97 L129.80,306.25 L130.59,306.52 L131.37,306.78 L132.16,307.03 L132.94,307.27 L133.73,307.51 L134.52,307.75 L135.30,307.99 L136.09,308.22 L136.88,308.45 L137.66,308.67 L138.45,308.89 L139.24,309.10 L140.02,309.31 L140.81,309.52 L141.60,309.72 L142.38,309.91 L143.17,310.10 L143.95,310.29 L144.74,310.47 L145.53,310.65 L146.31,310.82 L147.10,310.99 L147.89,311.15 L148.67,311.31 L149.46,311.46 L150.25,311.60 L151.03,311.74 L151.82,311.88 L152.61,312.01 L153.39,312.13 L154.18,312.25 L154.96,312.36 L155.75,312.47 L156.54,312.57 L157.32,312.67 L158.11,312.78 L158.90,312.87 L159.68,312.97 L160.47,313.07 L161.26,313.16 L162.04,313.25 L162.83,313.34 L163.62,313.43 L164.40,313.51 L165.19,313.59 L165.97,313.67 L166.76,313.74 L167.55,313.82 L168.33,313.89 L169.12,313.96 L169.91,314.02 L170.69,314.08 L171.48,314.14 L172.27,314.20 L173.05,314.25 L173.84,314.30 L174.63,314.34 L175.41,314.38 L176.20,314.42 L176.98,314.45 L177.77,314.49 L178.56,314.52 L179.34,314.56 L180.13,314.59 L180.92,314.62 L181.70,314.66 L182.49,314.69 L183.28,314.72 L184.06,314.75 L184.85,314.77 L185.64,314.80 L186.42,314.82 L187.21,314.84 L187.99,314.86 L188.78,314.88 L189.57,314.90 L190.35,314.91 L191.14,314.92 L191.93,314.93 L192.71,314.93 L193.50,314.93" stroke="#8b1c1c" stroke-width="1.3" fill="none" stroke-linejoin="round" stroke-linecap="round"/>
<path d="M37.00,215.22 L37.79,217.17 L38.57,219.09 L39.36,220.97 L40.15,222.80 L40.93,224.59 L41.72,226.34 L42.51,228.03 L43.29,229.68 L44.08,231.28 L44.86,232.83 L45.65,234.32 L46.44,235.76 L47.22,237.15 L48.01,238.51 L48.80,239.82 L49.58,241.10 L50.37,242.35 L51.16,243.58 L51.94,244.78 L52.73,245.96 L53.52,247.13 L54.30,248.29 L55.09,249.45 L55.87,250.60 L56.66,251.75 L57.45,252.90 L58.23,254.03 L59.02,255.15 L59.81,256.26 L60.59,257.35 L61.38,258.43 L62.17,259.49 L62.95,260.53 L63.74,261.54 L64.53,262.52 L65.31,263.48 L66.10,264.41 L66.88,265.31 L67.67,266.17 L68.46,267.00 L69.24,267.80 L70.03,268.58 L70.82,269.34 L71.60,270.08 L72.39,270.80 L73.18,271.51 L73.96,272.19 L74.75,272.87 L75.54,273.53 L76.32,274.18 L77.11,274.81 L77.89,275.44 L78.68,276.06 L79.47,276.67 L80.25,277.28 L81.04,277.88 L81.83,278.47 L82.61,279.07 L83.40,279.66 L84.19,280.25 L84.97,280.83 L85.76,281.41 L86.55,281.99 L87.33,282.56 L88.12,283.12 L88.90,283.69 L89.69,284.24 L90.48,284.80 L91.26,285.34 L92.05,285.89 L92.84,286.43 L93.62,286.96 L94.41,287.49 L95.20,288.02 L95.98,288.54 L96.77,289.05 L97.56,289.56 L98.34,290.07 L99.13,290.57 L99.91,291.06 L100.70,291.55 L101.49,292.04 L102.27,292.52 L103.06,292.99 L103.85,293.46 L104.63,293.93 L105.42,294.39 L106.21,294.84 L106.99,295.29 L107.78,295.74 L108.57,296.18 L109.35,296.63 L110.14,297.08 L110.92,297.53 L111.71,297.98 L112.50,298.42 L113.28,298.86 L114.07,299.30 L114.86,299.74 L115.64,300.18 L116.43,300.61 L117.22,301.03 L118.00,301.45 L118.79,301.86 L119.58,302.27 L120.36,302.67 L121.15,303.07 L121.93,303.45 L122.72,303.83 L123.51,304.20 L124.29,304.56 L125.08,304.90 L125.87,305.24 L126.65,305.57 L127.44,305.89 L128.23,306.19 L129.01,306.48 L129.80,306.76 L130.59,307.03 L131.37,307.28 L132.16,307.53 L132.94,307.77 L133.73,308.01 L134.52,308.25 L135.30,308.48 L136.09,308.71 L136.88,308.93 L137.66,309.15 L138.45,309.36 L139.24,309.57 L140.02,309.78 L140.81,309.98 L141.60,310.18 L142.38,310.37 L143.17,310.56 L143.95,310.75 L144.74,310.93 L145.53,311.11 L146.31,311.28 L147.10,311.44 L147.89,311.61 L148.67,311.76 L149.46,311.92 L150.25,312.07 L151.03,312.21 L151.82,312.35 L152.61,312.48 L153.39,312.61 L154.18,312.74 L154.96,312.86 L155.75,312.97 L156.54,313.09 L157.32,313.20 L158.11,313.31 L158.90,313.42 L159.68,313.52 L160.47,313.63 L161.26,313.73 L162.04,313.82 L162.83,313.92 L163.62,314.02 L164.40,314.11 L165.19,314.20 L165.97,314.28 L166.76,314.37 L167.55,314.45 L168.33,314.53 L169.12,314.61 L169.91,314.68 L170.69,314.75 L171.48,314.82 L172.27,314.89 L173.05,314.95 L173.84,315.01 L174.63,315.07 L175.41,315.12 L176.20,315.17 L176.98,315.22 L177.77,315.27 L178.56,315.32 L179.34,315.36 L180.13,315.41 L180.92,315.45 L181.70,315.50 L182.49,315.54 L183.28,315.58 L184.06,315.62 L184.85,315.66 L185.64,315.69 L186.42,315.73 L187.21,315.76 L187.99,315.79 L188.78,315.82 L189.57,315.85 L190.35,315.87 L191.14,315.89 L191.93,315.91 L192.71,315.93 L193.50,315.94" stroke="#cc2a2a" stroke-width="1.3" fill="none" stroke-linejoin="round" stroke-linecap="round"/>
<path d="M37.00,225.80 L37.79,227.40 L38.57,228.97 L39.36,230.52 L40.15,232.04 L40.93,233.53 L41.72,235.00 L42.51,236.43 L43.29,237.83 L44.08,239.20 L44.86,240.54 L45.65,241.85 L46.44,243.13 L47.22,244.38 L48.01,245.61 L48.80,246.81 L49.58,247.99 L50.37,249.14 L51.16,250.27 L51.94,251.38 L52.73,252.46 L53.52,253.52 L54.30,254.55 L55.09,255.57 L55.87,256.58 L56.66,257.59 L57.45,258.58 L58.23,259.56 L59.02,260.53 L59.81,261.48 L60.59,262.42 L61.38,263.34 L62.17,264.25 L62.95,265.14 L63.74,266.01 L64.53,266.86 L65.31,267.68 L66.10,268.49 L66.88,269.27 L67.67,270.03 L68.46,270.76 L69.24,271.47 L70.03,272.17 L70.82,272.84 L71.60,273.50 L72.39,274.15 L73.18,274.78 L73.96,275.39 L74.75,276.00 L75.54,276.60 L76.32,277.18 L77.11,277.76 L77.89,278.32 L78.68,278.88 L79.47,279.44 L80.25,279.99 L81.04,280.53 L81.83,281.08 L82.61,281.62 L83.40,282.16 L84.19,282.69 L84.97,283.23 L85.76,283.76 L86.55,284.29 L87.33,284.82 L88.12,285.34 L88.90,285.87 L89.69,286.38 L90.48,286.90 L91.26,287.41 L92.05,287.92 L92.84,288.42 L93.62,288.92 L94.41,289.41 L95.20,289.90 L95.98,290.39 L96.77,290.86 L97.56,291.34 L98.34,291.81 L99.13,292.27 L99.91,292.73 L100.70,293.18 L101.49,293.62 L102.27,294.06 L103.06,294.50 L103.85,294.92 L104.63,295.34 L105.42,295.75 L106.21,296.15 L106.99,296.55 L107.78,296.94 L108.57,297.34 L109.35,297.73 L110.14,298.12 L110.92,298.52 L111.71,298.91 L112.50,299.30 L113.28,299.69 L114.07,300.08 L114.86,300.46 L115.64,300.84 L116.43,301.21 L117.22,301.58 L118.00,301.94 L118.79,302.30 L119.58,302.65 L120.36,302.99 L121.15,303.33 L121.93,303.65 L122.72,303.97 L123.51,304.28 L124.29,304.58 L125.08,304.87 L125.87,305.15 L126.65,305.41 L127.44,305.67 L128.23,305.91 L129.01,306.13 L129.80,306.35 L130.59,306.55 L131.37,306.74 L132.16,306.92 L132.94,307.10 L133.73,307.27 L134.52,307.45 L135.30,307.61 L136.09,307.78 L136.88,307.94 L137.66,308.10 L138.45,308.25 L139.24,308.41 L140.02,308.55 L140.81,308.70 L141.60,308.84 L142.38,308.97 L143.17,309.10 L143.95,309.23 L144.74,309.36 L145.53,309.48 L146.31,309.60 L147.10,309.71 L147.89,309.82 L148.67,309.92 L149.46,310.02 L150.25,310.12 L151.03,310.21 L151.82,310.30 L152.61,310.39 L153.39,310.47 L154.18,310.54 L154.96,310.62 L155.75,310.69 L156.54,310.75 L157.32,310.82 L158.11,310.88 L158.90,310.95 L159.68,311.01 L160.47,311.07 L161.26,311.13 L162.04,311.19 L162.83,311.25 L163.62,311.30 L164.40,311.35 L165.19,311.40 L165.97,311.45 L166.76,311.50 L167.55,311.55 L168.33,311.59 L169.12,311.63 L169.91,311.67 L170.69,311.71 L171.48,311.75 L172.27,311.78 L173.05,311.81 L173.84,311.84 L174.63,311.86 L175.41,311.89 L176.20,311.91 L176.98,311.93 L177.77,311.94 L178.56,311.96 L179.34,311.98 L180.13,312.00 L180.92,312.01 L181.70,312.03 L182.49,312.04 L183.28,312.06 L184.06,312.07 L184.85,312.09 L185.64,312.10 L186.42,312.11 L187.21,312.12 L187.99,312.13 L188.78,312.14 L189.57,312.15 L190.35,312.15 L191.14,312.16 L191.93,312.16 L192.71,312.16 L193.50,312.16" stroke="#ee7474" stroke-width="1.3" fill="none" stroke-linejoin="round" stroke-linecap="round"/>
<path d="M37.00,237.88 L37.79,239.09 L38.57,240.28 L39.36,241.46 L40.15,242.64 L40.93,243.81 L41.72,244.97 L42.51,246.12 L43.29,247.26 L44.08,248.40 L44.86,249.52 L45.65,250.63 L46.44,251.75 L47.22,252.88 L48.01,254.01 L48.80,255.14 L49.58,256.25 L50.37,257.34 L51.16,258.41 L51.94,259.45 L52.73,260.45 L53.52,261.41 L54.30,262.32 L55.09,263.19 L55.87,264.05 L56.66,264.88 L57.45,265.70 L58.23,266.49 L59.02,267.27 L59.81,268.04 L60.59,268.79 L61.38,269.53 L62.17,270.25 L62.95,270.97 L63.74,271.67 L64.53,272.37 L65.31,273.06 L66.10,273.75 L66.88,274.43 L67.67,275.11 L68.46,275.79 L69.24,276.47 L70.03,277.14 L70.82,277.81 L71.60,278.49 L72.39,279.15 L73.18,279.81 L73.96,280.47 L74.75,281.11 L75.54,281.75 L76.32,282.38 L77.11,283.00 L77.89,283.60 L78.68,284.19 L79.47,284.77 L80.25,285.34 L81.04,285.89 L81.83,286.42 L82.61,286.93 L83.40,287.42 L84.19,287.91 L84.97,288.39 L85.76,288.86 L86.55,289.32 L87.33,289.78 L88.12,290.23 L88.90,290.67 L89.69,291.11 L90.48,291.54 L91.26,291.96 L92.05,292.38 L92.84,292.79 L93.62,293.20 L94.41,293.60 L95.20,293.99 L95.98,294.38 L96.77,294.76 L97.56,295.14 L98.34,295.51 L99.13,295.88 L99.91,296.24 L100.70,296.60 L101.49,296.96 L102.27,297.31 L103.06,297.65 L103.85,297.99 L104.63,298.33 L105.42,298.66 L106.21,298.99 L106.99,299.32 L107.78,299.64 L108.57,299.97 L109.35,300.30 L110.14,300.62 L110.92,300.95 L111.71,301.27 L112.50,301.59 L113.28,301.91 L114.07,302.23 L114.86,302.55 L115.64,302.86 L116.43,303.17 L117.22,303.48 L118.00,303.78 L118.79,304.07 L119.58,304.36 L120.36,304.64 L121.15,304.92 L121.93,305.19 L122.72,305.45 L123.51,305.71 L124.29,305.95 L125.08,306.19 L125.87,306.42 L126.65,306.64 L127.44,306.85 L128.23,307.04 L129.01,307.23 L129.80,307.41 L130.59,307.57 L131.37,307.72 L132.16,307.87 L132.94,308.02 L133.73,308.16 L134.52,308.30 L135.30,308.43 L136.09,308.56 L136.88,308.69 L137.66,308.82 L138.45,308.94 L139.24,309.06 L140.02,309.18 L140.81,309.29 L141.60,309.40 L142.38,309.51 L143.17,309.61 L143.95,309.72 L144.74,309.82 L145.53,309.91 L146.31,310.01 L147.10,310.10 L147.89,310.19 L148.67,310.27 L149.46,310.36 L150.25,310.44 L151.03,310.51 L151.82,310.59 L152.61,310.66 L153.39,310.74 L154.18,310.80 L154.96,310.87 L155.75,310.94 L156.54,311.00 L157.32,311.06 L158.11,311.13 L158.90,311.19 L159.68,311.25 L160.47,311.31 L161.26,311.37 L162.04,311.43 L162.83,311.48 L163.62,311.54 L164.40,311.59 L165.19,311.64 L165.97,311.69 L166.76,311.74 L167.55,311.79 L168.33,311.83 L169.12,311.88 L169.91,311.92 L170.69,311.96 L171.48,311.99 L172.27,312.03 L173.05,312.06 L173.84,312.09 L174.63,312.11 L175.41,312.14 L176.20,312.16 L176.98,312.18 L177.77,312.19 L178.56,312.21 L179.34,312.23 L180.13,312.25 L180.92,312.26 L181.70,312.28 L182.49,312.30 L183.28,312.31 L184.06,312.32 L184.85,312.34 L185.64,312.35 L186.42,312.36 L187.21,312.37 L187.99,312.38 L188.78,312.39 L189.57,312.40 L190.35,312.40 L191.14,312.41 L191.93,312.41 L192.71,312.42 L193.50,312.42" stroke="#f7b4b4" stroke-width="1.3" fill="none" stroke-linejoin="round" stroke-linecap="round"/>
<line x1="37.00" y1="317.20" x2="37.00" y2="318.70" stroke="#444" stroke-width="0.7"/>
<line x1="65.45" y1="317.20" x2="65.45" y2="318.70" stroke="#444" stroke-width="0.7"/>
<line x1="93.91" y1="317.20" x2="93.91" y2="318.70" stroke="#444" stroke-width="0.7"/>
<line x1="122.36" y1="317.20" x2="122.36" y2="318.70" stroke="#444" stroke-width="0.7"/>
<line x1="150.82" y1="317.20" x2="150.82" y2="318.70" stroke="#444" stroke-width="0.7"/>
<line x1="179.27" y1="317.20" x2="179.27" y2="318.70" stroke="#444" stroke-width="0.7"/>
<line x1="51.23" y1="317.20" x2="51.23" y2="319.80" stroke="#444" stroke-width="0.8"/>
<line x1="79.68" y1="317.20" x2="79.68" y2="319.80" stroke="#444" stroke-width="0.8"/>
<line x1="108.14" y1="317.20" x2="108.14" y2="319.80" stroke="#444" stroke-width="0.8"/>
<line x1="136.59" y1="317.20" x2="136.59" y2="319.80" stroke="#444" stroke-width="0.8"/>
<line x1="165.05" y1="317.20" x2="165.05" y2="319.80" stroke="#444" stroke-width="0.8"/>
<line x1="193.50" y1="317.20" x2="193.50" y2="319.80" stroke="#444" stroke-width="0.8"/>
<line x1="35.50" y1="304.61" x2="37.00" y2="304.61" stroke="#444" stroke-width="0.7"/>
<line x1="35.50" y1="279.43" x2="37.00" y2="279.43" stroke="#444" stroke-width="0.7"/>
<line x1="35.50" y1="254.25" x2="37.00" y2="254.25" stroke="#444" stroke-width="0.7"/>
<line x1="35.50" y1="229.07" x2="37.00" y2="229.07" stroke="#444" stroke-width="0.7"/>
<line x1="35.50" y1="203.89" x2="37.00" y2="203.89" stroke="#444" stroke-width="0.7"/>
<line x1="34.40" y1="317.20" x2="37.00" y2="317.20" stroke="#444" stroke-width="0.8"/>
<line x1="34.40" y1="292.02" x2="37.00" y2="292.02" stroke="#444" stroke-width="0.8"/>
<line x1="34.40" y1="266.84" x2="37.00" y2="266.84" stroke="#444" stroke-width="0.8"/>
<line x1="34.40" y1="241.66" x2="37.00" y2="241.66" stroke="#444" stroke-width="0.8"/>
<line x1="34.40" y1="216.48" x2="37.00" y2="216.48" stroke="#444" stroke-width="0.8"/>
<line x1="34.40" y1="191.30" x2="37.00" y2="191.30" stroke="#444" stroke-width="0.8"/>
<line x1="37.00" y1="191.30" x2="37.00" y2="317.65" stroke="#444" stroke-width="0.9"/>
<line x1="36.55" y1="317.20" x2="193.50" y2="317.20" stroke="#444" stroke-width="0.9"/>
<text x="51.23" y="328.10" font-size="7.8" font-weight="bold" font-style="normal" text-anchor="middle" fill="#1a1a1a" transform="matrix(1.0 0 0 1.06 0.000 -19.686)"><tspan>650</tspan></text>
<text x="79.68" y="328.10" font-size="7.8" font-weight="bold" font-style="normal" text-anchor="middle" fill="#1a1a1a" transform="matrix(1.0 0 0 1.06 0.000 -19.686)"><tspan>700</tspan></text>
<text x="108.14" y="328.10" font-size="7.8" font-weight="bold" font-style="normal" text-anchor="middle" fill="#1a1a1a" transform="matrix(1.0 0 0 1.06 0.000 -19.686)"><tspan>750</tspan></text>
<text x="136.59" y="328.10" font-size="7.8" font-weight="bold" font-style="normal" text-anchor="middle" fill="#1a1a1a" transform="matrix(1.0 0 0 1.06 0.000 -19.686)"><tspan>800</tspan></text>
<text x="165.05" y="328.10" font-size="7.8" font-weight="bold" font-style="normal" text-anchor="middle" fill="#1a1a1a" transform="matrix(1.0 0 0 1.06 0.000 -19.686)"><tspan>850</tspan></text>
<text x="193.50" y="328.10" font-size="7.8" font-weight="bold" font-style="normal" text-anchor="middle" fill="#1a1a1a" transform="matrix(1.0 0 0 1.06 0.000 -19.686)"><tspan>900</tspan></text>
<text x="32.60" y="319.93" font-size="7.8" font-weight="bold" font-style="normal" text-anchor="end" fill="#1a1a1a" transform="matrix(1.0 0 0 1.06 0.000 -19.196)"><tspan>0.0</tspan></text>
<text x="32.60" y="294.75" font-size="7.8" font-weight="bold" font-style="normal" text-anchor="end" fill="#1a1a1a" transform="matrix(1.0 0 0 1.06 0.000 -17.685)"><tspan>0.1</tspan></text>
<text x="32.60" y="269.57" font-size="7.8" font-weight="bold" font-style="normal" text-anchor="end" fill="#1a1a1a" transform="matrix(1.0 0 0 1.06 0.000 -16.174)"><tspan>0.2</tspan></text>
<text x="32.60" y="244.39" font-size="7.8" font-weight="bold" font-style="normal" text-anchor="end" fill="#1a1a1a" transform="matrix(1.0 0 0 1.06 0.000 -14.663)"><tspan>0.3</tspan></text>
<text x="32.60" y="219.21" font-size="7.8" font-weight="bold" font-style="normal" text-anchor="end" fill="#1a1a1a" transform="matrix(1.0 0 0 1.06 0.000 -13.153)"><tspan>0.4</tspan></text>
<text x="32.60" y="194.03" font-size="7.8" font-weight="bold" font-style="normal" text-anchor="end" fill="#1a1a1a" transform="matrix(1.0 0 0 1.06 0.000 -11.642)"><tspan>0.5</tspan></text>
<text x="16.90" y="254.20" font-size="7.8" font-weight="bold" font-style="normal" text-anchor="middle" fill="#1a1a1a" transform="rotate(-90 16.9 254.2)"><tspan>Absorbance (A.U.)</tspan></text>
<text x="115.20" y="339.80" font-size="7.8" font-weight="bold" font-style="normal" text-anchor="middle" fill="#1a1a1a" transform="matrix(1.0 0 0 1.06 0.000 -20.388)"><tspan>Wavelength (nm)</tspan></text>
<line x1="50.40" y1="194.20" x2="63.80" y2="194.20" stroke="#8b1c1c" stroke-width="1.6"/>
<text x="67.10" y="196.58" font-size="7.8" font-weight="bold" font-style="normal" text-anchor="start" fill="#1a1a1a" transform="matrix(1.0 0 0 1.06 0.000 -11.795)"><tspan>Mn(acac)</tspan><tspan font-size="6.63" dy="2.34">2</tspan><tspan dy="-2.34"> + L1 + TMSN</tspan><tspan font-size="6.63" dy="2.34">3</tspan></text>
<line x1="50.40" y1="206.20" x2="63.80" y2="206.20" stroke="#cc2a2a" stroke-width="1.6"/>
<text x="67.10" y="208.58" font-size="7.8" font-weight="bold" font-style="normal" text-anchor="start" fill="#1a1a1a" transform="matrix(1.0 0 0 1.06 0.000 -12.515)"><tspan>Irradiation at 850 nm for 3 min under N</tspan><tspan font-size="6.63" dy="2.34">2</tspan></text>
<line x1="50.40" y1="218.20" x2="63.80" y2="218.20" stroke="#ee7474" stroke-width="1.6"/>
<text x="67.10" y="220.58" font-size="7.8" font-weight="bold" font-style="normal" text-anchor="start" fill="#1a1a1a" transform="matrix(1.0 0 0 1.06 0.000 -13.235)"><tspan>Irradiation at 850 nm for 6 min under N</tspan><tspan font-size="6.63" dy="2.34">2</tspan></text>
<line x1="50.40" y1="230.20" x2="63.80" y2="230.20" stroke="#f7b4b4" stroke-width="1.6"/>
<text x="67.10" y="232.58" font-size="7.8" font-weight="bold" font-style="normal" text-anchor="start" fill="#1a1a1a" transform="matrix(1.0 0 0 1.06 0.000 -13.955)"><tspan>Irradiation at 850 nm for 9 min under N</tspan><tspan font-size="6.63" dy="2.34">2</tspan></text>
<text x="227.20" y="186.70" font-size="9.6" font-weight="bold" font-style="normal" text-anchor="start" fill="#111" transform="matrix(1.0 0 0 1.09 0.000 -16.803)"><tspan>E</tspan></text>
<clipPath id="cpE"><rect x="260" y="192.2" width="160" height="127"/></clipPath>
<g clip-path="url(#cpE)">
<path d="M261.12,183.36 L261.90,204.69 L262.69,225.11 L263.48,238.71 L264.27,248.97 L265.06,257.20 L265.85,262.15 L266.64,265.59 L267.43,267.69 L268.22,268.54 L269.01,269.15 L269.80,269.50 L270.59,269.55 L271.38,269.55 L272.17,269.55 L272.96,269.52 L273.75,269.37 L274.54,269.14 L275.33,268.89 L276.12,268.69 L276.91,268.57 L277.70,268.48 L278.49,268.38 L279.28,268.30 L280.07,268.23 L280.86,268.18 L281.65,268.16 L282.44,268.17 L283.23,268.33 L284.02,268.63 L284.81,269.02 L285.60,269.47 L286.39,269.94 L287.18,270.39 L287.97,270.90 L288.76,271.48 L289.55,272.12 L290.34,272.80 L291.13,273.51 L291.92,274.22 L292.71,274.99 L293.50,275.82 L294.29,276.69 L295.08,277.59 L295.87,278.49 L296.66,279.39 L297.45,280.26 L298.24,281.10 L299.03,281.90 L299.82,282.69 L300.61,283.48 L301.40,284.27 L302.19,285.04 L302.98,285.79 L303.77,286.51 L304.56,287.20 L305.35,287.86 L306.14,288.46 L306.93,289.02 L307.72,289.56 L308.51,290.08 L309.30,290.57 L310.09,291.05 L310.88,291.50 L311.67,291.94 L312.46,292.36 L313.25,292.76 L314.04,293.15 L314.83,293.52 L315.62,293.88 L316.41,294.23 L317.20,294.57 L317.99,294.90 L318.78,295.22 L319.57,295.53 L320.36,295.84 L321.15,296.14 L321.94,296.44 L322.73,296.73 L323.52,297.02 L324.30,297.30 L325.09,297.57 L325.88,297.85 L326.67,298.11 L327.46,298.37 L328.25,298.63 L329.04,298.89 L329.83,299.14 L330.62,299.39 L331.41,299.64 L332.20,299.89 L332.99,300.14 L333.78,300.39 L334.57,300.64 L335.36,300.88 L336.15,301.11 L336.94,301.33 L337.73,301.54 L338.52,301.73 L339.31,301.91 L340.10,302.07 L340.89,302.23 L341.68,302.38 L342.47,302.52 L343.26,302.67 L344.05,302.81 L344.84,302.94 L345.63,303.07 L346.42,303.20 L347.21,303.32 L348.00,303.45 L348.79,303.56 L349.58,303.68 L350.37,303.79 L351.16,303.90 L351.95,304.00 L352.74,304.10 L353.53,304.20 L354.32,304.30 L355.11,304.39 L355.90,304.48 L356.69,304.57 L357.48,304.66 L358.27,304.74 L359.06,304.83 L359.85,304.91 L360.64,304.99 L361.43,305.06 L362.22,305.14 L363.01,305.22 L363.80,305.29 L364.59,305.37 L365.38,305.44 L366.17,305.51 L366.96,305.58 L367.75,305.65 L368.54,305.72 L369.33,305.79 L370.12,305.85 L370.91,305.91 L371.70,305.98 L372.49,306.04 L373.28,306.10 L374.07,306.15 L374.86,306.21 L375.65,306.26 L376.44,306.32 L377.23,306.37 L378.02,306.42 L378.81,306.47 L379.60,306.51 L380.39,306.56 L381.18,306.60 L381.97,306.64 L382.76,306.68 L383.55,306.72 L384.34,306.76 L385.13,306.80 L385.92,306.83 L386.71,306.87 L387.49,306.90 L388.28,306.94 L389.07,306.97 L389.86,307.00 L390.65,307.03 L391.44,307.07 L392.23,307.09 L393.02,307.12 L393.81,307.15 L394.60,307.18 L395.39,307.21 L396.18,307.23 L396.97,307.26 L397.76,307.28 L398.55,307.30 L399.34,307.32 L400.13,307.34 L400.92,307.36 L401.71,307.38 L402.50,307.40 L403.29,307.41 L404.08,307.43 L404.87,307.44 L405.66,307.46 L406.45,307.48 L407.24,307.49 L408.03,307.50 L408.82,307.52 L409.61,307.53 L410.40,307.54 L411.19,307.56 L411.98,307.57 L412.77,307.58 L413.56,307.59 L414.35,307.60 L415.14,307.61 L415.93,307.61 L416.72,307.62 L417.51,307.63 L418.30,307.63" stroke="#cbc8ec" stroke-width="1.2" fill="none" stroke-linejoin="round" stroke-linecap="round"/>
<path d="M333.88,187.09 L334.30,189.44 L334.73,191.60 L335.15,193.36 L335.58,194.88 L336.00,196.26 L336.43,197.52 L336.85,198.71 L337.27,199.85 L337.70,200.97 L338.12,202.11 L338.55,203.28 L338.97,204.53 L339.39,205.82 L339.82,207.10 L340.24,208.39 L340.67,209.69 L341.09,210.99 L341.52,212.31 L341.94,213.64 L342.36,214.98 L342.79,216.35 L343.21,217.74 L343.64,219.17 L344.06,220.62 L344.49,222.08 L344.91,223.54 L345.33,224.99 L345.76,226.41 L346.18,227.80 L346.61,229.17 L347.03,230.55 L347.46,231.93 L347.88,233.30 L348.30,234.64 L348.73,235.95 L349.15,237.21 L349.58,238.42 L350.00,239.57 L350.42,240.66 L350.85,241.72 L351.27,242.75 L351.70,243.75 L352.12,244.72 L352.55,245.67 L352.97,246.61 L353.39,247.53 L353.82,248.44 L354.24,249.34 L354.67,250.23 L355.09,251.13 L355.52,252.02 L355.94,252.91 L356.36,253.79 L356.79,254.65 L357.21,255.51 L357.64,256.36 L358.06,257.21 L358.48,258.04 L358.91,258.87 L359.33,259.68 L359.76,260.50 L360.18,261.30 L360.61,262.10 L361.03,262.89 L361.45,263.68 L361.88,264.46 L362.30,265.24 L362.73,266.01 L363.15,266.78 L363.58,267.55 L364.00,268.30 L364.42,269.05 L364.85,269.80 L365.27,270.53 L365.70,271.26 L366.12,271.99 L366.55,272.70 L366.97,273.41 L367.39,274.11 L367.82,274.79 L368.24,275.47 L368.67,276.15 L369.09,276.81 L369.51,277.47 L369.94,278.12 L370.36,278.77 L370.79,279.41 L371.21,280.04 L371.64,280.67 L372.06,281.30 L372.48,281.91 L372.91,282.53 L373.33,283.14 L373.76,283.74 L374.18,284.34 L374.61,284.94 L375.03,285.54 L375.45,286.13 L375.88,286.73 L376.30,287.32 L376.73,287.93 L377.15,288.53 L377.57,289.14 L378.00,289.74 L378.42,290.34 L378.85,290.94 L379.27,291.53 L379.70,292.11 L380.12,292.69 L380.54,293.25 L380.97,293.80 L381.39,294.34 L381.82,294.86 L382.24,295.36 L382.67,295.84 L383.09,296.31 L383.51,296.75 L383.94,297.17 L384.36,297.58 L384.79,297.99 L385.21,298.38 L385.63,298.77 L386.06,299.15 L386.48,299.52 L386.91,299.88 L387.33,300.22 L387.76,300.56 L388.18,300.89 L388.60,301.20 L389.03,301.50 L389.45,301.79 L389.88,302.06 L390.30,302.33 L390.73,302.58 L391.15,302.82 L391.57,303.06 L392.00,303.29 L392.42,303.52 L392.85,303.75 L393.27,303.97 L393.70,304.18 L394.12,304.38 L394.54,304.58 L394.97,304.76 L395.39,304.94 L395.82,305.11 L396.24,305.27 L396.66,305.42 L397.09,305.55 L397.51,305.68 L397.94,305.79 L398.36,305.90 L398.79,306.00 L399.21,306.11 L399.63,306.21 L400.06,306.30 L400.48,306.40 L400.91,306.49 L401.33,306.57 L401.76,306.66 L402.18,306.73 L402.60,306.81 L403.03,306.87 L403.45,306.94 L403.88,306.99 L404.30,307.04 L404.72,307.09 L405.15,307.13 L405.57,307.16 L406.00,307.18 L406.42,307.21 L406.85,307.23 L407.27,307.25 L407.69,307.28 L408.12,307.30 L408.54,307.32 L408.97,307.33 L409.39,307.35 L409.82,307.36 L410.24,307.37 L410.66,307.38 L411.09,307.39 L411.51,307.40 L411.94,307.40 L412.36,307.39 L412.79,307.38 L413.21,307.36 L413.63,307.34 L414.06,307.31 L414.48,307.27 L414.91,307.22 L415.33,307.17 L415.75,307.12 L416.18,307.05 L416.60,306.99 L417.03,306.92 L417.45,306.85 L417.88,306.77 L418.30,306.70" stroke="#a5ddd5" stroke-width="1.15" fill="none" stroke-linejoin="round" stroke-linecap="round"/>
<path d="M274.35,188.03 L275.07,193.14 L275.79,196.95 L276.52,200.22 L277.24,203.19 L277.96,206.06 L278.69,208.92 L279.41,211.61 L280.13,214.19 L280.86,216.73 L281.58,219.30 L282.30,221.99 L283.03,224.85 L283.75,227.76 L284.47,230.61 L285.20,233.23 L285.92,235.56 L286.64,237.72 L287.37,239.75 L288.09,241.71 L288.81,243.67 L289.54,245.66 L290.26,247.70 L290.98,249.74 L291.71,251.73 L292.43,253.61 L293.15,255.37 L293.88,257.09 L294.60,258.77 L295.32,260.31 L296.05,261.64 L296.77,262.69 L297.49,263.62 L298.22,264.46 L298.94,265.22 L299.66,265.89 L300.39,266.47 L301.11,266.98 L301.83,267.42 L302.56,267.81 L303.28,268.17 L304.00,268.50 L304.73,268.79 L305.45,269.07 L306.17,269.33 L306.90,269.56 L307.62,269.77 L308.34,269.97 L309.07,270.16 L309.79,270.34 L310.51,270.53 L311.24,270.73 L311.96,270.93 L312.68,271.12 L313.41,271.31 L314.13,271.52 L314.85,271.75 L315.58,272.03 L316.30,272.38 L317.03,272.83 L317.75,273.38 L318.47,273.99 L319.20,274.64 L319.92,275.30 L320.64,275.99 L321.37,276.75 L322.09,277.56 L322.81,278.40 L323.54,279.27 L324.26,280.14 L324.98,281.01 L325.71,281.85 L326.43,282.72 L327.15,283.59 L327.88,284.47 L328.60,285.34 L329.32,286.19 L330.05,287.01 L330.77,287.81 L331.49,288.58 L332.22,289.34 L332.94,290.08 L333.66,290.81 L334.39,291.53 L335.11,292.25 L335.83,292.95 L336.56,293.65 L337.28,294.34 L338.00,295.02 L338.73,295.68 L339.45,296.33 L340.17,296.96 L340.90,297.58 L341.62,298.19 L342.34,298.79 L343.07,299.37 L343.79,299.94 L344.51,300.49 L345.24,301.04 L345.96,301.59 L346.68,302.13 L347.41,302.67 L348.13,303.20 L348.85,303.71 L349.58,304.21 L350.30,304.68 L351.02,305.13 L351.75,305.54 L352.47,305.93 L353.19,306.29 L353.92,306.64 L354.64,306.97 L355.36,307.29 L356.09,307.59 L356.81,307.88 L357.54,308.17 L358.26,308.44 L358.98,308.72 L359.71,308.99 L360.43,309.26 L361.15,309.53 L361.88,309.79 L362.60,310.05 L363.32,310.29 L364.05,310.53 L364.77,310.74 L365.49,310.94 L366.22,311.11 L366.94,311.27 L367.66,311.43 L368.39,311.59 L369.11,311.75 L369.83,311.89 L370.56,312.02 L371.28,312.13 L372.00,312.22 L372.73,312.28 L373.45,312.30 L374.17,312.30 L374.90,312.29 L375.62,312.28 L376.34,312.26 L377.07,312.23 L377.79,312.20 L378.51,312.17 L379.24,312.13 L379.96,312.10 L380.68,312.06 L381.41,312.01 L382.13,311.94 L382.85,311.86 L383.58,311.77 L384.30,311.67 L385.02,311.57 L385.75,311.47 L386.47,311.36 L387.19,311.25 L387.92,311.15 L388.64,311.06 L389.36,310.96 L390.09,310.87 L390.81,310.78 L391.53,310.68 L392.26,310.58 L392.98,310.48 L393.70,310.38 L394.43,310.27 L395.15,310.15 L395.87,310.03 L396.60,309.90 L397.32,309.76 L398.05,309.60 L398.77,309.44 L399.49,309.26 L400.22,309.09 L400.94,308.92 L401.66,308.75 L402.39,308.60 L403.11,308.46 L403.83,308.32 L404.56,308.20 L405.28,308.07 L406.00,307.95 L406.73,307.83 L407.45,307.71 L408.17,307.58 L408.90,307.46 L409.62,307.32 L410.34,307.18 L411.07,307.03 L411.79,306.88 L412.51,306.72 L413.24,306.56 L413.96,306.39 L414.68,306.22 L415.41,306.04 L416.13,305.86 L416.85,305.67 L417.58,305.49 L418.30,305.30" stroke="#4c8dc8" stroke-width="1.4" fill="none" stroke-linejoin="round" stroke-linecap="round"/>
</g>
<line x1="276.55" y1="318.84" x2="276.55" y2="320.34" stroke="#444" stroke-width="0.7"/>
<line x1="308.05" y1="318.84" x2="308.05" y2="320.34" stroke="#444" stroke-width="0.7"/>
<line x1="339.55" y1="318.84" x2="339.55" y2="320.34" stroke="#444" stroke-width="0.7"/>
<line x1="371.05" y1="318.84" x2="371.05" y2="320.34" stroke="#444" stroke-width="0.7"/>
<line x1="402.55" y1="318.84" x2="402.55" y2="320.34" stroke="#444" stroke-width="0.7"/>
<line x1="260.80" y1="318.84" x2="260.80" y2="321.44" stroke="#444" stroke-width="0.8"/>
<line x1="292.30" y1="318.84" x2="292.30" y2="321.44" stroke="#444" stroke-width="0.8"/>
<line x1="323.80" y1="318.84" x2="323.80" y2="321.44" stroke="#444" stroke-width="0.8"/>
<line x1="355.30" y1="318.84" x2="355.30" y2="321.44" stroke="#444" stroke-width="0.8"/>
<line x1="386.80" y1="318.84" x2="386.80" y2="321.44" stroke="#444" stroke-width="0.8"/>
<line x1="418.30" y1="318.84" x2="418.30" y2="321.44" stroke="#444" stroke-width="0.8"/>
<line x1="259.30" y1="297.82" x2="260.80" y2="297.82" stroke="#444" stroke-width="0.7"/>
<line x1="259.30" y1="274.46" x2="260.80" y2="274.46" stroke="#444" stroke-width="0.7"/>
<line x1="259.30" y1="251.10" x2="260.80" y2="251.10" stroke="#444" stroke-width="0.7"/>
<line x1="259.30" y1="227.74" x2="260.80" y2="227.74" stroke="#444" stroke-width="0.7"/>
<line x1="259.30" y1="204.38" x2="260.80" y2="204.38" stroke="#444" stroke-width="0.7"/>
<line x1="258.20" y1="309.50" x2="260.80" y2="309.50" stroke="#444" stroke-width="0.8"/>
<line x1="258.20" y1="286.14" x2="260.80" y2="286.14" stroke="#444" stroke-width="0.8"/>
<line x1="258.20" y1="262.78" x2="260.80" y2="262.78" stroke="#444" stroke-width="0.8"/>
<line x1="258.20" y1="239.42" x2="260.80" y2="239.42" stroke="#444" stroke-width="0.8"/>
<line x1="258.20" y1="216.06" x2="260.80" y2="216.06" stroke="#444" stroke-width="0.8"/>
<line x1="258.20" y1="192.70" x2="260.80" y2="192.70" stroke="#444" stroke-width="0.8"/>
<line x1="260.80" y1="192.70" x2="260.80" y2="319.29" stroke="#444" stroke-width="0.9"/>
<line x1="260.35" y1="318.84" x2="418.30" y2="318.84" stroke="#444" stroke-width="0.9"/>
<text x="260.80" y="329.24" font-size="7.8" font-weight="bold" font-style="normal" text-anchor="middle" fill="#1a1a1a" transform="matrix(1.0 0 0 1.06 0.000 -19.755)"><tspan>400</tspan></text>
<text x="292.30" y="329.24" font-size="7.8" font-weight="bold" font-style="normal" text-anchor="middle" fill="#1a1a1a" transform="matrix(1.0 0 0 1.06 0.000 -19.755)"><tspan>500</tspan></text>
<text x="323.80" y="329.24" font-size="7.8" font-weight="bold" font-style="normal" text-anchor="middle" fill="#1a1a1a" transform="matrix(1.0 0 0 1.06 0.000 -19.755)"><tspan>600</tspan></text>
<text x="355.30" y="329.24" font-size="7.8" font-weight="bold" font-style="normal" text-anchor="middle" fill="#1a1a1a" transform="matrix(1.0 0 0 1.06 0.000 -19.755)"><tspan>700</tspan></text>
<text x="386.80" y="329.24" font-size="7.8" font-weight="bold" font-style="normal" text-anchor="middle" fill="#1a1a1a" transform="matrix(1.0 0 0 1.06 0.000 -19.755)"><tspan>800</tspan></text>
<text x="418.30" y="329.24" font-size="7.8" font-weight="bold" font-style="normal" text-anchor="middle" fill="#1a1a1a" transform="matrix(1.0 0 0 1.06 0.000 -19.755)"><tspan>900</tspan></text>
<text x="256.40" y="312.23" font-size="7.8" font-weight="bold" font-style="normal" text-anchor="end" fill="#1a1a1a" transform="matrix(1.0 0 0 1.06 0.000 -18.734)"><tspan>0.0</tspan></text>
<text x="256.40" y="288.87" font-size="7.8" font-weight="bold" font-style="normal" text-anchor="end" fill="#1a1a1a" transform="matrix(1.0 0 0 1.06 0.000 -17.332)"><tspan>0.5</tspan></text>
<text x="256.40" y="265.51" font-size="7.8" font-weight="bold" font-style="normal" text-anchor="end" fill="#1a1a1a" transform="matrix(1.0 0 0 1.06 0.000 -15.931)"><tspan>1.0</tspan></text>
<text x="256.40" y="242.15" font-size="7.8" font-weight="bold" font-style="normal" text-anchor="end" fill="#1a1a1a" transform="matrix(1.0 0 0 1.06 0.000 -14.529)"><tspan>1.5</tspan></text>
<text x="256.40" y="218.79" font-size="7.8" font-weight="bold" font-style="normal" text-anchor="end" fill="#1a1a1a" transform="matrix(1.0 0 0 1.06 0.000 -13.127)"><tspan>2.0</tspan></text>
<text x="256.40" y="195.43" font-size="7.8" font-weight="bold" font-style="normal" text-anchor="end" fill="#1a1a1a" transform="matrix(1.0 0 0 1.06 0.000 -11.726)"><tspan>2.5</tspan></text>
<text x="242.00" y="255.80" font-size="7.8" font-weight="bold" font-style="normal" text-anchor="middle" fill="#1a1a1a" transform="rotate(-90 242.0 255.8)"><tspan>Absorbance (A.U.)</tspan></text>
<text x="339.50" y="340.30" font-size="7.8" font-weight="bold" font-style="normal" text-anchor="middle" fill="#1a1a1a" transform="matrix(1.0 0 0 1.06 0.000 -20.418)"><tspan>Wavelength (nm)</tspan></text>
<line x1="308.50" y1="194.90" x2="321.30" y2="194.90" stroke="#4c8dc8" stroke-width="1.6"/>
<text x="324.40" y="197.28" font-size="7.8" font-weight="bold" font-style="normal" text-anchor="start" fill="#1a1a1a" transform="matrix(1.0 0 0 1.06 0.000 -11.837)"><tspan>Mn(acac)</tspan><tspan font-size="6.63" dy="2.34">3</tspan></text>
<line x1="308.50" y1="206.60" x2="321.30" y2="206.60" stroke="#cbc8ec" stroke-width="1.15"/>
<text x="324.40" y="208.98" font-size="7.8" font-weight="bold" font-style="normal" text-anchor="start" fill="#1a1a1a" transform="matrix(1.0 0 0 1.06 0.000 -12.539)"><tspan>Mn(acac)</tspan><tspan font-size="6.63" dy="2.34">2</tspan><tspan dy="-2.34"> + L1 + TMSN</tspan><tspan font-size="6.63" dy="2.34">3</tspan></text>
<line x1="308.50" y1="218.30" x2="321.30" y2="218.30" stroke="#a5ddd5" stroke-width="1.15"/>
<text x="324.40" y="220.68" font-size="7.8" font-weight="bold" font-style="normal" text-anchor="start" fill="#1a1a1a" transform="matrix(1.0 0 0 1.06 0.000 -13.241)"><tspan>Mn(acac)</tspan><tspan font-size="6.63" dy="2.34">3</tspan><tspan dy="-2.34"> + L1 + TMSN</tspan><tspan font-size="6.63" dy="2.34">3</tspan></text>
<text x="449.40" y="185.80" font-size="9.6" font-weight="bold" font-style="normal" text-anchor="start" fill="#111" transform="matrix(1.0 0 0 1.09 0.000 -16.722)"><tspan>F</tspan></text>
<path d="M482.80,222.98 L483.59,224.48 L484.38,225.97 L485.17,227.44 L485.96,228.90 L486.75,230.35 L487.54,231.77 L488.33,233.18 L489.12,234.57 L489.91,235.93 L490.70,237.28 L491.49,238.60 L492.28,239.91 L493.07,241.18 L493.86,242.43 L494.65,243.66 L495.44,244.86 L496.23,246.03 L497.02,247.17 L497.81,248.28 L498.60,249.37 L499.39,250.42 L500.18,251.43 L500.97,252.42 L501.76,253.37 L502.55,254.28 L503.34,255.16 L504.13,256.00 L504.92,256.82 L505.71,257.62 L506.50,258.40 L507.29,259.16 L508.08,259.92 L508.87,260.65 L509.66,261.37 L510.45,262.08 L511.24,262.77 L512.03,263.45 L512.82,264.11 L513.61,264.76 L514.40,265.40 L515.19,266.02 L515.98,266.63 L516.77,267.23 L517.56,267.82 L518.35,268.40 L519.14,268.96 L519.93,269.52 L520.72,270.06 L521.51,270.59 L522.30,271.11 L523.09,271.63 L523.88,272.13 L524.67,272.62 L525.46,273.11 L526.25,273.58 L527.04,274.05 L527.83,274.51 L528.62,274.96 L529.41,275.41 L530.20,275.86 L530.99,276.30 L531.78,276.74 L532.57,277.18 L533.36,277.61 L534.15,278.03 L534.94,278.46 L535.73,278.87 L536.52,279.28 L537.31,279.68 L538.10,280.08 L538.89,280.47 L539.68,280.85 L540.47,281.22 L541.26,281.59 L542.05,281.95 L542.84,282.30 L543.63,282.63 L544.42,282.96 L545.21,283.28 L546.00,283.59 L546.79,283.89 L547.58,284.17 L548.37,284.45 L549.16,284.71 L549.95,284.96 L550.74,285.19 L551.53,285.42 L552.32,285.63 L553.11,285.83 L553.90,286.02 L554.69,286.22 L555.48,286.40 L556.27,286.59 L557.06,286.77 L557.85,286.95 L558.64,287.12 L559.43,287.29 L560.22,287.46 L561.01,287.62 L561.79,287.77 L562.58,287.93 L563.37,288.07 L564.16,288.22 L564.95,288.36 L565.74,288.50 L566.53,288.63 L567.32,288.76 L568.11,288.88 L568.90,289.00 L569.69,289.12 L570.48,289.23 L571.27,289.34 L572.06,289.44 L572.85,289.54 L573.64,289.64 L574.43,289.73 L575.22,289.82 L576.01,289.90 L576.80,289.98 L577.59,290.06 L578.38,290.14 L579.17,290.21 L579.96,290.28 L580.75,290.36 L581.54,290.43 L582.33,290.50 L583.12,290.57 L583.91,290.63 L584.70,290.70 L585.49,290.76 L586.28,290.82 L587.07,290.88 L587.86,290.94 L588.65,291.00 L589.44,291.05 L590.23,291.11 L591.02,291.16 L591.81,291.21 L592.60,291.26 L593.39,291.30 L594.18,291.35 L594.97,291.39 L595.76,291.43 L596.55,291.46 L597.34,291.50 L598.13,291.53 L598.92,291.57 L599.71,291.60 L600.50,291.62 L601.29,291.65 L602.08,291.67 L602.87,291.70 L603.66,291.72 L604.45,291.75 L605.24,291.77 L606.03,291.79 L606.82,291.82 L607.61,291.84 L608.40,291.86 L609.19,291.88 L609.98,291.90 L610.77,291.92 L611.56,291.93 L612.35,291.95 L613.14,291.96 L613.93,291.98 L614.72,291.99 L615.51,292.00 L616.30,292.01 L617.09,292.02 L617.88,292.03 L618.67,292.04 L619.46,292.04 L620.25,292.05 L621.04,292.05 L621.83,292.06 L622.62,292.06 L623.41,292.07 L624.20,292.07 L624.99,292.08 L625.78,292.08 L626.57,292.09 L627.36,292.09 L628.15,292.10 L628.94,292.10 L629.73,292.10 L630.52,292.11 L631.31,292.11 L632.10,292.11 L632.89,292.11 L633.68,292.12 L634.47,292.12 L635.26,292.12 L636.05,292.12 L636.84,292.12 L637.63,292.12 L638.42,292.12 L639.21,292.13 L640.00,292.13" stroke="#7b1e2e" stroke-width="1.3" fill="none" stroke-linejoin="round" stroke-linecap="round"/>
<path d="M482.80,229.74 L483.59,231.08 L484.38,232.42 L485.17,233.74 L485.96,235.04 L486.75,236.34 L487.54,237.61 L488.33,238.87 L489.12,240.12 L489.91,241.35 L490.70,242.56 L491.49,243.75 L492.28,244.92 L493.07,246.08 L493.86,247.21 L494.65,248.32 L495.44,249.41 L496.23,250.47 L497.02,251.51 L497.81,252.53 L498.60,253.52 L499.39,254.49 L500.18,255.42 L500.97,256.34 L501.76,257.22 L502.55,258.07 L503.34,258.90 L504.13,259.70 L504.92,260.48 L505.71,261.25 L506.50,262.00 L507.29,262.75 L508.08,263.48 L508.87,264.20 L509.66,264.91 L510.45,265.60 L511.24,266.29 L512.03,266.96 L512.82,267.62 L513.61,268.27 L514.40,268.90 L515.19,269.53 L515.98,270.14 L516.77,270.74 L517.56,271.33 L518.35,271.90 L519.14,272.47 L519.93,273.02 L520.72,273.56 L521.51,274.09 L522.30,274.61 L523.09,275.11 L523.88,275.61 L524.67,276.09 L525.46,276.56 L526.25,277.02 L527.04,277.47 L527.83,277.90 L528.62,278.33 L529.41,278.75 L530.20,279.17 L530.99,279.58 L531.78,279.99 L532.57,280.38 L533.36,280.78 L534.15,281.16 L534.94,281.54 L535.73,281.92 L536.52,282.28 L537.31,282.65 L538.10,283.00 L538.89,283.35 L539.68,283.69 L540.47,284.02 L541.26,284.35 L542.05,284.67 L542.84,284.99 L543.63,285.29 L544.42,285.59 L545.21,285.88 L546.00,286.17 L546.79,286.44 L547.58,286.71 L548.37,286.97 L549.16,287.23 L549.95,287.47 L550.74,287.71 L551.53,287.94 L552.32,288.17 L553.11,288.39 L553.90,288.60 L554.69,288.82 L555.48,289.04 L556.27,289.25 L557.06,289.46 L557.85,289.67 L558.64,289.87 L559.43,290.07 L560.22,290.27 L561.01,290.47 L561.79,290.66 L562.58,290.84 L563.37,291.02 L564.16,291.20 L564.95,291.37 L565.74,291.54 L566.53,291.70 L567.32,291.86 L568.11,292.01 L568.90,292.15 L569.69,292.29 L570.48,292.42 L571.27,292.55 L572.06,292.66 L572.85,292.77 L573.64,292.88 L574.43,292.97 L575.22,293.06 L576.01,293.13 L576.80,293.21 L577.59,293.28 L578.38,293.35 L579.17,293.42 L579.96,293.48 L580.75,293.55 L581.54,293.61 L582.33,293.67 L583.12,293.73 L583.91,293.79 L584.70,293.85 L585.49,293.90 L586.28,293.96 L587.07,294.01 L587.86,294.06 L588.65,294.11 L589.44,294.15 L590.23,294.20 L591.02,294.24 L591.81,294.28 L592.60,294.32 L593.39,294.35 L594.18,294.39 L594.97,294.42 L595.76,294.45 L596.55,294.48 L597.34,294.50 L598.13,294.53 L598.92,294.55 L599.71,294.57 L600.50,294.58 L601.29,294.60 L602.08,294.62 L602.87,294.63 L603.66,294.65 L604.45,294.66 L605.24,294.68 L606.03,294.69 L606.82,294.71 L607.61,294.72 L608.40,294.74 L609.19,294.75 L609.98,294.76 L610.77,294.77 L611.56,294.78 L612.35,294.79 L613.14,294.80 L613.93,294.81 L614.72,294.81 L615.51,294.82 L616.30,294.82 L617.09,294.83 L617.88,294.83 L618.67,294.83 L619.46,294.83 L620.25,294.83 L621.04,294.83 L621.83,294.83 L622.62,294.83 L623.41,294.83 L624.20,294.83 L624.99,294.83 L625.78,294.83 L626.57,294.83 L627.36,294.83 L628.15,294.83 L628.94,294.83 L629.73,294.83 L630.52,294.83 L631.31,294.83 L632.10,294.83 L632.89,294.83 L633.68,294.83 L634.47,294.83 L635.26,294.83 L636.05,294.83 L636.84,294.83 L637.63,294.83 L638.42,294.83 L639.21,294.83 L640.00,294.83" stroke="#b83240" stroke-width="1.3" fill="none" stroke-linejoin="round" stroke-linecap="round"/>
<path d="M482.80,235.66 L483.59,236.82 L484.38,237.97 L485.17,239.10 L485.96,240.23 L486.75,241.35 L487.54,242.46 L488.33,243.55 L489.12,244.63 L489.91,245.70 L490.70,246.76 L491.49,247.80 L492.28,248.82 L493.07,249.84 L493.86,250.84 L494.65,251.82 L495.44,252.78 L496.23,253.73 L497.02,254.66 L497.81,255.58 L498.60,256.48 L499.39,257.35 L500.18,258.21 L500.97,259.05 L501.76,259.88 L502.55,260.68 L503.34,261.46 L504.13,262.22 L504.92,262.97 L505.71,263.71 L506.50,264.44 L507.29,265.17 L508.08,265.89 L508.87,266.59 L509.66,267.29 L510.45,267.98 L511.24,268.66 L512.03,269.34 L512.82,270.00 L513.61,270.65 L514.40,271.29 L515.19,271.92 L515.98,272.54 L516.77,273.15 L517.56,273.75 L518.35,274.34 L519.14,274.91 L519.93,275.48 L520.72,276.03 L521.51,276.57 L522.30,277.10 L523.09,277.61 L523.88,278.12 L524.67,278.61 L525.46,279.09 L526.25,279.55 L527.04,280.00 L527.83,280.44 L528.62,280.87 L529.41,281.29 L530.20,281.71 L530.99,282.12 L531.78,282.52 L532.57,282.92 L533.36,283.31 L534.15,283.70 L534.94,284.08 L535.73,284.45 L536.52,284.82 L537.31,285.18 L538.10,285.54 L538.89,285.88 L539.68,286.23 L540.47,286.56 L541.26,286.89 L542.05,287.21 L542.84,287.52 L543.63,287.83 L544.42,288.13 L545.21,288.42 L546.00,288.70 L546.79,288.98 L547.58,289.25 L548.37,289.51 L549.16,289.76 L549.95,290.01 L550.74,290.25 L551.53,290.48 L552.32,290.70 L553.11,290.92 L553.90,291.14 L554.69,291.36 L555.48,291.57 L556.27,291.78 L557.06,291.99 L557.85,292.20 L558.64,292.40 L559.43,292.60 L560.22,292.80 L561.01,292.99 L561.79,293.18 L562.58,293.37 L563.37,293.55 L564.16,293.72 L564.95,293.90 L565.74,294.06 L566.53,294.22 L567.32,294.38 L568.11,294.53 L568.90,294.67 L569.69,294.81 L570.48,294.94 L571.27,295.07 L572.06,295.19 L572.85,295.30 L573.64,295.40 L574.43,295.50 L575.22,295.59 L576.01,295.67 L576.80,295.75 L577.59,295.82 L578.38,295.90 L579.17,295.97 L579.96,296.04 L580.75,296.11 L581.54,296.18 L582.33,296.25 L583.12,296.31 L583.91,296.37 L584.70,296.44 L585.49,296.50 L586.28,296.56 L587.07,296.61 L587.86,296.67 L588.65,296.72 L589.44,296.77 L590.23,296.82 L591.02,296.86 L591.81,296.90 L592.60,296.95 L593.39,296.98 L594.18,297.02 L594.97,297.05 L595.76,297.08 L596.55,297.11 L597.34,297.13 L598.13,297.16 L598.92,297.17 L599.71,297.19 L600.50,297.20 L601.29,297.21 L602.08,297.23 L602.87,297.24 L603.66,297.25 L604.45,297.26 L605.24,297.27 L606.03,297.28 L606.82,297.29 L607.61,297.30 L608.40,297.31 L609.19,297.31 L609.98,297.32 L610.77,297.33 L611.56,297.34 L612.35,297.34 L613.14,297.35 L613.93,297.35 L614.72,297.36 L615.51,297.36 L616.30,297.36 L617.09,297.36 L617.88,297.37 L618.67,297.37 L619.46,297.37 L620.25,297.37 L621.04,297.37 L621.83,297.37 L622.62,297.37 L623.41,297.37 L624.20,297.37 L624.99,297.37 L625.78,297.37 L626.57,297.37 L627.36,297.37 L628.15,297.37 L628.94,297.37 L629.73,297.37 L630.52,297.37 L631.31,297.37 L632.10,297.37 L632.89,297.37 L633.68,297.37 L634.47,297.37 L635.26,297.37 L636.05,297.37 L636.84,297.37 L637.63,297.37 L638.42,297.37 L639.21,297.37 L640.00,297.37" stroke="#d8606a" stroke-width="1.3" fill="none" stroke-linejoin="round" stroke-linecap="round"/>
<path d="M482.80,253.41 L483.59,254.08 L484.38,254.74 L485.17,255.41 L485.96,256.07 L486.75,256.72 L487.54,257.37 L488.33,258.02 L489.12,258.67 L489.91,259.31 L490.70,259.95 L491.49,260.58 L492.28,261.21 L493.07,261.84 L493.86,262.46 L494.65,263.08 L495.44,263.69 L496.23,264.30 L497.02,264.91 L497.81,265.51 L498.60,266.10 L499.39,266.70 L500.18,267.29 L500.97,267.87 L501.76,268.45 L502.55,269.02 L503.34,269.59 L504.13,270.16 L504.92,270.72 L505.71,271.29 L506.50,271.86 L507.29,272.43 L508.08,272.99 L508.87,273.56 L509.66,274.12 L510.45,274.69 L511.24,275.25 L512.03,275.81 L512.82,276.36 L513.61,276.91 L514.40,277.46 L515.19,278.00 L515.98,278.53 L516.77,279.07 L517.56,279.59 L518.35,280.11 L519.14,280.62 L519.93,281.12 L520.72,281.61 L521.51,282.10 L522.30,282.57 L523.09,283.04 L523.88,283.49 L524.67,283.94 L525.46,284.37 L526.25,284.79 L527.04,285.20 L527.83,285.60 L528.62,285.99 L529.41,286.37 L530.20,286.75 L530.99,287.12 L531.78,287.49 L532.57,287.86 L533.36,288.22 L534.15,288.57 L534.94,288.93 L535.73,289.27 L536.52,289.61 L537.31,289.95 L538.10,290.28 L538.89,290.61 L539.68,290.93 L540.47,291.24 L541.26,291.55 L542.05,291.86 L542.84,292.15 L543.63,292.45 L544.42,292.73 L545.21,293.02 L546.00,293.29 L546.79,293.56 L547.58,293.82 L548.37,294.08 L549.16,294.33 L549.95,294.57 L550.74,294.81 L551.53,295.04 L552.32,295.27 L553.11,295.49 L553.90,295.71 L554.69,295.93 L555.48,296.15 L556.27,296.37 L557.06,296.58 L557.85,296.79 L558.64,297.00 L559.43,297.20 L560.22,297.41 L561.01,297.60 L561.79,297.80 L562.58,297.99 L563.37,298.18 L564.16,298.36 L564.95,298.54 L565.74,298.72 L566.53,298.89 L567.32,299.05 L568.11,299.21 L568.90,299.37 L569.69,299.52 L570.48,299.66 L571.27,299.80 L572.06,299.93 L572.85,300.06 L573.64,300.17 L574.43,300.29 L575.22,300.39 L576.01,300.49 L576.80,300.58 L577.59,300.67 L578.38,300.76 L579.17,300.84 L579.96,300.93 L580.75,301.01 L581.54,301.09 L582.33,301.17 L583.12,301.24 L583.91,301.32 L584.70,301.39 L585.49,301.46 L586.28,301.52 L587.07,301.59 L587.86,301.65 L588.65,301.72 L589.44,301.78 L590.23,301.84 L591.02,301.89 L591.81,301.95 L592.60,302.00 L593.39,302.05 L594.18,302.10 L594.97,302.15 L595.76,302.20 L596.55,302.25 L597.34,302.29 L598.13,302.33 L598.92,302.38 L599.71,302.42 L600.50,302.45 L601.29,302.49 L602.08,302.53 L602.87,302.57 L603.66,302.61 L604.45,302.65 L605.24,302.68 L606.03,302.72 L606.82,302.76 L607.61,302.79 L608.40,302.83 L609.19,302.86 L609.98,302.89 L610.77,302.92 L611.56,302.95 L612.35,302.97 L613.14,303.00 L613.93,303.02 L614.72,303.04 L615.51,303.06 L616.30,303.08 L617.09,303.09 L617.88,303.10 L618.67,303.11 L619.46,303.12 L620.25,303.12 L621.04,303.13 L621.83,303.13 L622.62,303.14 L623.41,303.14 L624.20,303.15 L624.99,303.15 L625.78,303.16 L626.57,303.16 L627.36,303.17 L628.15,303.17 L628.94,303.17 L629.73,303.18 L630.52,303.18 L631.31,303.18 L632.10,303.19 L632.89,303.19 L633.68,303.19 L634.47,303.19 L635.26,303.19 L636.05,303.20 L636.84,303.20 L637.63,303.20 L638.42,303.20 L639.21,303.20 L640.00,303.20" stroke="#f2a4aa" stroke-width="1.3" fill="none" stroke-linejoin="round" stroke-linecap="round"/>
<line x1="509.00" y1="318.50" x2="509.00" y2="320.00" stroke="#444" stroke-width="0.7"/>
<line x1="561.40" y1="318.50" x2="561.40" y2="320.00" stroke="#444" stroke-width="0.7"/>
<line x1="613.80" y1="318.50" x2="613.80" y2="320.00" stroke="#444" stroke-width="0.7"/>
<line x1="482.80" y1="318.50" x2="482.80" y2="321.10" stroke="#444" stroke-width="0.8"/>
<line x1="535.20" y1="318.50" x2="535.20" y2="321.10" stroke="#444" stroke-width="0.8"/>
<line x1="587.60" y1="318.50" x2="587.60" y2="321.10" stroke="#444" stroke-width="0.8"/>
<line x1="640.00" y1="318.50" x2="640.00" y2="321.10" stroke="#444" stroke-width="0.8"/>
<line x1="481.30" y1="297.37" x2="482.80" y2="297.37" stroke="#444" stroke-width="0.7"/>
<line x1="481.30" y1="255.10" x2="482.80" y2="255.10" stroke="#444" stroke-width="0.7"/>
<line x1="481.30" y1="212.83" x2="482.80" y2="212.83" stroke="#444" stroke-width="0.7"/>
<line x1="480.20" y1="318.50" x2="482.80" y2="318.50" stroke="#444" stroke-width="0.8"/>
<line x1="480.20" y1="276.23" x2="482.80" y2="276.23" stroke="#444" stroke-width="0.8"/>
<line x1="480.20" y1="233.97" x2="482.80" y2="233.97" stroke="#444" stroke-width="0.8"/>
<line x1="480.20" y1="191.70" x2="482.80" y2="191.70" stroke="#444" stroke-width="0.8"/>
<line x1="482.80" y1="191.70" x2="482.80" y2="318.95" stroke="#444" stroke-width="0.9"/>
<line x1="482.35" y1="318.50" x2="640.00" y2="318.50" stroke="#444" stroke-width="0.9"/>
<text x="482.80" y="329.50" font-size="7.8" font-weight="bold" font-style="normal" text-anchor="middle" fill="#1a1a1a" transform="matrix(1.0 0 0 1.06 0.000 -19.770)"><tspan>750</tspan></text>
<text x="535.20" y="329.50" font-size="7.8" font-weight="bold" font-style="normal" text-anchor="middle" fill="#1a1a1a" transform="matrix(1.0 0 0 1.06 0.000 -19.770)"><tspan>800</tspan></text>
<text x="587.60" y="329.50" font-size="7.8" font-weight="bold" font-style="normal" text-anchor="middle" fill="#1a1a1a" transform="matrix(1.0 0 0 1.06 0.000 -19.770)"><tspan>850</tspan></text>
<text x="640.00" y="329.50" font-size="7.8" font-weight="bold" font-style="normal" text-anchor="middle" fill="#1a1a1a" transform="matrix(1.0 0 0 1.06 0.000 -19.770)"><tspan>900</tspan></text>
<text x="478.40" y="321.23" font-size="7.8" font-weight="bold" font-style="normal" text-anchor="end" fill="#1a1a1a" transform="matrix(1.0 0 0 1.06 0.000 -19.274)"><tspan>0.0</tspan></text>
<text x="478.40" y="278.96" font-size="7.8" font-weight="bold" font-style="normal" text-anchor="end" fill="#1a1a1a" transform="matrix(1.0 0 0 1.06 0.000 -16.738)"><tspan>0.5</tspan></text>
<text x="478.40" y="236.70" font-size="7.8" font-weight="bold" font-style="normal" text-anchor="end" fill="#1a1a1a" transform="matrix(1.0 0 0 1.06 0.000 -14.202)"><tspan>1.0</tspan></text>
<text x="478.40" y="194.43" font-size="7.8" font-weight="bold" font-style="normal" text-anchor="end" fill="#1a1a1a" transform="matrix(1.0 0 0 1.06 0.000 -11.666)"><tspan>1.5</tspan></text>
<rect x="573.60" y="248.10" width="29.10" height="70.40" fill="none" stroke="#8a8a8a" stroke-width="1.0"/>
<line x1="588.00" y1="252.80" x2="588.00" y2="283.90" stroke="#111" stroke-width="1.1"/>
<path d="M588.00,288.70 L585.70,280.70 L588.00,282.70 L590.30,280.70 Z" fill="#111"/>
<text x="463.70" y="255.10" font-size="7.8" font-weight="bold" font-style="normal" text-anchor="middle" fill="#1a1a1a" transform="rotate(-90 463.7 255.1)"><tspan>Absorbance (A.U.)</tspan></text>
<text x="561.40" y="340.20" font-size="7.8" font-weight="bold" font-style="normal" text-anchor="middle" fill="#1a1a1a" transform="matrix(1.0 0 0 1.06 0.000 -20.412)"><tspan>Wavelength (nm)</tspan></text>
<line x1="504.40" y1="194.60" x2="518.00" y2="194.60" stroke="#7b1e2e" stroke-width="1.6"/>
<text x="520.90" y="196.98" font-size="7.8" font-weight="bold" font-style="normal" text-anchor="start" fill="#1a1a1a" transform="matrix(1.0 0 0 1.06 0.000 -11.819)"><tspan>Mn(acac)</tspan><tspan font-size="6.63" dy="2.34">3</tspan><tspan dy="-2.34"> + TMSN</tspan><tspan font-size="6.63" dy="2.34">3</tspan><tspan dy="-2.34"> + L1</tspan></text>
<line x1="504.40" y1="206.70" x2="518.00" y2="206.70" stroke="#b83240" stroke-width="1.6"/>
<text x="520.90" y="209.08" font-size="7.8" font-weight="bold" font-style="normal" text-anchor="start" fill="#1a1a1a" transform="matrix(1.0 0 0 1.06 0.000 -12.545)"><tspan>Irradiation at 850 nm for 3 min under N</tspan><tspan font-size="6.63" dy="2.34">2</tspan></text>
<line x1="504.40" y1="218.70" x2="518.00" y2="218.70" stroke="#d8606a" stroke-width="1.6"/>
<text x="520.90" y="221.08" font-size="7.8" font-weight="bold" font-style="normal" text-anchor="start" fill="#1a1a1a" transform="matrix(1.0 0 0 1.06 0.000 -13.265)"><tspan>Irradiation at 850 nm for 6 min under N</tspan><tspan font-size="6.63" dy="2.34">2</tspan></text>
<line x1="504.40" y1="230.60" x2="518.00" y2="230.60" stroke="#f2a4aa" stroke-width="1.6"/>
<text x="520.90" y="232.98" font-size="7.8" font-weight="bold" font-style="normal" text-anchor="start" fill="#1a1a1a" transform="matrix(1.0 0 0 1.06 0.000 -13.979)"><tspan>Irradiation at 850 nm for 9 min under N</tspan><tspan font-size="6.63" dy="2.34">2</tspan></text>
<text x="6.40" y="358.00" font-size="9.6" font-weight="bold" font-style="normal" text-anchor="start" fill="#111" transform="matrix(1.0 0 0 1.09 0.000 -32.220)"><tspan>G</tspan></text>
<path d="M36.50,430.52 L37.29,430.88 L38.08,431.24 L38.87,431.59 L39.66,431.94 L40.44,432.28 L41.23,432.62 L42.02,432.95 L42.81,433.28 L43.60,433.61 L44.39,433.92 L45.18,434.24 L45.97,434.55 L46.76,434.85 L47.55,435.15 L48.33,435.45 L49.12,435.74 L49.91,436.03 L50.70,436.32 L51.49,436.60 L52.28,436.88 L53.07,437.15 L53.86,437.42 L54.65,437.68 L55.43,437.93 L56.22,438.18 L57.01,438.41 L57.80,438.64 L58.59,438.87 L59.38,439.10 L60.17,439.33 L60.96,439.56 L61.75,439.78 L62.54,440.00 L63.32,440.22 L64.11,440.44 L64.90,440.65 L65.69,440.86 L66.48,441.07 L67.27,441.27 L68.06,441.47 L68.85,441.66 L69.64,441.85 L70.42,442.03 L71.21,442.20 L72.00,442.38 L72.79,442.54 L73.58,442.70 L74.37,442.85 L75.16,442.99 L75.95,443.13 L76.74,443.26 L77.53,443.38 L78.31,443.50 L79.10,443.62 L79.89,443.73 L80.68,443.84 L81.47,443.95 L82.26,444.05 L83.05,444.15 L83.84,444.25 L84.63,444.35 L85.41,444.44 L86.20,444.53 L86.99,444.62 L87.78,444.71 L88.57,444.79 L89.36,444.88 L90.15,444.96 L90.94,445.04 L91.73,445.12 L92.52,445.20 L93.30,445.29 L94.09,445.37 L94.88,445.45 L95.67,445.53 L96.46,445.61 L97.25,445.69 L98.04,445.77 L98.83,445.85 L99.62,445.94 L100.40,446.02 L101.19,446.11 L101.98,446.19 L102.77,446.28 L103.56,446.38 L104.35,446.47 L105.14,446.56 L105.93,446.66 L106.72,446.76 L107.51,446.86 L108.29,446.96 L109.08,447.05 L109.87,447.15 L110.66,447.25 L111.45,447.35 L112.24,447.45 L113.03,447.55 L113.82,447.65 L114.61,447.75 L115.39,447.85 L116.18,447.95 L116.97,448.05 L117.76,448.15 L118.55,448.25 L119.34,448.36 L120.13,448.46 L120.92,448.56 L121.71,448.67 L122.49,448.78 L123.28,448.88 L124.07,448.99 L124.86,449.10 L125.65,449.21 L126.44,449.32 L127.23,449.43 L128.02,449.55 L128.81,449.66 L129.60,449.78 L130.38,449.89 L131.17,450.01 L131.96,450.13 L132.75,450.26 L133.54,450.38 L134.33,450.50 L135.12,450.63 L135.91,450.76 L136.70,450.88 L137.48,451.01 L138.27,451.14 L139.06,451.27 L139.85,451.40 L140.64,451.54 L141.43,451.67 L142.22,451.80 L143.01,451.94 L143.80,452.07 L144.59,452.21 L145.37,452.35 L146.16,452.48 L146.95,452.62 L147.74,452.76 L148.53,452.90 L149.32,453.04 L150.11,453.18 L150.90,453.31 L151.69,453.45 L152.47,453.59 L153.26,453.73 L154.05,453.87 L154.84,454.01 L155.63,454.15 L156.42,454.29 L157.21,454.43 L158.00,454.58 L158.79,454.72 L159.58,454.86 L160.36,455.01 L161.15,455.15 L161.94,455.30 L162.73,455.44 L163.52,455.59 L164.31,455.74 L165.10,455.88 L165.89,456.03 L166.68,456.18 L167.46,456.33 L168.25,456.48 L169.04,456.63 L169.83,456.78 L170.62,456.93 L171.41,457.08 L172.20,457.23 L172.99,457.38 L173.78,457.53 L174.57,457.68 L175.35,457.83 L176.14,457.99 L176.93,458.14 L177.72,458.29 L178.51,458.45 L179.30,458.60 L180.09,458.75 L180.88,458.91 L181.67,459.06 L182.45,459.22 L183.24,459.38 L184.03,459.54 L184.82,459.69 L185.61,459.85 L186.40,460.01 L187.19,460.17 L187.98,460.33 L188.77,460.49 L189.56,460.65 L190.34,460.81 L191.13,460.97 L191.92,461.13 L192.71,461.30 L193.50,461.46" stroke="#a82828" stroke-width="1.3" fill="none" stroke-linejoin="round" stroke-linecap="round"/>
<path d="M36.50,446.58 L37.29,447.00 L38.08,447.40 L38.87,447.79 L39.66,448.17 L40.44,448.53 L41.23,448.87 L42.02,449.20 L42.81,449.50 L43.60,449.79 L44.39,450.06 L45.18,450.31 L45.97,450.55 L46.76,450.77 L47.55,450.99 L48.33,451.19 L49.12,451.38 L49.91,451.57 L50.70,451.75 L51.49,451.92 L52.28,452.09 L53.07,452.26 L53.86,452.43 L54.65,452.60 L55.43,452.77 L56.22,452.95 L57.01,453.12 L57.80,453.29 L58.59,453.45 L59.38,453.61 L60.17,453.77 L60.96,453.92 L61.75,454.07 L62.54,454.20 L63.32,454.33 L64.11,454.46 L64.90,454.57 L65.69,454.67 L66.48,454.75 L67.27,454.83 L68.06,454.89 L68.85,454.94 L69.64,454.97 L70.42,455.01 L71.21,455.04 L72.00,455.07 L72.79,455.10 L73.58,455.13 L74.37,455.16 L75.16,455.18 L75.95,455.20 L76.74,455.23 L77.53,455.25 L78.31,455.27 L79.10,455.29 L79.89,455.31 L80.68,455.33 L81.47,455.35 L82.26,455.36 L83.05,455.38 L83.84,455.39 L84.63,455.41 L85.41,455.42 L86.20,455.44 L86.99,455.45 L87.78,455.46 L88.57,455.48 L89.36,455.49 L90.15,455.50 L90.94,455.51 L91.73,455.53 L92.52,455.54 L93.30,455.55 L94.09,455.57 L94.88,455.58 L95.67,455.59 L96.46,455.60 L97.25,455.62 L98.04,455.63 L98.83,455.65 L99.62,455.66 L100.40,455.68 L101.19,455.70 L101.98,455.71 L102.77,455.73 L103.56,455.75 L104.35,455.77 L105.14,455.79 L105.93,455.81 L106.72,455.83 L107.51,455.86 L108.29,455.88 L109.08,455.90 L109.87,455.92 L110.66,455.95 L111.45,455.97 L112.24,455.99 L113.03,456.01 L113.82,456.04 L114.61,456.06 L115.39,456.08 L116.18,456.11 L116.97,456.13 L117.76,456.16 L118.55,456.18 L119.34,456.20 L120.13,456.23 L120.92,456.25 L121.71,456.28 L122.49,456.30 L123.28,456.33 L124.07,456.35 L124.86,456.38 L125.65,456.41 L126.44,456.43 L127.23,456.46 L128.02,456.49 L128.81,456.51 L129.60,456.54 L130.38,456.57 L131.17,456.60 L131.96,456.62 L132.75,456.65 L133.54,456.68 L134.33,456.71 L135.12,456.74 L135.91,456.77 L136.70,456.80 L137.48,456.83 L138.27,456.86 L139.06,456.89 L139.85,456.92 L140.64,456.95 L141.43,456.98 L142.22,457.01 L143.01,457.04 L143.80,457.07 L144.59,457.11 L145.37,457.14 L146.16,457.17 L146.95,457.20 L147.74,457.23 L148.53,457.27 L149.32,457.30 L150.11,457.33 L150.90,457.37 L151.69,457.40 L152.47,457.44 L153.26,457.47 L154.05,457.51 L154.84,457.55 L155.63,457.59 L156.42,457.63 L157.21,457.67 L158.00,457.71 L158.79,457.75 L159.58,457.79 L160.36,457.84 L161.15,457.88 L161.94,457.93 L162.73,457.98 L163.52,458.03 L164.31,458.08 L165.10,458.14 L165.89,458.19 L166.68,458.25 L167.46,458.31 L168.25,458.38 L169.04,458.45 L169.83,458.52 L170.62,458.60 L171.41,458.68 L172.20,458.76 L172.99,458.85 L173.78,458.94 L174.57,459.03 L175.35,459.12 L176.14,459.21 L176.93,459.31 L177.72,459.41 L178.51,459.51 L179.30,459.61 L180.09,459.72 L180.88,459.82 L181.67,459.93 L182.45,460.04 L183.24,460.15 L184.03,460.27 L184.82,460.39 L185.61,460.52 L186.40,460.65 L187.19,460.78 L187.98,460.92 L188.77,461.06 L189.56,461.21 L190.34,461.35 L191.13,461.50 L191.92,461.66 L192.71,461.81 L193.50,461.97" stroke="#d63c3c" stroke-width="1.3" fill="none" stroke-linejoin="round" stroke-linecap="round"/>
<path d="M36.50,450.47 L37.29,450.75 L38.08,451.02 L38.87,451.29 L39.66,451.55 L40.44,451.81 L41.23,452.07 L42.02,452.32 L42.81,452.57 L43.60,452.82 L44.39,453.06 L45.18,453.29 L45.97,453.52 L46.76,453.74 L47.55,453.96 L48.33,454.17 L49.12,454.38 L49.91,454.58 L50.70,454.77 L51.49,454.96 L52.28,455.14 L53.07,455.31 L53.86,455.49 L54.65,455.67 L55.43,455.84 L56.22,456.02 L57.01,456.19 L57.80,456.36 L58.59,456.53 L59.38,456.69 L60.17,456.85 L60.96,457.00 L61.75,457.15 L62.54,457.29 L63.32,457.43 L64.11,457.55 L64.90,457.67 L65.69,457.79 L66.48,457.89 L67.27,457.98 L68.06,458.07 L68.85,458.14 L69.64,458.21 L70.42,458.27 L71.21,458.33 L72.00,458.39 L72.79,458.45 L73.58,458.51 L74.37,458.57 L75.16,458.62 L75.95,458.67 L76.74,458.73 L77.53,458.78 L78.31,458.83 L79.10,458.87 L79.89,458.92 L80.68,458.97 L81.47,459.01 L82.26,459.06 L83.05,459.10 L83.84,459.14 L84.63,459.18 L85.41,459.22 L86.20,459.26 L86.99,459.29 L87.78,459.33 L88.57,459.36 L89.36,459.40 L90.15,459.43 L90.94,459.46 L91.73,459.50 L92.52,459.53 L93.30,459.56 L94.09,459.59 L94.88,459.62 L95.67,459.64 L96.46,459.67 L97.25,459.70 L98.04,459.72 L98.83,459.75 L99.62,459.77 L100.40,459.80 L101.19,459.82 L101.98,459.84 L102.77,459.87 L103.56,459.89 L104.35,459.91 L105.14,459.93 L105.93,459.95 L106.72,459.97 L107.51,459.99 L108.29,460.01 L109.08,460.03 L109.87,460.05 L110.66,460.06 L111.45,460.08 L112.24,460.09 L113.03,460.10 L113.82,460.12 L114.61,460.13 L115.39,460.14 L116.18,460.16 L116.97,460.17 L117.76,460.18 L118.55,460.19 L119.34,460.20 L120.13,460.21 L120.92,460.22 L121.71,460.23 L122.49,460.24 L123.28,460.25 L124.07,460.26 L124.86,460.27 L125.65,460.28 L126.44,460.30 L127.23,460.31 L128.02,460.32 L128.81,460.33 L129.60,460.34 L130.38,460.36 L131.17,460.37 L131.96,460.38 L132.75,460.40 L133.54,460.41 L134.33,460.43 L135.12,460.45 L135.91,460.46 L136.70,460.48 L137.48,460.50 L138.27,460.52 L139.06,460.54 L139.85,460.57 L140.64,460.59 L141.43,460.62 L142.22,460.64 L143.01,460.67 L143.80,460.71 L144.59,460.75 L145.37,460.79 L146.16,460.84 L146.95,460.89 L147.74,460.94 L148.53,461.00 L149.32,461.06 L150.11,461.12 L150.90,461.18 L151.69,461.25 L152.47,461.32 L153.26,461.39 L154.05,461.47 L154.84,461.54 L155.63,461.62 L156.42,461.70 L157.21,461.78 L158.00,461.86 L158.79,461.94 L159.58,462.02 L160.36,462.11 L161.15,462.19 L161.94,462.28 L162.73,462.37 L163.52,462.45 L164.31,462.54 L165.10,462.63 L165.89,462.71 L166.68,462.80 L167.46,462.90 L168.25,462.99 L169.04,463.09 L169.83,463.19 L170.62,463.29 L171.41,463.39 L172.20,463.50 L172.99,463.61 L173.78,463.72 L174.57,463.83 L175.35,463.95 L176.14,464.07 L176.93,464.19 L177.72,464.31 L178.51,464.43 L179.30,464.56 L180.09,464.69 L180.88,464.81 L181.67,464.95 L182.45,465.08 L183.24,465.21 L184.03,465.35 L184.82,465.49 L185.61,465.63 L186.40,465.77 L187.19,465.92 L187.98,466.06 L188.77,466.21 L189.56,466.36 L190.34,466.51 L191.13,466.66 L191.92,466.81 L192.71,466.97 L193.50,467.12" stroke="#ef7e7e" stroke-width="1.3" fill="none" stroke-linejoin="round" stroke-linecap="round"/>
<path d="M36.50,457.74 L37.29,457.99 L38.08,458.24 L38.87,458.49 L39.66,458.73 L40.44,458.97 L41.23,459.21 L42.02,459.44 L42.81,459.66 L43.60,459.88 L44.39,460.09 L45.18,460.30 L45.97,460.51 L46.76,460.70 L47.55,460.90 L48.33,461.08 L49.12,461.26 L49.91,461.43 L50.70,461.59 L51.49,461.75 L52.28,461.90 L53.07,462.04 L53.86,462.18 L54.65,462.32 L55.43,462.46 L56.22,462.60 L57.01,462.73 L57.80,462.86 L58.59,462.98 L59.38,463.11 L60.17,463.23 L60.96,463.34 L61.75,463.45 L62.54,463.56 L63.32,463.66 L64.11,463.76 L64.90,463.85 L65.69,463.94 L66.48,464.02 L67.27,464.10 L68.06,464.17 L68.85,464.23 L69.64,464.29 L70.42,464.35 L71.21,464.40 L72.00,464.45 L72.79,464.51 L73.58,464.56 L74.37,464.61 L75.16,464.65 L75.95,464.70 L76.74,464.74 L77.53,464.79 L78.31,464.83 L79.10,464.87 L79.89,464.91 L80.68,464.95 L81.47,464.99 L82.26,465.02 L83.05,465.06 L83.84,465.10 L84.63,465.13 L85.41,465.16 L86.20,465.20 L86.99,465.23 L87.78,465.26 L88.57,465.29 L89.36,465.32 L90.15,465.35 L90.94,465.38 L91.73,465.41 L92.52,465.44 L93.30,465.47 L94.09,465.50 L94.88,465.53 L95.67,465.56 L96.46,465.59 L97.25,465.62 L98.04,465.65 L98.83,465.68 L99.62,465.71 L100.40,465.74 L101.19,465.77 L101.98,465.80 L102.77,465.83 L103.56,465.87 L104.35,465.90 L105.14,465.93 L105.93,465.97 L106.72,466.00 L107.51,466.03 L108.29,466.06 L109.08,466.10 L109.87,466.13 L110.66,466.16 L111.45,466.19 L112.24,466.22 L113.03,466.25 L113.82,466.28 L114.61,466.31 L115.39,466.33 L116.18,466.36 L116.97,466.39 L117.76,466.42 L118.55,466.45 L119.34,466.47 L120.13,466.50 L120.92,466.53 L121.71,466.56 L122.49,466.59 L123.28,466.62 L124.07,466.64 L124.86,466.67 L125.65,466.70 L126.44,466.73 L127.23,466.76 L128.02,466.79 L128.81,466.82 L129.60,466.85 L130.38,466.88 L131.17,466.91 L131.96,466.94 L132.75,466.98 L133.54,467.01 L134.33,467.04 L135.12,467.08 L135.91,467.11 L136.70,467.15 L137.48,467.18 L138.27,467.22 L139.06,467.26 L139.85,467.30 L140.64,467.34 L141.43,467.38 L142.22,467.42 L143.01,467.46 L143.80,467.51 L144.59,467.56 L145.37,467.60 L146.16,467.65 L146.95,467.70 L147.74,467.76 L148.53,467.81 L149.32,467.86 L150.11,467.92 L150.90,467.97 L151.69,468.03 L152.47,468.09 L153.26,468.14 L154.05,468.20 L154.84,468.26 L155.63,468.32 L156.42,468.38 L157.21,468.44 L158.00,468.50 L158.79,468.57 L159.58,468.63 L160.36,468.69 L161.15,468.75 L161.94,468.81 L162.73,468.87 L163.52,468.93 L164.31,469.00 L165.10,469.06 L165.89,469.12 L166.68,469.18 L167.46,469.24 L168.25,469.30 L169.04,469.36 L169.83,469.42 L170.62,469.49 L171.41,469.55 L172.20,469.61 L172.99,469.68 L173.78,469.74 L174.57,469.80 L175.35,469.87 L176.14,469.93 L176.93,470.00 L177.72,470.06 L178.51,470.13 L179.30,470.19 L180.09,470.26 L180.88,470.33 L181.67,470.39 L182.45,470.46 L183.24,470.53 L184.03,470.60 L184.82,470.66 L185.61,470.73 L186.40,470.80 L187.19,470.87 L187.98,470.94 L188.77,471.01 L189.56,471.08 L190.34,471.15 L191.13,471.22 L191.92,471.29 L192.71,471.36 L193.50,471.43" stroke="#f9c4c4" stroke-width="1.3" fill="none" stroke-linejoin="round" stroke-linecap="round"/>
<line x1="56.12" y1="490.20" x2="56.12" y2="491.70" stroke="#444" stroke-width="0.7"/>
<line x1="95.38" y1="490.20" x2="95.38" y2="491.70" stroke="#444" stroke-width="0.7"/>
<line x1="134.62" y1="490.20" x2="134.62" y2="491.70" stroke="#444" stroke-width="0.7"/>
<line x1="173.88" y1="490.20" x2="173.88" y2="491.70" stroke="#444" stroke-width="0.7"/>
<line x1="36.50" y1="490.20" x2="36.50" y2="492.80" stroke="#444" stroke-width="0.8"/>
<line x1="75.75" y1="490.20" x2="75.75" y2="492.80" stroke="#444" stroke-width="0.8"/>
<line x1="115.00" y1="490.20" x2="115.00" y2="492.80" stroke="#444" stroke-width="0.8"/>
<line x1="154.25" y1="490.20" x2="154.25" y2="492.80" stroke="#444" stroke-width="0.8"/>
<line x1="193.50" y1="490.20" x2="193.50" y2="492.80" stroke="#444" stroke-width="0.8"/>
<line x1="35.00" y1="469.07" x2="36.50" y2="469.07" stroke="#444" stroke-width="0.7"/>
<line x1="35.00" y1="426.80" x2="36.50" y2="426.80" stroke="#444" stroke-width="0.7"/>
<line x1="35.00" y1="384.53" x2="36.50" y2="384.53" stroke="#444" stroke-width="0.7"/>
<line x1="33.90" y1="490.20" x2="36.50" y2="490.20" stroke="#444" stroke-width="0.8"/>
<line x1="33.90" y1="447.93" x2="36.50" y2="447.93" stroke="#444" stroke-width="0.8"/>
<line x1="33.90" y1="405.67" x2="36.50" y2="405.67" stroke="#444" stroke-width="0.8"/>
<line x1="33.90" y1="363.40" x2="36.50" y2="363.40" stroke="#444" stroke-width="0.8"/>
<line x1="36.50" y1="363.40" x2="36.50" y2="490.65" stroke="#444" stroke-width="0.9"/>
<line x1="36.05" y1="490.20" x2="193.50" y2="490.20" stroke="#444" stroke-width="0.9"/>
<text x="36.50" y="500.60" font-size="7.8" font-weight="bold" font-style="normal" text-anchor="middle" fill="#1a1a1a" transform="matrix(1.0 0 0 1.06 0.000 -30.036)"><tspan>700</tspan></text>
<text x="75.75" y="500.60" font-size="7.8" font-weight="bold" font-style="normal" text-anchor="middle" fill="#1a1a1a" transform="matrix(1.0 0 0 1.06 0.000 -30.036)"><tspan>750</tspan></text>
<text x="115.00" y="500.60" font-size="7.8" font-weight="bold" font-style="normal" text-anchor="middle" fill="#1a1a1a" transform="matrix(1.0 0 0 1.06 0.000 -30.036)"><tspan>800</tspan></text>
<text x="154.25" y="500.60" font-size="7.8" font-weight="bold" font-style="normal" text-anchor="middle" fill="#1a1a1a" transform="matrix(1.0 0 0 1.06 0.000 -30.036)"><tspan>850</tspan></text>
<text x="193.50" y="500.60" font-size="7.8" font-weight="bold" font-style="normal" text-anchor="middle" fill="#1a1a1a" transform="matrix(1.0 0 0 1.06 0.000 -30.036)"><tspan>900</tspan></text>
<text x="32.10" y="492.93" font-size="7.8" font-weight="bold" font-style="normal" text-anchor="end" fill="#1a1a1a" transform="matrix(1.0 0 0 1.06 0.000 -29.576)"><tspan>0.5</tspan></text>
<text x="32.10" y="450.66" font-size="7.8" font-weight="bold" font-style="normal" text-anchor="end" fill="#1a1a1a" transform="matrix(1.0 0 0 1.06 0.000 -27.040)"><tspan>1.0</tspan></text>
<text x="32.10" y="408.40" font-size="7.8" font-weight="bold" font-style="normal" text-anchor="end" fill="#1a1a1a" transform="matrix(1.0 0 0 1.06 0.000 -24.504)"><tspan>1.5</tspan></text>
<text x="32.10" y="366.13" font-size="7.8" font-weight="bold" font-style="normal" text-anchor="end" fill="#1a1a1a" transform="matrix(1.0 0 0 1.06 0.000 -21.968)"><tspan>2.0</tspan></text>
<rect x="139.50" y="423.20" width="28.90" height="66.30" fill="none" stroke="#8a8a8a" stroke-width="1.0"/>
<line x1="154.60" y1="434.10" x2="154.60" y2="479.90" stroke="#111" stroke-width="1.1"/>
<path d="M154.60,484.70 L152.30,476.70 L154.60,478.70 L156.90,476.70 Z" fill="#111"/>
<text x="16.90" y="426.80" font-size="7.8" font-weight="bold" font-style="normal" text-anchor="middle" fill="#1a1a1a" transform="rotate(-90 16.9 426.8)"><tspan>Absorbance (A.U.)</tspan></text>
<text x="115.00" y="512.00" font-size="7.8" font-weight="bold" font-style="normal" text-anchor="middle" fill="#1a1a1a" transform="matrix(1.0 0 0 1.06 0.000 -30.720)"><tspan>Wavelength (nm)</tspan></text>
<line x1="44.50" y1="367.60" x2="57.40" y2="367.60" stroke="#a82828" stroke-width="1.6"/>
<text x="59.70" y="369.98" font-size="7.8" font-weight="bold" font-style="normal" text-anchor="start" fill="#1a1a1a" transform="matrix(1.0 0 0 1.06 0.000 -22.199)"><tspan>Mn(acac)</tspan><tspan font-size="6.63" dy="2.34">3</tspan><tspan dy="-2.34"> + TMSN</tspan><tspan font-size="6.63" dy="2.34">3</tspan></text>
<line x1="44.50" y1="379.40" x2="57.40" y2="379.40" stroke="#d63c3c" stroke-width="1.6"/>
<text x="59.70" y="381.78" font-size="7.8" font-weight="bold" font-style="normal" text-anchor="start" fill="#1a1a1a" transform="matrix(1.0 0 0 1.06 0.000 -22.907)"><tspan>Irradiation at 850 nm for 3 min under N</tspan><tspan font-size="6.63" dy="2.34">2</tspan></text>
<line x1="44.50" y1="391.20" x2="57.40" y2="391.20" stroke="#ef7e7e" stroke-width="1.6"/>
<text x="59.70" y="393.58" font-size="7.8" font-weight="bold" font-style="normal" text-anchor="start" fill="#1a1a1a" transform="matrix(1.0 0 0 1.06 0.000 -23.615)"><tspan>Irradiation at 850 nm for 6 min under N</tspan><tspan font-size="6.63" dy="2.34">2</tspan></text>
<line x1="44.50" y1="403.00" x2="57.40" y2="403.00" stroke="#f9c4c4" stroke-width="1.6"/>
<text x="59.70" y="405.38" font-size="7.8" font-weight="bold" font-style="normal" text-anchor="start" fill="#1a1a1a" transform="matrix(1.0 0 0 1.06 0.000 -24.323)"><tspan>Irradiation at 850 nm for 9 min under N</tspan><tspan font-size="6.63" dy="2.34">2</tspan></text>
<text x="227.70" y="358.90" font-size="9.6" font-weight="bold" font-style="normal" text-anchor="start" fill="#111" transform="matrix(1.0 0 0 1.09 0.000 -32.301)"><tspan>H</tspan></text>
<text x="241.80" y="396.10" font-size="7.55" font-weight="normal" font-style="normal" text-anchor="middle" fill="#1a1a1a" stroke="#1a1a1a" stroke-width="0.16" transform="matrix(1.0 0 0 1.04 0.000 -15.844)"><tspan>[Mn]</tspan></text>
<line x1="259.10" y1="392.10" x2="317.44" y2="392.10" stroke="#1a1a1a" stroke-width="1.0"/>
<path d="M322.60,392.10 L314.00,389.65 L315.55,392.10 L314.00,394.55 Z" fill="#1a1a1a"/>
<text x="286.80" y="386.60" font-size="7.55" font-weight="normal" font-style="normal" text-anchor="middle" fill="#1a1a1a" stroke="#1a1a1a" stroke-width="0.16" transform="matrix(1.0 0 0 1.04 0.000 -15.464)"><tspan fill="#963a3f" stroke="#963a3f">TMSN</tspan><tspan fill="#963a3f" stroke="#963a3f" font-size="5.13" dy="1.89">3</tspan><tspan dy="-1.89">, </tspan><tspan font-weight="bold">L1</tspan></text>
<text x="286.70" y="403.40" font-size="7.55" font-weight="normal" font-style="normal" text-anchor="middle" fill="#1a1a1a" stroke="#1a1a1a" stroke-width="0.16" transform="matrix(1.0 0 0 1.04 0.000 -16.136)"><tspan>in-situ assembly</tspan></text>
<path d="M377.50,365.47 L378.94,368.88 L382.41,369.06 L382.41,376.54 L378.94,376.72 L377.50,380.13 L375.26,383.08 L376.84,386.18 L370.36,389.92 L368.47,387.00 L364.80,387.47 L361.13,387.00 L359.24,389.92 L352.76,386.18 L354.34,383.08 L352.10,380.13 L350.66,376.72 L347.19,376.54 L347.19,369.06 L350.66,368.88 L352.10,365.47 L354.34,362.52 L352.76,359.42 L359.24,355.68 L361.13,358.60 L364.80,358.13 L368.47,358.60 L370.36,355.68 L376.84,359.42 L375.26,362.52 Z M375.40,372.80 A10.60,10.60 0 1,0 354.20,372.80 A10.60,10.60 0 1,0 375.40,372.80 Z" fill="#d8e7cf" fill-rule="evenodd" stroke="#d8e7cf" stroke-width="0.5" stroke-linejoin="round"/>
<path d="M397.19,404.08 L397.36,407.74 L400.53,409.08 L398.00,416.03 L394.71,415.02 L392.22,417.71 L389.15,419.69 L389.57,423.10 L382.28,424.39 L381.51,421.04 L377.94,420.23 L374.68,418.56 L371.94,420.63 L367.18,414.96 L369.70,412.62 L368.61,409.12 L368.44,405.46 L365.27,404.12 L367.80,397.17 L371.09,398.18 L373.58,395.49 L376.65,393.51 L376.23,390.10 L383.52,388.81 L384.29,392.16 L387.86,392.97 L391.12,394.64 L393.86,392.57 L398.62,398.24 L396.10,400.58 Z M393.50,406.60 A10.60,10.60 0 1,0 372.30,406.60 A10.60,10.60 0 1,0 393.50,406.60 Z" fill="#c0ddf9" fill-rule="evenodd" stroke="#c0ddf9" stroke-width="0.5" stroke-linejoin="round"/>
<path d="M342.33,388.78 L345.67,387.38 L345.84,383.98 L353.16,383.98 L353.33,387.38 L356.67,388.78 L359.55,390.97 L362.58,389.42 L366.24,395.76 L363.39,397.61 L363.84,401.20 L363.39,404.79 L366.24,406.64 L362.58,412.98 L359.55,411.43 L356.67,413.62 L353.33,415.02 L353.16,418.42 L345.84,418.42 L345.67,415.02 L342.33,413.62 L339.45,411.43 L336.42,412.98 L332.76,406.64 L335.61,404.79 L335.16,401.20 L335.61,397.61 L332.76,395.76 L336.42,389.42 L339.45,390.97 Z M360.00,401.20 A10.50,10.50 0 1,0 339.00,401.20 A10.50,10.50 0 1,0 360.00,401.20 Z" fill="#ec8b95" fill-rule="evenodd" stroke="#ec8b95" stroke-width="0.5" stroke-linejoin="round"/>
<text x="364.80" y="375.70" font-size="7.9" font-weight="bold" font-style="normal" text-anchor="middle" fill="#1a1a1a" stroke="#1a1a1a" stroke-width="0.16" transform="matrix(1.0 0 0 1.04 0.000 -15.028)"><tspan>L1</tspan></text>
<text x="349.30" y="404.00" font-size="7.55" font-weight="normal" font-style="normal" text-anchor="middle" fill="#1a1a1a" stroke="#1a1a1a" stroke-width="0.16" transform="matrix(1.0 0 0 1.04 0.000 -16.160)"><tspan>[Mn]</tspan></text>
<text x="382.60" y="409.30" font-size="7.55" font-weight="normal" font-style="normal" text-anchor="middle" fill="#1a1a1a" stroke="#1a1a1a" stroke-width="0.16" transform="matrix(1.0 0 0 1.04 0.000 -16.372)"><tspan fill="#963a3f" stroke="#963a3f">TMSN</tspan><tspan fill="#963a3f" stroke="#963a3f" font-size="5.13" dy="1.89">3</tspan></text>
<line x1="407.90" y1="392.10" x2="453.44" y2="392.10" stroke="#1a1a1a" stroke-width="1.0"/>
<path d="M458.60,392.10 L450.00,389.65 L451.55,392.10 L450.00,394.55 Z" fill="#1a1a1a"/>
<text x="429.50" y="386.60" font-size="7.55" font-weight="normal" font-style="italic" text-anchor="middle" fill="#1a1a1a" stroke="#1a1a1a" stroke-width="0.16" transform="matrix(1.0 0 0 1.04 0.000 -15.464)"><tspan>hv</tspan></text>
<text x="429.00" y="404.00" font-size="7.55" font-weight="normal" font-style="normal" text-anchor="middle" fill="#1a1a1a" stroke="#1a1a1a" stroke-width="0.16" transform="matrix(1.0 0 0 1.04 0.000 -16.160)"><tspan>LMCT</tspan></text>
<circle cx="476.30" cy="393.80" r="12.20" fill="#f4f7fc" stroke="none" stroke-width="1"/>
<circle cx="475.10" cy="392.40" r="11.80" fill="#e6effa" stroke="none" stroke-width="1"/>
<circle cx="470.20" cy="392.30" r="0.75" fill="#963a3f" stroke="none" stroke-width="1"/>
<text x="472.40" y="395.00" font-size="7.8" font-weight="normal" font-style="normal" text-anchor="start" fill="#963a3f" stroke="#963a3f" stroke-width="0.16" transform="matrix(1.0 0 0 1.04 0.000 -15.800)"><tspan>N</tspan><tspan font-size="5.30" dy="1.95">3</tspan></text>
<line x1="493.10" y1="392.10" x2="538.84" y2="392.10" stroke="#1a1a1a" stroke-width="1.0"/>
<path d="M544.00,392.10 L535.40,389.65 L536.95,392.10 L535.40,394.55 Z" fill="#1a1a1a"/>
<circle cx="501.10" cy="381.40" r="4.20" fill="#b4b4e2" stroke="none" stroke-width="1"/>
<line x1="503.50" y1="379.80" x2="513.10" y2="373.10" stroke="#1a1a1a" stroke-width="0.9" stroke-linecap="round"/>
<line x1="513.10" y1="373.10" x2="522.60" y2="379.20" stroke="#1a1a1a" stroke-width="0.9" stroke-linecap="round"/>
<line x1="514.02" y1="371.67" x2="523.52" y2="377.77" stroke="#1a1a1a" stroke-width="0.9" stroke-linecap="round"/>
<line x1="522.60" y1="379.20" x2="532.00" y2="373.50" stroke="#1a1a1a" stroke-width="0.9" stroke-dasharray="1.6,1.3"/>
<circle cx="552.00" cy="394.00" r="4.20" fill="#b4b4e2" stroke="none" stroke-width="1"/>
<line x1="554.50" y1="392.40" x2="563.50" y2="387.70" stroke="#1a1a1a" stroke-width="0.9" stroke-linecap="round"/>
<circle cx="563.50" cy="384.60" r="0.80" fill="#1a1a1a" stroke="none" stroke-width="1"/>
<line x1="563.50" y1="387.70" x2="573.00" y2="391.80" stroke="#1a1a1a" stroke-width="0.9" stroke-linecap="round"/>
<line x1="573.00" y1="391.80" x2="573.00" y2="398.00" stroke="#1a1a1a" stroke-width="0.9" stroke-linecap="round"/>
<line x1="573.00" y1="391.80" x2="582.50" y2="386.40" stroke="#1a1a1a" stroke-width="0.9" stroke-dasharray="1.6,1.3"/>
<text x="574.30" y="405.60" font-size="7.55" font-weight="normal" font-style="normal" text-anchor="middle" fill="#963a3f" stroke="#963a3f" stroke-width="0.16" transform="matrix(1.0 0 0 1.04 0.000 -16.224)"><tspan>N</tspan><tspan font-size="5.13" dy="1.89">3</tspan></text>
<line x1="586.30" y1="392.10" x2="631.44" y2="392.10" stroke="#1a1a1a" stroke-width="1.0"/>
<path d="M636.60,392.10 L628.00,389.65 L629.55,392.10 L628.00,394.55 Z" fill="#1a1a1a"/>
<text x="607.50" y="385.60" font-size="7.55" font-weight="normal" font-style="normal" text-anchor="middle" fill="#1a1a1a" stroke="#1a1a1a" stroke-width="0.16" transform="matrix(1.0 0 0 1.04 0.000 -15.424)"><tspan>[Mn]/</tspan><tspan fill="#6fa0d8" stroke="#6fa0d8">H</tspan><tspan fill="#6fa0d8" stroke="#6fa0d8" font-size="5.13" dy="1.89">2</tspan><tspan fill="#6fa0d8" stroke="#6fa0d8" dy="-1.89">O</tspan></text>
<text x="607.20" y="404.60" font-size="7.55" font-weight="normal" font-style="normal" text-anchor="middle" fill="#1a1a1a" stroke="#1a1a1a" stroke-width="0.16" transform="matrix(1.0 0 0 1.04 0.000 -16.184)"><tspan>HAT</tspan></text>
<circle cx="646.50" cy="396.20" r="4.20" fill="#b4b4e2" stroke="none" stroke-width="1"/>
<line x1="649.00" y1="394.60" x2="658.40" y2="389.00" stroke="#1a1a1a" stroke-width="0.9" stroke-linecap="round"/>
<line x1="658.40" y1="389.00" x2="658.40" y2="383.20" stroke="#1a1a1a" stroke-width="0.9" stroke-linecap="round"/>
<text x="658.60" y="381.20" font-size="7.55" font-weight="normal" font-style="normal" text-anchor="middle" fill="#6fa0d8" stroke="#6fa0d8" stroke-width="0.16" transform="matrix(1.0 0 0 1.04 0.000 -15.248)"><tspan>H</tspan></text>
<line x1="658.40" y1="389.00" x2="668.00" y2="394.70" stroke="#1a1a1a" stroke-width="0.9" stroke-linecap="round"/>
<line x1="668.00" y1="394.70" x2="668.00" y2="401.00" stroke="#1a1a1a" stroke-width="0.9" stroke-linecap="round"/>
<line x1="668.00" y1="394.70" x2="677.40" y2="388.60" stroke="#1a1a1a" stroke-width="0.9" stroke-dasharray="1.6,1.3"/>
<text x="669.20" y="409.00" font-size="7.55" font-weight="normal" font-style="normal" text-anchor="middle" fill="#963a3f" stroke="#963a3f" stroke-width="0.16" transform="matrix(1.0 0 0 1.04 0.000 -16.360)"><tspan>N</tspan><tspan font-size="5.13" dy="1.89">3</tspan></text>
<text x="230.40" y="447.20" font-size="9.6" font-weight="bold" font-style="normal" text-anchor="start" fill="#111" transform="matrix(1.0 0 0 1.09 0.000 -40.248)"><tspan>I</tspan></text>
<line x1="260.80" y1="467.70" x2="269.98" y2="473.00" stroke="#1a1a1a" stroke-width="0.9" stroke-linecap="round"/>
<line x1="269.98" y1="473.00" x2="269.98" y2="483.60" stroke="#1a1a1a" stroke-width="0.9" stroke-linecap="round"/>
<line x1="269.98" y1="483.60" x2="260.80" y2="488.90" stroke="#1a1a1a" stroke-width="0.9" stroke-linecap="round"/>
<line x1="260.80" y1="488.90" x2="251.62" y2="483.60" stroke="#1a1a1a" stroke-width="0.9" stroke-linecap="round"/>
<line x1="251.62" y1="483.60" x2="251.62" y2="473.00" stroke="#1a1a1a" stroke-width="0.9" stroke-linecap="round"/>
<line x1="251.62" y1="473.00" x2="260.80" y2="467.70" stroke="#1a1a1a" stroke-width="0.9" stroke-linecap="round"/>
<line x1="253.37" y1="481.48" x2="253.37" y2="475.12" stroke="#1a1a1a" stroke-width="0.9" stroke-linecap="round"/>
<line x1="261.76" y1="470.28" x2="267.27" y2="473.46" stroke="#1a1a1a" stroke-width="0.9" stroke-linecap="round"/>
<line x1="267.27" y1="483.14" x2="261.76" y2="486.32" stroke="#1a1a1a" stroke-width="0.9" stroke-linecap="round"/>
<line x1="251.62" y1="483.60" x2="244.69" y2="487.60" stroke="#1a1a1a" stroke-width="0.9" stroke-linecap="round"/>
<line x1="240.19" y1="487.60" x2="233.26" y2="483.60" stroke="#1a1a1a" stroke-width="0.9" stroke-linecap="round"/>
<text x="242.44" y="491.42" font-size="7.0" font-weight="normal" font-style="normal" text-anchor="middle" fill="#1a1a1a" transform="matrix(1.0 0 0 1.08 0.000 -39.314)"><tspan>O</tspan></text>
<line x1="269.98" y1="473.00" x2="279.16" y2="467.70" stroke="#1a1a1a" stroke-width="0.9" stroke-linecap="round"/>
<line x1="279.16" y1="467.70" x2="279.16" y2="459.80" stroke="#1a1a1a" stroke-width="0.9" stroke-linecap="round"/>
<line x1="277.56" y1="467.30" x2="277.56" y2="459.80" stroke="#1a1a1a" stroke-width="0.9"/>
<text x="279.16" y="459.62" font-size="7.0" font-weight="normal" font-style="normal" text-anchor="middle" fill="#1a1a1a" transform="matrix(1.0 0 0 1.08 0.000 -36.770)"><tspan>O</tspan></text>
<line x1="279.16" y1="467.70" x2="286.09" y2="471.70" stroke="#1a1a1a" stroke-width="0.9" stroke-linecap="round"/>
<text x="288.34" y="475.52" font-size="7.0" font-weight="normal" font-style="normal" text-anchor="middle" fill="#1a1a1a" transform="matrix(1.0 0 0 1.08 0.000 -38.042)"><tspan>O</tspan></text>
<line x1="290.59" y1="471.70" x2="297.52" y2="467.70" stroke="#1a1a1a" stroke-width="0.9" stroke-linecap="round"/>
<line x1="297.52" y1="467.70" x2="306.70" y2="473.00" stroke="#1a1a1a" stroke-width="0.9" stroke-linecap="round"/>
<line x1="306.70" y1="473.00" x2="315.88" y2="467.70" stroke="#1a1a1a" stroke-width="0.9" stroke-linecap="round"/>
<line x1="315.88" y1="467.70" x2="325.06" y2="473.00" stroke="#1a1a1a" stroke-width="0.9" stroke-linecap="round"/>
<line x1="325.06" y1="473.00" x2="325.06" y2="483.60" stroke="#1a1a1a" stroke-width="0.9" stroke-linecap="round"/>
<line x1="325.06" y1="483.60" x2="315.88" y2="488.90" stroke="#1a1a1a" stroke-width="0.9" stroke-linecap="round"/>
<line x1="322.07" y1="482.67" x2="316.38" y2="485.95" stroke="#1a1a1a" stroke-width="0.9" stroke-linecap="round"/>
<circle cx="325.26" cy="483.80" r="0.95" fill="#1a1a1a" stroke="none" stroke-width="1"/>
<circle cx="315.88" cy="489.10" r="0.95" fill="#1a1a1a" stroke="none" stroke-width="1"/>
<text x="290.40" y="505.30" font-size="7.55" font-weight="bold" font-style="normal" text-anchor="middle" fill="#1a1a1a" stroke="#1a1a1a" stroke-width="0.16" transform="matrix(1.0 0 0 1.04 0.000 -20.212)"><tspan>1</tspan></text>
<text x="342.20" y="475.20" font-size="7.0" font-weight="normal" font-style="normal" text-anchor="middle" fill="#1a1a1a" stroke="#1a1a1a" stroke-width="0.16" transform="matrix(1.0 0 0 1.04 0.000 -19.008)"><tspan>+</tspan></text>
<text x="367.70" y="474.20" font-size="7.55" font-weight="normal" font-style="normal" text-anchor="middle" fill="#963a3f" stroke="#963a3f" stroke-width="0.16" transform="matrix(1.0 0 0 1.04 0.000 -18.968)"><tspan>TMSN</tspan><tspan font-size="5.13" dy="1.89">3</tspan></text>
<text x="368.10" y="505.30" font-size="7.55" font-weight="bold" font-style="normal" text-anchor="middle" fill="#1a1a1a" stroke="#1a1a1a" stroke-width="0.16" transform="matrix(1.0 0 0 1.04 0.000 -20.212)"><tspan>2</tspan></text>
<line x1="391.80" y1="472.50" x2="555.64" y2="472.50" stroke="#1a1a1a" stroke-width="1.0"/>
<path d="M560.80,472.50 L552.20,470.05 L553.75,472.50 L552.20,474.95 Z" fill="#1a1a1a"/>
<text x="472.60" y="451.50" font-size="7.55" font-weight="bold" font-style="normal" text-anchor="middle" fill="#24529c" stroke="#24529c" stroke-width="0.16" transform="matrix(1.0 0 0 1.04 0.000 -18.060)"><tspan>Condition A</tspan></text>
<text x="472.50" y="465.90" font-size="7.55" font-weight="normal" font-style="normal" text-anchor="middle" fill="#1a1a1a" stroke="#1a1a1a" stroke-width="0.16" transform="matrix(1.0 0 0 1.04 0.000 -18.636)"><tspan>Mn(acac)</tspan><tspan font-size="5.13" dy="1.89">2</tspan><tspan dy="-1.89"> (10.0 mol%), </tspan><tspan font-weight="bold">L1</tspan><tspan> (10.0 mol%)</tspan></text>
<text x="466.50" y="486.70" font-size="7.55" font-weight="normal" font-style="normal" text-anchor="middle" fill="#1a1a1a" stroke="#1a1a1a" stroke-width="0.16" transform="matrix(1.0 0 0 1.04 0.000 -19.468)"><tspan>DCE/</tspan><tspan fill="#6fa0d8" stroke="#6fa0d8">H</tspan><tspan fill="#6fa0d8" stroke="#6fa0d8" font-size="5.13" dy="1.89">2</tspan><tspan fill="#6fa0d8" stroke="#6fa0d8" dy="-1.89">O</tspan><tspan> (2.0 mL, 1:1 v/v)</tspan></text>
<text x="466.50" y="495.40" font-size="7.55" font-weight="normal" font-style="normal" text-anchor="middle" fill="#1a1a1a" stroke="#1a1a1a" stroke-width="0.16" transform="matrix(1.0 0 0 1.04 0.000 -19.816)"><tspan>N</tspan><tspan font-size="5.13" dy="1.89">2</tspan><tspan dy="-1.89">, 48 h</tspan></text>
<rect x="441.12" y="499.02" width="4.75" height="1.63" rx="0.81" transform="rotate(-6 443.50 499.92)" fill="#3f6fd2"/>
<rect x="440.20" y="501.05" width="6.60" height="1.63" rx="0.81" transform="rotate(-6 443.50 501.95)" fill="#3f6fd2"/>
<rect x="440.20" y="503.09" width="6.60" height="1.63" rx="0.81" transform="rotate(-6 443.50 503.98)" fill="#3f6fd2"/>
<rect x="440.20" y="505.12" width="6.60" height="1.63" rx="0.81" transform="rotate(-6 443.50 506.01)" fill="#3f6fd2"/>
<rect x="440.20" y="507.15" width="6.60" height="1.63" rx="0.81" transform="rotate(-6 443.50 508.05)" fill="#3f6fd2"/>
<path d="M441.12,508.66 L445.88,508.66 L445.74,512.76 Q443.50,514.80 441.26,512.76 Z" fill="#3f6fd2"/>
<ellipse cx="443.30" cy="509.83" rx="1.25" ry="0.77" fill="#fff" transform="rotate(-25 443.30 509.83)"/>
<text x="456.40" y="509.10" font-size="7.55" font-weight="normal" font-style="normal" text-anchor="start" fill="#1a1a1a" stroke="#1a1a1a" stroke-width="0.16" transform="matrix(1.0 0 0 1.04 0.000 -20.364)"><tspan>λ</tspan><tspan font-size="5.13" dy="1.89">center</tspan><tspan dy="-1.89"> = 440 nm</tspan></text>
<line x1="595.30" y1="466.40" x2="604.48" y2="471.70" stroke="#1a1a1a" stroke-width="0.9" stroke-linecap="round"/>
<line x1="604.48" y1="471.70" x2="604.48" y2="482.30" stroke="#1a1a1a" stroke-width="0.9" stroke-linecap="round"/>
<line x1="604.48" y1="482.30" x2="595.30" y2="487.60" stroke="#1a1a1a" stroke-width="0.9" stroke-linecap="round"/>
<line x1="595.30" y1="487.60" x2="586.12" y2="482.30" stroke="#1a1a1a" stroke-width="0.9" stroke-linecap="round"/>
<line x1="586.12" y1="482.30" x2="586.12" y2="471.70" stroke="#1a1a1a" stroke-width="0.9" stroke-linecap="round"/>
<line x1="586.12" y1="471.70" x2="595.30" y2="466.40" stroke="#1a1a1a" stroke-width="0.9" stroke-linecap="round"/>
<line x1="587.87" y1="480.18" x2="587.87" y2="473.82" stroke="#1a1a1a" stroke-width="0.9" stroke-linecap="round"/>
<line x1="596.26" y1="468.98" x2="601.77" y2="472.16" stroke="#1a1a1a" stroke-width="0.9" stroke-linecap="round"/>
<line x1="601.77" y1="481.84" x2="596.26" y2="485.02" stroke="#1a1a1a" stroke-width="0.9" stroke-linecap="round"/>
<line x1="586.12" y1="482.30" x2="579.19" y2="486.30" stroke="#1a1a1a" stroke-width="0.9" stroke-linecap="round"/>
<line x1="574.69" y1="486.30" x2="567.76" y2="482.30" stroke="#1a1a1a" stroke-width="0.9" stroke-linecap="round"/>
<text x="576.94" y="490.12" font-size="7.0" font-weight="normal" font-style="normal" text-anchor="middle" fill="#1a1a1a" transform="matrix(1.0 0 0 1.08 0.000 -39.210)"><tspan>O</tspan></text>
<line x1="604.48" y1="471.70" x2="613.66" y2="466.40" stroke="#1a1a1a" stroke-width="0.9" stroke-linecap="round"/>
<line x1="613.66" y1="466.40" x2="613.66" y2="458.50" stroke="#1a1a1a" stroke-width="0.9" stroke-linecap="round"/>
<line x1="612.06" y1="466.00" x2="612.06" y2="458.50" stroke="#1a1a1a" stroke-width="0.9"/>
<text x="613.66" y="458.32" font-size="7.0" font-weight="normal" font-style="normal" text-anchor="middle" fill="#1a1a1a" transform="matrix(1.0 0 0 1.08 0.000 -36.666)"><tspan>O</tspan></text>
<line x1="613.66" y1="466.40" x2="620.59" y2="470.40" stroke="#1a1a1a" stroke-width="0.9" stroke-linecap="round"/>
<text x="622.84" y="474.22" font-size="7.0" font-weight="normal" font-style="normal" text-anchor="middle" fill="#1a1a1a" transform="matrix(1.0 0 0 1.08 0.000 -37.938)"><tspan>O</tspan></text>
<line x1="625.09" y1="470.40" x2="632.02" y2="466.40" stroke="#1a1a1a" stroke-width="0.9" stroke-linecap="round"/>
<line x1="632.02" y1="466.40" x2="641.20" y2="471.70" stroke="#1a1a1a" stroke-width="0.9" stroke-linecap="round"/>
<line x1="641.20" y1="471.70" x2="650.38" y2="466.40" stroke="#1a1a1a" stroke-width="0.9" stroke-linecap="round"/>
<line x1="650.38" y1="466.40" x2="659.56" y2="471.70" stroke="#1a1a1a" stroke-width="0.9" stroke-linecap="round"/>
<line x1="659.56" y1="471.70" x2="659.56" y2="482.30" stroke="#1a1a1a" stroke-width="0.9" stroke-linecap="round"/>
<line x1="659.56" y1="482.30" x2="650.38" y2="487.60" stroke="#1a1a1a" stroke-width="0.9" stroke-linecap="round"/>
<line x1="650.38" y1="487.60" x2="642.93" y2="483.30" stroke="#1a1a1a" stroke-width="0.9" stroke-linecap="round"/>
<line x1="659.56" y1="482.30" x2="666.83" y2="486.50" stroke="#1a1a1a" stroke-width="0.9" stroke-linecap="round"/>
<text x="669.34" y="490.52" font-size="7.0" font-weight="normal" font-style="normal" text-anchor="middle" fill="#5b8fd0" transform="matrix(1.0 0 0 1.08 0.000 -39.242)"><tspan>H</tspan></text>
<circle cx="659.56" cy="482.30" r="0.80" fill="#3a6fd0" stroke="none" stroke-width="1"/>
<circle cx="650.38" cy="487.60" r="0.80" fill="#b0303a" stroke="none" stroke-width="1"/>
<text x="642.40" y="485.02" font-size="7.0" font-weight="normal" font-style="normal" text-anchor="end" fill="#963a3f" transform="matrix(1.0 0 0 1.08 0.000 -38.802)"><tspan>N</tspan><tspan font-size="4.90" dy="1.75">3</tspan></text>
<text x="619.50" y="505.20" font-size="7.55" font-weight="normal" font-style="normal" text-anchor="middle" fill="#1a1a1a" stroke="#1a1a1a" stroke-width="0.16" transform="matrix(1.0 0 0 1.04 0.000 -20.208)"><tspan font-weight="bold">3</tspan><tspan>, 78%</tspan></text>
<text x="620.00" y="512.90" font-size="7.55" font-weight="normal" font-style="normal" text-anchor="middle" fill="#1a1a1a" stroke="#1a1a1a" stroke-width="0.16" transform="matrix(1.0 0 0 1.04 0.000 -20.516)"><tspan>(w/o </tspan><tspan font-weight="bold">L1</tspan><tspan>: 23%)</tspan></text>
<text x="6.60" y="533.90" font-size="9.6" font-weight="bold" font-style="normal" text-anchor="start" fill="#111" transform="matrix(1.0 0 0 1.09 0.000 -48.051)"><tspan>J</tspan></text>
<text x="20.00" y="546.40" font-size="7.4" font-weight="bold" font-style="normal" text-anchor="middle" fill="#1a1a1a" transform="matrix(1.0 0 0 1.06 0.000 -32.784)"><tspan>1</tspan></text>
<text x="32.30" y="546.40" font-size="7.4" font-weight="normal" font-style="normal" text-anchor="middle" fill="#1a1a1a" transform="matrix(1.0 0 0 1.06 0.000 -32.784)"><tspan>+</tspan></text>
<text x="43.50" y="546.40" font-size="7.4" font-weight="bold" font-style="normal" text-anchor="middle" fill="#1a1a1a" transform="matrix(1.0 0 0 1.06 0.000 -32.784)"><tspan>2</tspan></text>
<line x1="56.50" y1="544.20" x2="190.04" y2="544.20" stroke="#1a1a1a" stroke-width="1.0"/>
<path d="M195.20,544.20 L186.60,541.75 L188.15,544.20 L186.60,546.65 Z" fill="#1a1a1a"/>
<text x="203.90" y="546.40" font-size="7.4" font-weight="bold" font-style="normal" text-anchor="middle" fill="#1a1a1a" transform="matrix(1.0 0 0 1.06 0.000 -32.784)"><tspan>3</tspan></text>
<text x="122.50" y="537.60" font-size="7.55" font-weight="normal" font-style="normal" text-anchor="middle" fill="#1a1a1a" stroke="#1a1a1a" stroke-width="0.16" transform="matrix(1.0 0 0 1.04 0.000 -21.504)"><tspan font-weight="bold">[Mn]</tspan><tspan> (10.0 mol%), </tspan><tspan font-weight="bold">L1</tspan><tspan> (10.0 mol%)</tspan></text>
<text x="123.90" y="555.90" font-size="7.55" font-weight="normal" font-style="normal" text-anchor="middle" fill="#1a1a1a" stroke="#1a1a1a" stroke-width="0.16" transform="matrix(1.0 0 0 1.04 0.000 -22.236)"><tspan>DCE/</tspan><tspan fill="#6fa0d8" stroke="#6fa0d8">H</tspan><tspan fill="#6fa0d8" stroke="#6fa0d8" font-size="5.13" dy="1.89">2</tspan><tspan fill="#6fa0d8" stroke="#6fa0d8" dy="-1.89">O</tspan><tspan> (2.0 mL, 1:1 v/v)</tspan></text>
<text x="123.70" y="565.30" font-size="7.55" font-weight="normal" font-style="normal" text-anchor="middle" fill="#1a1a1a" stroke="#1a1a1a" stroke-width="0.16" transform="matrix(1.0 0 0 1.04 0.000 -22.612)"><tspan font-weight="bold">LEDs</tspan><tspan>, N</tspan><tspan font-size="5.13" dy="1.89">2</tspan><tspan dy="-1.89">, 48 h</tspan></text>
<path d="M58.40,573.40 L205.40,573.40 L205.40,670.80 L58.40,670.80 Z" stroke="#d9d9d9" stroke-width="0.7" fill="none" stroke-linejoin="round" stroke-linecap="round"/>
<line x1="43.40" y1="587.20" x2="58.40" y2="573.40" stroke="#d9d9d9" stroke-width="0.7"/>
<line x1="43.40" y1="684.60" x2="58.40" y2="670.80" stroke="#d9d9d9" stroke-width="0.7"/>
<line x1="190.40" y1="684.60" x2="205.40" y2="670.80" stroke="#d9d9d9" stroke-width="0.7"/>
<rect x="53.00" y="603.95" width="19.60" height="76.05" fill="#b8c9f6"/>
<path d="M53.00,603.95 L58.00,599.35 L77.60,599.35 L72.60,603.95 Z" fill="#a3b6ea"/>
<path d="M72.60,603.95 L77.60,599.35 L77.60,675.40 L72.60,680.00 Z" fill="#8d9fd2"/>
<rect x="72.60" y="628.33" width="19.60" height="51.67" fill="#f6a3ab"/>
<path d="M72.60,628.33 L77.60,623.73 L97.20,623.73 L92.20,628.33 Z" fill="#e98c96"/>
<path d="M92.20,628.33 L97.20,623.73 L97.20,675.40 L92.20,680.00 Z" fill="#cc7c86"/>
<rect x="102.00" y="665.38" width="19.60" height="14.62" fill="#b8c9f6"/>
<path d="M102.00,665.38 L107.00,660.77 L126.60,660.77 L121.60,665.38 Z" fill="#a3b6ea"/>
<path d="M121.60,665.38 L126.60,660.77 L126.60,675.40 L121.60,680.00 Z" fill="#8d9fd2"/>
<rect x="121.60" y="662.45" width="19.80" height="17.55" fill="#f6a3ab"/>
<path d="M121.60,662.45 L126.60,657.85 L146.40,657.85 L141.40,662.45 Z" fill="#e98c96"/>
<path d="M141.40,662.45 L146.40,657.85 L146.40,675.40 L141.40,680.00 Z" fill="#cc7c86"/>
<path d="M151.40,680.00 L156.40,675.40 L175.70,675.40 L170.70,680.00 Z" fill="#a3b6ea"/>
<path d="M170.70,680.00 L175.70,675.40 L175.70,675.40 L170.70,680.00 Z" fill="#8d9fd2"/>
<rect x="170.70" y="675.12" width="19.80" height="4.88" fill="#f6a3ab"/>
<path d="M170.70,675.12 L175.70,670.52 L195.50,670.52 L190.50,675.12 Z" fill="#e98c96"/>
<path d="M190.50,675.12 L195.50,670.52 L195.50,675.40 L190.50,680.00 Z" fill="#cc7c86"/>
<text x="65.40" y="600.40" font-size="7.0" font-weight="bold" font-style="normal" text-anchor="middle" fill="#222" transform="matrix(1.0 0 0 1.06 0.000 -36.024)"><tspan>78</tspan></text>
<text x="84.70" y="624.70" font-size="7.0" font-weight="bold" font-style="normal" text-anchor="middle" fill="#222" transform="matrix(1.0 0 0 1.06 0.000 -37.482)"><tspan>53</tspan></text>
<text x="114.30" y="662.00" font-size="7.0" font-weight="bold" font-style="normal" text-anchor="middle" fill="#222" transform="matrix(1.0 0 0 1.06 0.000 -39.720)"><tspan>15</tspan></text>
<text x="133.90" y="658.60" font-size="7.0" font-weight="bold" font-style="normal" text-anchor="middle" fill="#222" transform="matrix(1.0 0 0 1.06 0.000 -39.516)"><tspan>18</tspan></text>
<text x="163.30" y="676.20" font-size="7.0" font-weight="bold" font-style="normal" text-anchor="middle" fill="#222" transform="matrix(1.0 0 0 1.06 0.000 -40.572)"><tspan>0</tspan></text>
<text x="183.10" y="671.70" font-size="7.0" font-weight="bold" font-style="normal" text-anchor="middle" fill="#222" transform="matrix(1.0 0 0 1.06 0.000 -40.302)"><tspan>5</tspan></text>
<line x1="43.40" y1="587.20" x2="43.40" y2="685.00" stroke="#444" stroke-width="0.9"/>
<line x1="43.00" y1="684.60" x2="190.40" y2="684.60" stroke="#444" stroke-width="0.9"/>
<line x1="40.80" y1="684.60" x2="43.40" y2="684.60" stroke="#444" stroke-width="0.8"/>
<text x="40.20" y="687.35" font-size="7.8" font-weight="bold" font-style="normal" text-anchor="end" fill="#1a1a1a" transform="matrix(1.0 0 0 1.06 0.000 -41.241)"><tspan>0</tspan></text>
<line x1="40.80" y1="665.12" x2="43.40" y2="665.12" stroke="#444" stroke-width="0.8"/>
<text x="40.20" y="667.87" font-size="7.8" font-weight="bold" font-style="normal" text-anchor="end" fill="#1a1a1a" transform="matrix(1.0 0 0 1.06 0.000 -40.072)"><tspan>20</tspan></text>
<line x1="40.80" y1="645.64" x2="43.40" y2="645.64" stroke="#444" stroke-width="0.8"/>
<text x="40.20" y="648.39" font-size="7.8" font-weight="bold" font-style="normal" text-anchor="end" fill="#1a1a1a" transform="matrix(1.0 0 0 1.06 0.000 -38.903)"><tspan>40</tspan></text>
<line x1="40.80" y1="626.16" x2="43.40" y2="626.16" stroke="#444" stroke-width="0.8"/>
<text x="40.20" y="628.91" font-size="7.8" font-weight="bold" font-style="normal" text-anchor="end" fill="#1a1a1a" transform="matrix(1.0 0 0 1.06 0.000 -37.735)"><tspan>60</tspan></text>
<line x1="40.80" y1="606.68" x2="43.40" y2="606.68" stroke="#444" stroke-width="0.8"/>
<text x="40.20" y="609.43" font-size="7.8" font-weight="bold" font-style="normal" text-anchor="end" fill="#1a1a1a" transform="matrix(1.0 0 0 1.06 0.000 -36.566)"><tspan>80</tspan></text>
<line x1="40.80" y1="587.20" x2="43.40" y2="587.20" stroke="#444" stroke-width="0.8"/>
<text x="40.20" y="589.95" font-size="7.8" font-weight="bold" font-style="normal" text-anchor="end" fill="#1a1a1a" transform="matrix(1.0 0 0 1.06 0.000 -35.397)"><tspan>100</tspan></text>
<line x1="41.90" y1="674.86" x2="43.40" y2="674.86" stroke="#444" stroke-width="0.7"/>
<line x1="41.90" y1="655.38" x2="43.40" y2="655.38" stroke="#444" stroke-width="0.7"/>
<line x1="41.90" y1="635.90" x2="43.40" y2="635.90" stroke="#444" stroke-width="0.7"/>
<line x1="41.90" y1="616.42" x2="43.40" y2="616.42" stroke="#444" stroke-width="0.7"/>
<line x1="41.90" y1="596.94" x2="43.40" y2="596.94" stroke="#444" stroke-width="0.7"/>
<line x1="43.40" y1="684.60" x2="43.40" y2="686.60" stroke="#444" stroke-width="0.7"/>
<line x1="67.90" y1="684.60" x2="67.90" y2="686.60" stroke="#444" stroke-width="0.7"/>
<line x1="92.40" y1="684.60" x2="92.40" y2="686.60" stroke="#444" stroke-width="0.7"/>
<line x1="116.90" y1="684.60" x2="116.90" y2="686.60" stroke="#444" stroke-width="0.7"/>
<line x1="141.40" y1="684.60" x2="141.40" y2="686.60" stroke="#444" stroke-width="0.7"/>
<line x1="165.90" y1="684.60" x2="165.90" y2="686.60" stroke="#444" stroke-width="0.7"/>
<line x1="190.40" y1="684.60" x2="190.40" y2="686.60" stroke="#444" stroke-width="0.7"/>
<text x="69.40" y="698.30" font-size="7.8" font-weight="bold" font-style="normal" text-anchor="middle" fill="#1a1a1a" transform="matrix(1.0 0 0 1.06 0.000 -41.898)"><tspan>440</tspan></text>
<text x="118.70" y="698.30" font-size="7.8" font-weight="bold" font-style="normal" text-anchor="middle" fill="#1a1a1a" transform="matrix(1.0 0 0 1.06 0.000 -41.898)"><tspan>630</tspan></text>
<text x="167.20" y="698.30" font-size="7.8" font-weight="bold" font-style="normal" text-anchor="middle" fill="#1a1a1a" transform="matrix(1.0 0 0 1.06 0.000 -41.898)"><tspan>850</tspan></text>
<text x="118.50" y="709.30" font-size="7.8" font-weight="bold" font-style="normal" text-anchor="middle" fill="#1a1a1a" transform="matrix(1.0 0 0 1.06 0.000 -42.558)"><tspan>Wavelength (nm)</tspan></text>
<text x="22.90" y="640.00" font-size="7.8" font-weight="bold" font-style="normal" text-anchor="middle" fill="#1a1a1a" transform="rotate(-90 22.9 640.0)"><tspan>Yield (%)</tspan></text>
<rect x="121.30" y="581.10" width="14.30" height="7.00" fill="#b8c9f6" stroke="none" stroke-width="0.9"/>
<rect x="121.30" y="593.00" width="14.30" height="7.00" fill="#f6a3ab" stroke="none" stroke-width="0.9"/>
<text x="138.00" y="587.60" font-size="7.8" font-weight="bold" font-style="normal" text-anchor="start" fill="#1a1a1a" transform="matrix(1.0 0 0 1.06 0.000 -35.256)"><tspan>Mn(acac)</tspan><tspan font-size="6.63" dy="2.34">2</tspan></text>
<text x="138.00" y="599.30" font-size="7.8" font-weight="bold" font-style="normal" text-anchor="start" fill="#1a1a1a" transform="matrix(1.0 0 0 1.06 0.000 -35.958)"><tspan>Mn(acac)</tspan><tspan font-size="6.63" dy="2.34">3</tspan></text>
<text x="227.20" y="534.80" font-size="9.6" font-weight="bold" font-style="normal" text-anchor="start" fill="#111" transform="matrix(1.0 0 0 1.09 0.000 -48.132)"><tspan>K</tspan></text>
<path d="M272.80,645.42 L273.59,645.70 L274.38,645.97 L275.17,646.24 L275.96,646.51 L276.74,646.77 L277.53,647.03 L278.32,647.28 L279.11,647.52 L279.90,647.76 L280.69,647.99 L281.48,648.21 L282.27,648.42 L283.06,648.63 L283.85,648.82 L284.63,649.01 L285.42,649.19 L286.21,649.36 L287.00,649.51 L287.79,649.66 L288.58,649.80 L289.37,649.92 L290.16,650.05 L290.95,650.17 L291.73,650.29 L292.52,650.41 L293.31,650.52 L294.10,650.63 L294.89,650.74 L295.68,650.84 L296.47,650.94 L297.26,651.03 L298.05,651.12 L298.84,651.21 L299.62,651.29 L300.41,651.36 L301.20,651.44 L301.99,651.50 L302.78,651.57 L303.57,651.62 L304.36,651.67 L305.15,651.72 L305.94,651.77 L306.72,651.81 L307.51,651.85 L308.30,651.90 L309.09,651.94 L309.88,651.98 L310.67,652.02 L311.46,652.05 L312.25,652.09 L313.04,652.13 L313.83,652.16 L314.61,652.19 L315.40,652.23 L316.19,652.26 L316.98,652.29 L317.77,652.31 L318.56,652.34 L319.35,652.37 L320.14,652.39 L320.93,652.41 L321.71,652.44 L322.50,652.46 L323.29,652.47 L324.08,652.49 L324.87,652.51 L325.66,652.52 L326.45,652.53 L327.24,652.55 L328.03,652.56 L328.82,652.56 L329.60,652.57 L330.39,652.58 L331.18,652.59 L331.97,652.59 L332.76,652.60 L333.55,652.60 L334.34,652.61 L335.13,652.61 L335.92,652.62 L336.70,652.62 L337.49,652.63 L338.28,652.63 L339.07,652.63 L339.86,652.64 L340.65,652.64 L341.44,652.65 L342.23,652.65 L343.02,652.65 L343.81,652.66 L344.59,652.66 L345.38,652.67 L346.17,652.67 L346.96,652.68 L347.75,652.68 L348.54,652.69 L349.33,652.70 L350.12,652.71 L350.91,652.72 L351.69,652.72 L352.48,652.74 L353.27,652.75 L354.06,652.76 L354.85,652.78 L355.64,652.80 L356.43,652.82 L357.22,652.84 L358.01,652.86 L358.79,652.89 L359.58,652.91 L360.37,652.94 L361.16,652.97 L361.95,653.00 L362.74,653.03 L363.53,653.06 L364.32,653.09 L365.11,653.12 L365.90,653.15 L366.68,653.19 L367.47,653.22 L368.26,653.26 L369.05,653.29 L369.84,653.33 L370.63,653.36 L371.42,653.40 L372.21,653.44 L373.00,653.47 L373.78,653.51 L374.57,653.55 L375.36,653.58 L376.15,653.62 L376.94,653.66 L377.73,653.70 L378.52,653.74 L379.31,653.79 L380.10,653.83 L380.89,653.87 L381.67,653.92 L382.46,653.97 L383.25,654.02 L384.04,654.07 L384.83,654.12 L385.62,654.17 L386.41,654.22 L387.20,654.27 L387.99,654.33 L388.77,654.39 L389.56,654.44 L390.35,654.50 L391.14,654.56 L391.93,654.62 L392.72,654.68 L393.51,654.74 L394.30,654.80 L395.09,654.87 L395.88,654.94 L396.66,655.01 L397.45,655.08 L398.24,655.15 L399.03,655.23 L399.82,655.31 L400.61,655.39 L401.40,655.47 L402.19,655.56 L402.98,655.64 L403.76,655.73 L404.55,655.82 L405.34,655.91 L406.13,656.00 L406.92,656.09 L407.71,656.18 L408.50,656.27 L409.29,656.36 L410.08,656.46 L410.87,656.55 L411.65,656.64 L412.44,656.73 L413.23,656.82 L414.02,656.91 L414.81,657.00 L415.60,657.09 L416.39,657.18 L417.18,657.27 L417.97,657.36 L418.75,657.45 L419.54,657.54 L420.33,657.63 L421.12,657.72 L421.91,657.82 L422.70,657.91 L423.49,658.00 L424.28,658.10 L425.07,658.19 L425.86,658.28 L426.64,658.38 L427.43,658.48 L428.22,658.57 L429.01,658.67 L429.80,658.76" stroke="#f7bcc4" stroke-width="1.3" fill="none" stroke-linejoin="round" stroke-linecap="round"/>
<path d="M272.80,642.23 L273.59,642.52 L274.38,642.80 L275.17,643.08 L275.96,643.36 L276.74,643.63 L277.53,643.89 L278.32,644.15 L279.11,644.40 L279.90,644.65 L280.69,644.89 L281.48,645.13 L282.27,645.35 L283.06,645.57 L283.85,645.78 L284.63,645.98 L285.42,646.18 L286.21,646.36 L287.00,646.54 L287.79,646.70 L288.58,646.86 L289.37,647.01 L290.16,647.16 L290.95,647.30 L291.73,647.45 L292.52,647.59 L293.31,647.72 L294.10,647.86 L294.89,647.99 L295.68,648.11 L296.47,648.23 L297.26,648.35 L298.05,648.46 L298.84,648.57 L299.62,648.67 L300.41,648.76 L301.20,648.85 L301.99,648.94 L302.78,649.01 L303.57,649.08 L304.36,649.15 L305.15,649.21 L305.94,649.26 L306.72,649.31 L307.51,649.36 L308.30,649.41 L309.09,649.46 L309.88,649.51 L310.67,649.55 L311.46,649.59 L312.25,649.64 L313.04,649.68 L313.83,649.72 L314.61,649.75 L315.40,649.79 L316.19,649.83 L316.98,649.86 L317.77,649.89 L318.56,649.93 L319.35,649.96 L320.14,649.98 L320.93,650.01 L321.71,650.04 L322.50,650.06 L323.29,650.09 L324.08,650.11 L324.87,650.13 L325.66,650.15 L326.45,650.17 L327.24,650.19 L328.03,650.21 L328.82,650.22 L329.60,650.24 L330.39,650.25 L331.18,650.27 L331.97,650.28 L332.76,650.29 L333.55,650.30 L334.34,650.31 L335.13,650.32 L335.92,650.33 L336.70,650.34 L337.49,650.35 L338.28,650.35 L339.07,650.36 L339.86,650.37 L340.65,650.38 L341.44,650.39 L342.23,650.39 L343.02,650.40 L343.81,650.41 L344.59,650.42 L345.38,650.43 L346.17,650.44 L346.96,650.46 L347.75,650.47 L348.54,650.48 L349.33,650.50 L350.12,650.51 L350.91,650.53 L351.69,650.55 L352.48,650.57 L353.27,650.59 L354.06,650.62 L354.85,650.65 L355.64,650.68 L356.43,650.71 L357.22,650.75 L358.01,650.79 L358.79,650.83 L359.58,650.87 L360.37,650.91 L361.16,650.96 L361.95,651.00 L362.74,651.05 L363.53,651.10 L364.32,651.15 L365.11,651.20 L365.90,651.26 L366.68,651.31 L367.47,651.36 L368.26,651.42 L369.05,651.47 L369.84,651.53 L370.63,651.59 L371.42,651.64 L372.21,651.70 L373.00,651.75 L373.78,651.81 L374.57,651.86 L375.36,651.92 L376.15,651.97 L376.94,652.03 L377.73,652.09 L378.52,652.14 L379.31,652.20 L380.10,652.26 L380.89,652.33 L381.67,652.39 L382.46,652.45 L383.25,652.52 L384.04,652.58 L384.83,652.65 L385.62,652.72 L386.41,652.79 L387.20,652.86 L387.99,652.93 L388.77,653.00 L389.56,653.08 L390.35,653.15 L391.14,653.23 L391.93,653.30 L392.72,653.38 L393.51,653.46 L394.30,653.54 L395.09,653.62 L395.88,653.71 L396.66,653.79 L397.45,653.88 L398.24,653.97 L399.03,654.07 L399.82,654.16 L400.61,654.26 L401.40,654.36 L402.19,654.46 L402.98,654.56 L403.76,654.66 L404.55,654.77 L405.34,654.87 L406.13,654.98 L406.92,655.08 L407.71,655.19 L408.50,655.30 L409.29,655.41 L410.08,655.52 L410.87,655.63 L411.65,655.74 L412.44,655.85 L413.23,655.96 L414.02,656.07 L414.81,656.18 L415.60,656.29 L416.39,656.40 L417.18,656.51 L417.97,656.62 L418.75,656.74 L419.54,656.85 L420.33,656.97 L421.12,657.09 L421.91,657.21 L422.70,657.32 L423.49,657.44 L424.28,657.56 L425.07,657.69 L425.86,657.81 L426.64,657.93 L427.43,658.05 L428.22,658.18 L429.01,658.30 L429.80,658.43" stroke="#8cbde2" stroke-width="1.3" fill="none" stroke-linejoin="round" stroke-linecap="round"/>
<path d="M272.80,638.03 L273.59,638.32 L274.38,638.60 L275.17,638.87 L275.96,639.15 L276.74,639.41 L277.53,639.67 L278.32,639.93 L279.11,640.18 L279.90,640.43 L280.69,640.67 L281.48,640.90 L282.27,641.13 L283.06,641.35 L283.85,641.56 L284.63,641.76 L285.42,641.96 L286.21,642.15 L287.00,642.33 L287.79,642.50 L288.58,642.66 L289.37,642.82 L290.16,642.98 L290.95,643.13 L291.73,643.28 L292.52,643.43 L293.31,643.58 L294.10,643.72 L294.89,643.86 L295.68,643.99 L296.47,644.12 L297.26,644.25 L298.05,644.37 L298.84,644.48 L299.62,644.59 L300.41,644.70 L301.20,644.80 L301.99,644.89 L302.78,644.97 L303.57,645.05 L304.36,645.12 L305.15,645.18 L305.94,645.24 L306.72,645.29 L307.51,645.35 L308.30,645.40 L309.09,645.45 L309.88,645.50 L310.67,645.54 L311.46,645.59 L312.25,645.63 L313.04,645.68 L313.83,645.72 L314.61,645.76 L315.40,645.80 L316.19,645.83 L316.98,645.87 L317.77,645.90 L318.56,645.94 L319.35,645.97 L320.14,646.00 L320.93,646.03 L321.71,646.06 L322.50,646.09 L323.29,646.12 L324.08,646.14 L324.87,646.17 L325.66,646.19 L326.45,646.22 L327.24,646.24 L328.03,646.27 L328.82,646.29 L329.60,646.31 L330.39,646.33 L331.18,646.35 L331.97,646.37 L332.76,646.38 L333.55,646.40 L334.34,646.42 L335.13,646.43 L335.92,646.45 L336.70,646.46 L337.49,646.48 L338.28,646.49 L339.07,646.51 L339.86,646.52 L340.65,646.53 L341.44,646.55 L342.23,646.56 L343.02,646.58 L343.81,646.59 L344.59,646.61 L345.38,646.62 L346.17,646.64 L346.96,646.66 L347.75,646.67 L348.54,646.69 L349.33,646.71 L350.12,646.73 L350.91,646.75 L351.69,646.77 L352.48,646.79 L353.27,646.82 L354.06,646.84 L354.85,646.87 L355.64,646.89 L356.43,646.92 L357.22,646.94 L358.01,646.97 L358.79,647.00 L359.58,647.03 L360.37,647.06 L361.16,647.09 L361.95,647.12 L362.74,647.15 L363.53,647.18 L364.32,647.21 L365.11,647.24 L365.90,647.27 L366.68,647.31 L367.47,647.34 L368.26,647.38 L369.05,647.41 L369.84,647.45 L370.63,647.48 L371.42,647.52 L372.21,647.56 L373.00,647.59 L373.78,647.63 L374.57,647.67 L375.36,647.71 L376.15,647.75 L376.94,647.79 L377.73,647.83 L378.52,647.87 L379.31,647.91 L380.10,647.95 L380.89,648.00 L381.67,648.04 L382.46,648.09 L383.25,648.13 L384.04,648.18 L384.83,648.23 L385.62,648.28 L386.41,648.33 L387.20,648.38 L387.99,648.44 L388.77,648.49 L389.56,648.55 L390.35,648.61 L391.14,648.67 L391.93,648.73 L392.72,648.79 L393.51,648.86 L394.30,648.93 L395.09,649.00 L395.88,649.07 L396.66,649.16 L397.45,649.24 L398.24,649.33 L399.03,649.43 L399.82,649.53 L400.61,649.63 L401.40,649.73 L402.19,649.84 L402.98,649.96 L403.76,650.07 L404.55,650.19 L405.34,650.31 L406.13,650.43 L406.92,650.55 L407.71,650.68 L408.50,650.80 L409.29,650.93 L410.08,651.06 L410.87,651.19 L411.65,651.31 L412.44,651.44 L413.23,651.57 L414.02,651.70 L414.81,651.83 L415.60,651.96 L416.39,652.09 L417.18,652.23 L417.97,652.37 L418.75,652.51 L419.54,652.65 L420.33,652.79 L421.12,652.94 L421.91,653.08 L422.70,653.23 L423.49,653.38 L424.28,653.54 L425.07,653.69 L425.86,653.85 L426.64,654.01 L427.43,654.17 L428.22,654.33 L429.01,654.49 L429.80,654.65" stroke="#e05563" stroke-width="1.3" fill="none" stroke-linejoin="round" stroke-linecap="round"/>
<path d="M272.80,634.09 L273.59,634.38 L274.38,634.68 L275.17,634.97 L275.96,635.25 L276.74,635.53 L277.53,635.80 L278.32,636.07 L279.11,636.33 L279.90,636.59 L280.69,636.83 L281.48,637.08 L282.27,637.31 L283.06,637.54 L283.85,637.76 L284.63,637.97 L285.42,638.17 L286.21,638.36 L287.00,638.55 L287.79,638.72 L288.58,638.89 L289.37,639.05 L290.16,639.20 L290.95,639.35 L291.73,639.50 L292.52,639.65 L293.31,639.79 L294.10,639.93 L294.89,640.06 L295.68,640.19 L296.47,640.32 L297.26,640.44 L298.05,640.56 L298.84,640.67 L299.62,640.78 L300.41,640.89 L301.20,640.98 L301.99,641.08 L302.78,641.17 L303.57,641.25 L304.36,641.33 L305.15,641.40 L305.94,641.47 L306.72,641.54 L307.51,641.61 L308.30,641.68 L309.09,641.74 L309.88,641.81 L310.67,641.87 L311.46,641.93 L312.25,641.99 L313.04,642.05 L313.83,642.10 L314.61,642.16 L315.40,642.21 L316.19,642.26 L316.98,642.31 L317.77,642.36 L318.56,642.40 L319.35,642.45 L320.14,642.49 L320.93,642.53 L321.71,642.57 L322.50,642.61 L323.29,642.64 L324.08,642.68 L324.87,642.71 L325.66,642.74 L326.45,642.77 L327.24,642.80 L328.03,642.82 L328.82,642.85 L329.60,642.87 L330.39,642.89 L331.18,642.92 L331.97,642.94 L332.76,642.95 L333.55,642.97 L334.34,642.99 L335.13,643.01 L335.92,643.02 L336.70,643.04 L337.49,643.06 L338.28,643.07 L339.07,643.09 L339.86,643.10 L340.65,643.11 L341.44,643.13 L342.23,643.14 L343.02,643.16 L343.81,643.17 L344.59,643.18 L345.38,643.20 L346.17,643.21 L346.96,643.23 L347.75,643.24 L348.54,643.26 L349.33,643.28 L350.12,643.29 L350.91,643.31 L351.69,643.33 L352.48,643.35 L353.27,643.36 L354.06,643.38 L354.85,643.40 L355.64,643.41 L356.43,643.43 L357.22,643.45 L358.01,643.46 L358.79,643.48 L359.58,643.50 L360.37,643.51 L361.16,643.53 L361.95,643.55 L362.74,643.57 L363.53,643.58 L364.32,643.60 L365.11,643.62 L365.90,643.64 L366.68,643.66 L367.47,643.68 L368.26,643.70 L369.05,643.72 L369.84,643.74 L370.63,643.77 L371.42,643.79 L372.21,643.82 L373.00,643.84 L373.78,643.87 L374.57,643.90 L375.36,643.93 L376.15,643.96 L376.94,643.99 L377.73,644.03 L378.52,644.06 L379.31,644.10 L380.10,644.15 L380.89,644.19 L381.67,644.23 L382.46,644.28 L383.25,644.33 L384.04,644.38 L384.83,644.43 L385.62,644.49 L386.41,644.54 L387.20,644.60 L387.99,644.65 L388.77,644.71 L389.56,644.77 L390.35,644.83 L391.14,644.89 L391.93,644.96 L392.72,645.02 L393.51,645.09 L394.30,645.15 L395.09,645.22 L395.88,645.29 L396.66,645.36 L397.45,645.44 L398.24,645.52 L399.03,645.60 L399.82,645.69 L400.61,645.78 L401.40,645.87 L402.19,645.97 L402.98,646.06 L403.76,646.16 L404.55,646.26 L405.34,646.36 L406.13,646.46 L406.92,646.56 L407.71,646.67 L408.50,646.77 L409.29,646.88 L410.08,646.98 L410.87,647.09 L411.65,647.19 L412.44,647.30 L413.23,647.40 L414.02,647.51 L414.81,647.61 L415.60,647.72 L416.39,647.82 L417.18,647.93 L417.97,648.04 L418.75,648.15 L419.54,648.26 L420.33,648.37 L421.12,648.48 L421.91,648.60 L422.70,648.71 L423.49,648.83 L424.28,648.94 L425.07,649.06 L425.86,649.18 L426.64,649.30 L427.43,649.42 L428.22,649.54 L429.01,649.66 L429.80,649.78" stroke="#1f4d8a" stroke-width="1.3" fill="none" stroke-linejoin="round" stroke-linecap="round"/>
<path d="M272.80,618.06 L273.59,618.35 L274.38,618.64 L275.17,618.94 L275.96,619.22 L276.74,619.51 L277.53,619.79 L278.32,620.07 L279.11,620.34 L279.90,620.61 L280.69,620.88 L281.48,621.15 L282.27,621.41 L283.06,621.67 L283.85,621.92 L284.63,622.17 L285.42,622.42 L286.21,622.66 L287.00,622.90 L287.79,623.14 L288.58,623.37 L289.37,623.59 L290.16,623.82 L290.95,624.04 L291.73,624.26 L292.52,624.47 L293.31,624.68 L294.10,624.89 L294.89,625.10 L295.68,625.30 L296.47,625.50 L297.26,625.70 L298.05,625.90 L298.84,626.09 L299.62,626.28 L300.41,626.47 L301.20,626.66 L301.99,626.85 L302.78,627.03 L303.57,627.22 L304.36,627.40 L305.15,627.58 L305.94,627.76 L306.72,627.94 L307.51,628.11 L308.30,628.29 L309.09,628.47 L309.88,628.65 L310.67,628.83 L311.46,629.00 L312.25,629.18 L313.04,629.35 L313.83,629.53 L314.61,629.70 L315.40,629.87 L316.19,630.03 L316.98,630.20 L317.77,630.36 L318.56,630.52 L319.35,630.68 L320.14,630.83 L320.93,630.99 L321.71,631.14 L322.50,631.28 L323.29,631.42 L324.08,631.56 L324.87,631.70 L325.66,631.83 L326.45,631.96 L327.24,632.08 L328.03,632.20 L328.82,632.31 L329.60,632.42 L330.39,632.53 L331.18,632.63 L331.97,632.73 L332.76,632.83 L333.55,632.93 L334.34,633.02 L335.13,633.11 L335.92,633.20 L336.70,633.29 L337.49,633.37 L338.28,633.46 L339.07,633.54 L339.86,633.63 L340.65,633.71 L341.44,633.79 L342.23,633.88 L343.02,633.96 L343.81,634.05 L344.59,634.13 L345.38,634.22 L346.17,634.31 L346.96,634.40 L347.75,634.49 L348.54,634.58 L349.33,634.68 L350.12,634.77 L350.91,634.87 L351.69,634.98 L352.48,635.08 L353.27,635.19 L354.06,635.30 L354.85,635.41 L355.64,635.52 L356.43,635.64 L357.22,635.75 L358.01,635.87 L358.79,635.99 L359.58,636.10 L360.37,636.22 L361.16,636.34 L361.95,636.46 L362.74,636.58 L363.53,636.71 L364.32,636.83 L365.11,636.95 L365.90,637.07 L366.68,637.20 L367.47,637.32 L368.26,637.44 L369.05,637.56 L369.84,637.69 L370.63,637.81 L371.42,637.93 L372.21,638.05 L373.00,638.17 L373.78,638.29 L374.57,638.41 L375.36,638.53 L376.15,638.65 L376.94,638.76 L377.73,638.88 L378.52,638.99 L379.31,639.11 L380.10,639.23 L380.89,639.34 L381.67,639.46 L382.46,639.57 L383.25,639.69 L384.04,639.80 L384.83,639.92 L385.62,640.04 L386.41,640.15 L387.20,640.27 L387.99,640.39 L388.77,640.51 L389.56,640.63 L390.35,640.75 L391.14,640.87 L391.93,640.99 L392.72,641.11 L393.51,641.24 L394.30,641.36 L395.09,641.49 L395.88,641.61 L396.66,641.74 L397.45,641.87 L398.24,642.00 L399.03,642.13 L399.82,642.25 L400.61,642.39 L401.40,642.52 L402.19,642.65 L402.98,642.78 L403.76,642.91 L404.55,643.05 L405.34,643.18 L406.13,643.32 L406.92,643.46 L407.71,643.59 L408.50,643.73 L409.29,643.87 L410.08,644.01 L410.87,644.15 L411.65,644.30 L412.44,644.44 L413.23,644.59 L414.02,644.73 L414.81,644.88 L415.60,645.03 L416.39,645.18 L417.18,645.33 L417.97,645.48 L418.75,645.64 L419.54,645.80 L420.33,645.95 L421.12,646.11 L421.91,646.27 L422.70,646.43 L423.49,646.60 L424.28,646.76 L425.07,646.92 L425.86,647.09 L426.64,647.26 L427.43,647.43 L428.22,647.59 L429.01,647.76 L429.80,647.94" stroke="#b02424" stroke-width="1.8" fill="none" stroke-linejoin="round" stroke-linecap="round"/>
<line x1="292.43" y1="677.90" x2="292.43" y2="679.40" stroke="#444" stroke-width="0.7"/>
<line x1="331.68" y1="677.90" x2="331.68" y2="679.40" stroke="#444" stroke-width="0.7"/>
<line x1="370.93" y1="677.90" x2="370.93" y2="679.40" stroke="#444" stroke-width="0.7"/>
<line x1="410.18" y1="677.90" x2="410.18" y2="679.40" stroke="#444" stroke-width="0.7"/>
<line x1="272.80" y1="677.90" x2="272.80" y2="680.50" stroke="#444" stroke-width="0.8"/>
<line x1="312.05" y1="677.90" x2="312.05" y2="680.50" stroke="#444" stroke-width="0.8"/>
<line x1="351.30" y1="677.90" x2="351.30" y2="680.50" stroke="#444" stroke-width="0.8"/>
<line x1="390.55" y1="677.90" x2="390.55" y2="680.50" stroke="#444" stroke-width="0.8"/>
<line x1="429.80" y1="677.90" x2="429.80" y2="680.50" stroke="#444" stroke-width="0.8"/>
<line x1="271.30" y1="656.92" x2="272.80" y2="656.92" stroke="#444" stroke-width="0.7"/>
<line x1="271.30" y1="614.95" x2="272.80" y2="614.95" stroke="#444" stroke-width="0.7"/>
<line x1="271.30" y1="572.98" x2="272.80" y2="572.98" stroke="#444" stroke-width="0.7"/>
<line x1="270.20" y1="677.90" x2="272.80" y2="677.90" stroke="#444" stroke-width="0.8"/>
<line x1="270.20" y1="635.93" x2="272.80" y2="635.93" stroke="#444" stroke-width="0.8"/>
<line x1="270.20" y1="593.97" x2="272.80" y2="593.97" stroke="#444" stroke-width="0.8"/>
<line x1="270.20" y1="552.00" x2="272.80" y2="552.00" stroke="#444" stroke-width="0.8"/>
<line x1="272.80" y1="552.00" x2="272.80" y2="678.35" stroke="#444" stroke-width="0.9"/>
<line x1="272.35" y1="677.90" x2="429.80" y2="677.90" stroke="#444" stroke-width="0.9"/>
<text x="272.80" y="688.60" font-size="7.5" font-weight="bold" font-style="normal" text-anchor="middle" fill="#1a1a1a" transform="matrix(1.0 0 0 1.06 0.000 -41.316)"><tspan>700</tspan></text>
<text x="312.05" y="688.60" font-size="7.5" font-weight="bold" font-style="normal" text-anchor="middle" fill="#1a1a1a" transform="matrix(1.0 0 0 1.06 0.000 -41.316)"><tspan>750</tspan></text>
<text x="351.30" y="688.60" font-size="7.5" font-weight="bold" font-style="normal" text-anchor="middle" fill="#1a1a1a" transform="matrix(1.0 0 0 1.06 0.000 -41.316)"><tspan>800</tspan></text>
<text x="390.55" y="688.60" font-size="7.5" font-weight="bold" font-style="normal" text-anchor="middle" fill="#1a1a1a" transform="matrix(1.0 0 0 1.06 0.000 -41.316)"><tspan>850</tspan></text>
<text x="429.80" y="688.60" font-size="7.5" font-weight="bold" font-style="normal" text-anchor="middle" fill="#1a1a1a" transform="matrix(1.0 0 0 1.06 0.000 -41.316)"><tspan>900</tspan></text>
<text x="268.60" y="680.52" font-size="7.5" font-weight="bold" font-style="normal" text-anchor="end" fill="#1a1a1a" transform="matrix(1.0 0 0 1.06 0.000 -40.832)"><tspan>0.5</tspan></text>
<text x="268.60" y="638.56" font-size="7.5" font-weight="bold" font-style="normal" text-anchor="end" fill="#1a1a1a" transform="matrix(1.0 0 0 1.06 0.000 -38.314)"><tspan>1.0</tspan></text>
<text x="268.60" y="596.59" font-size="7.5" font-weight="bold" font-style="normal" text-anchor="end" fill="#1a1a1a" transform="matrix(1.0 0 0 1.06 0.000 -35.796)"><tspan>1.5</tspan></text>
<text x="268.60" y="554.62" font-size="7.5" font-weight="bold" font-style="normal" text-anchor="end" fill="#1a1a1a" transform="matrix(1.0 0 0 1.06 0.000 -33.278)"><tspan>2.0</tspan></text>
<text x="253.60" y="615.00" font-size="7.8" font-weight="bold" font-style="normal" text-anchor="middle" fill="#1a1a1a" transform="rotate(-90 253.6 615.0)"><tspan>Absorbance (A.U.)</tspan></text>
<text x="351.30" y="701.60" font-size="7.8" font-weight="bold" font-style="normal" text-anchor="middle" fill="#1a1a1a" transform="matrix(1.0 0 0 1.06 0.000 -42.096)"><tspan>Wavelength (nm)</tspan></text>
<line x1="284.90" y1="555.70" x2="298.40" y2="555.70" stroke="#b02424" stroke-width="1.6"/>
<text x="300.60" y="558.08" font-size="7.8" font-weight="bold" font-style="normal" text-anchor="start" fill="#1a1a1a" transform="matrix(1.0 0 0 1.06 0.000 -33.485)"><tspan>Mn(acac)</tspan><tspan font-size="6.63" dy="2.34">3</tspan><tspan dy="-2.34"> + TMSN</tspan><tspan font-size="6.63" dy="2.34">3</tspan></text>
<line x1="284.90" y1="567.60" x2="298.40" y2="567.60" stroke="#e05563" stroke-width="1.6"/>
<text x="300.60" y="569.98" font-size="7.8" font-weight="bold" font-style="normal" text-anchor="start" fill="#1a1a1a" transform="matrix(1.0 0 0 1.06 0.000 -34.199)"><tspan>Irradiation at 850 nm for 6 min under N</tspan><tspan font-size="6.63" dy="2.34">2</tspan></text>
<line x1="284.90" y1="579.50" x2="298.40" y2="579.50" stroke="#f7bcc4" stroke-width="1.6"/>
<text x="300.60" y="581.88" font-size="7.8" font-weight="bold" font-style="normal" text-anchor="start" fill="#1a1a1a" transform="matrix(1.0 0 0 1.06 0.000 -34.913)"><tspan>Irradiation at 850 nm for 9 min under N</tspan><tspan font-size="6.63" dy="2.34">2</tspan></text>
<text x="285.20" y="594.00" font-size="7.8" font-weight="bold" font-style="normal" text-anchor="start" fill="#1a1a1a" transform="matrix(1.0 0 0 1.06 0.000 -35.640)"><tspan>After irradiation for 9 min in N</tspan><tspan font-size="6.63" dy="2.34">2</tspan><tspan dy="-2.34">, then</tspan></text>
<line x1="284.90" y1="603.20" x2="298.40" y2="603.20" stroke="#8cbde2" stroke-width="1.6"/>
<text x="300.60" y="605.58" font-size="7.8" font-weight="bold" font-style="normal" text-anchor="start" fill="#1a1a1a" transform="matrix(1.0 0 0 1.06 0.000 -36.335)"><tspan>Stirring for 6 min under O</tspan><tspan font-size="6.63" dy="2.34">2</tspan><tspan dy="-2.34"> in the dark</tspan></text>
<line x1="284.90" y1="615.10" x2="298.40" y2="615.10" stroke="#1f4d8a" stroke-width="1.6"/>
<text x="300.60" y="617.48" font-size="7.8" font-weight="bold" font-style="normal" text-anchor="start" fill="#1a1a1a" transform="matrix(1.0 0 0 1.06 0.000 -37.049)"><tspan>Stirring for 9 min under O</tspan><tspan font-size="6.63" dy="2.34">2</tspan><tspan dy="-2.34"> in the dark</tspan></text>
<rect x="452.60" y="613.90" width="43.00" height="5.40" fill="#c6d6ec" stroke="none" stroke-width="0.9"/>
<rect x="492.80" y="565.70" width="5.40" height="100.30" fill="#c6d6ec" stroke="none" stroke-width="0.9"/>
<rect x="492.80" y="565.70" width="27.00" height="5.40" fill="#c6d6ec" stroke="none" stroke-width="0.9"/>
<rect x="492.80" y="660.60" width="27.00" height="5.40" fill="#c6d6ec" stroke="none" stroke-width="0.9"/>
<path d="M518.4,562.0 L526.0,568.4 L518.4,574.8 Z" fill="#c6d6ec"/>
<path d="M518.4,656.9 L526.0,663.3 L518.4,669.7 Z" fill="#c6d6ec"/>
<path d="M562.00,581.87 L562.38,582.00 L562.76,582.13 L563.14,582.26 L563.52,582.39 L563.90,582.52 L564.29,582.64 L564.67,582.76 L565.05,582.87 L565.43,582.99 L565.81,583.10 L566.19,583.20 L566.57,583.30 L566.95,583.40 L567.33,583.50 L567.71,583.59 L568.09,583.67 L568.48,583.75 L568.86,583.83 L569.24,583.90 L569.62,583.96 L570.00,584.02 L570.38,584.08 L570.76,584.14 L571.14,584.20 L571.52,584.25 L571.90,584.31 L572.28,584.36 L572.67,584.41 L573.05,584.46 L573.43,584.51 L573.81,584.55 L574.19,584.59 L574.57,584.64 L574.95,584.67 L575.33,584.71 L575.71,584.75 L576.09,584.78 L576.47,584.81 L576.86,584.84 L577.24,584.86 L577.62,584.88 L578.00,584.90 L578.38,584.93 L578.76,584.95 L579.14,584.97 L579.52,584.99 L579.90,585.00 L580.28,585.02 L580.66,585.04 L581.05,585.06 L581.43,585.08 L581.81,585.09 L582.19,585.11 L582.57,585.12 L582.95,585.14 L583.33,585.15 L583.71,585.17 L584.09,585.18 L584.47,585.19 L584.85,585.20 L585.24,585.21 L585.62,585.22 L586.00,585.23 L586.38,585.24 L586.76,585.25 L587.14,585.26 L587.52,585.27 L587.90,585.27 L588.28,585.28 L588.66,585.28 L589.04,585.29 L589.43,585.29 L589.81,585.29 L590.19,585.30 L590.57,585.30 L590.95,585.30 L591.33,585.30 L591.71,585.31 L592.09,585.31 L592.47,585.31 L592.85,585.31 L593.23,585.32 L593.62,585.32 L594.00,585.32 L594.38,585.32 L594.76,585.32 L595.14,585.32 L595.52,585.33 L595.90,585.33 L596.28,585.33 L596.66,585.33 L597.04,585.33 L597.42,585.34 L597.81,585.34 L598.19,585.34 L598.57,585.35 L598.95,585.35 L599.33,585.35 L599.71,585.36 L600.09,585.36 L600.47,585.37 L600.85,585.37 L601.23,585.38 L601.61,585.39 L601.99,585.40 L602.38,585.41 L602.76,585.42 L603.14,585.43 L603.52,585.44 L603.90,585.45 L604.28,585.46 L604.66,585.48 L605.04,585.49 L605.42,585.51 L605.80,585.52 L606.18,585.54 L606.57,585.55 L606.95,585.57 L607.33,585.58 L607.71,585.60 L608.09,585.62 L608.47,585.63 L608.85,585.65 L609.23,585.67 L609.61,585.69 L609.99,585.70 L610.37,585.72 L610.76,585.74 L611.14,585.76 L611.52,585.77 L611.90,585.79 L612.28,585.81 L612.66,585.83 L613.04,585.85 L613.42,585.87 L613.80,585.89 L614.18,585.91 L614.56,585.93 L614.95,585.96 L615.33,585.98 L615.71,586.00 L616.09,586.03 L616.47,586.05 L616.85,586.08 L617.23,586.10 L617.61,586.13 L617.99,586.16 L618.37,586.18 L618.75,586.21 L619.14,586.24 L619.52,586.27 L619.90,586.30 L620.28,586.33 L620.66,586.36 L621.04,586.39 L621.42,586.42 L621.80,586.45 L622.18,586.49 L622.56,586.52 L622.94,586.56 L623.33,586.60 L623.71,586.64 L624.09,586.68 L624.47,586.72 L624.85,586.76 L625.23,586.80 L625.61,586.84 L625.99,586.88 L626.37,586.93 L626.75,586.97 L627.13,587.01 L627.52,587.06 L627.90,587.10 L628.28,587.15 L628.66,587.19 L629.04,587.23 L629.42,587.28 L629.80,587.32 L630.18,587.36 L630.56,587.40 L630.94,587.45 L631.32,587.49 L631.71,587.53 L632.09,587.58 L632.47,587.62 L632.85,587.66 L633.23,587.71 L633.61,587.75 L633.99,587.80 L634.37,587.84 L634.75,587.89 L635.13,587.93 L635.51,587.98 L635.90,588.02 L636.28,588.07 L636.66,588.11 L637.04,588.16 L637.42,588.20 L637.80,588.25" stroke="#f7bcc4" stroke-width="1.3" fill="none" stroke-linejoin="round" stroke-linecap="round"/>
<path d="M562.00,578.34 L562.38,578.47 L562.76,578.61 L563.14,578.74 L563.52,578.87 L563.90,579.00 L564.29,579.12 L564.67,579.25 L565.05,579.37 L565.43,579.48 L565.81,579.60 L566.19,579.71 L566.57,579.82 L566.95,579.92 L567.33,580.02 L567.71,580.12 L568.09,580.22 L568.48,580.31 L568.86,580.39 L569.24,580.47 L569.62,580.55 L570.00,580.63 L570.38,580.70 L570.76,580.78 L571.14,580.85 L571.52,580.92 L571.90,580.99 L572.28,581.06 L572.67,581.12 L573.05,581.19 L573.43,581.25 L573.81,581.31 L574.19,581.37 L574.57,581.42 L574.95,581.47 L575.33,581.52 L575.71,581.57 L576.09,581.61 L576.47,581.65 L576.86,581.69 L577.24,581.72 L577.62,581.75 L578.00,581.78 L578.38,581.81 L578.76,581.83 L579.14,581.86 L579.52,581.88 L579.90,581.91 L580.28,581.93 L580.66,581.95 L581.05,581.97 L581.43,581.99 L581.81,582.01 L582.19,582.03 L582.57,582.05 L582.95,582.07 L583.33,582.08 L583.71,582.10 L584.09,582.12 L584.47,582.13 L584.85,582.15 L585.24,582.16 L585.62,582.18 L586.00,582.19 L586.38,582.20 L586.76,582.21 L587.14,582.23 L587.52,582.24 L587.90,582.25 L588.28,582.26 L588.66,582.27 L589.04,582.28 L589.43,582.29 L589.81,582.30 L590.19,582.31 L590.57,582.32 L590.95,582.33 L591.33,582.34 L591.71,582.35 L592.09,582.35 L592.47,582.36 L592.85,582.37 L593.23,582.38 L593.62,582.38 L594.00,582.39 L594.38,582.40 L594.76,582.40 L595.14,582.41 L595.52,582.42 L595.90,582.42 L596.28,582.43 L596.66,582.44 L597.04,582.44 L597.42,582.45 L597.81,582.46 L598.19,582.47 L598.57,582.48 L598.95,582.49 L599.33,582.50 L599.71,582.51 L600.09,582.52 L600.47,582.53 L600.85,582.54 L601.23,582.55 L601.61,582.56 L601.99,582.57 L602.38,582.59 L602.76,582.60 L603.14,582.61 L603.52,582.62 L603.90,582.64 L604.28,582.65 L604.66,582.67 L605.04,582.68 L605.42,582.69 L605.80,582.71 L606.18,582.73 L606.57,582.74 L606.95,582.76 L607.33,582.77 L607.71,582.79 L608.09,582.81 L608.47,582.82 L608.85,582.84 L609.23,582.86 L609.61,582.87 L609.99,582.89 L610.37,582.91 L610.76,582.93 L611.14,582.95 L611.52,582.96 L611.90,582.98 L612.28,583.00 L612.66,583.02 L613.04,583.04 L613.42,583.06 L613.80,583.08 L614.18,583.10 L614.56,583.12 L614.95,583.14 L615.33,583.17 L615.71,583.19 L616.09,583.21 L616.47,583.24 L616.85,583.26 L617.23,583.29 L617.61,583.31 L617.99,583.34 L618.37,583.36 L618.75,583.39 L619.14,583.42 L619.52,583.45 L619.90,583.48 L620.28,583.51 L620.66,583.55 L621.04,583.58 L621.42,583.62 L621.80,583.66 L622.18,583.70 L622.56,583.74 L622.94,583.79 L623.33,583.83 L623.71,583.88 L624.09,583.93 L624.47,583.98 L624.85,584.04 L625.23,584.09 L625.61,584.15 L625.99,584.21 L626.37,584.26 L626.75,584.32 L627.13,584.38 L627.52,584.44 L627.90,584.50 L628.28,584.57 L628.66,584.63 L629.04,584.69 L629.42,584.75 L629.80,584.81 L630.18,584.87 L630.56,584.93 L630.94,585.00 L631.32,585.06 L631.71,585.12 L632.09,585.19 L632.47,585.26 L632.85,585.33 L633.23,585.39 L633.61,585.46 L633.99,585.53 L634.37,585.61 L634.75,585.68 L635.13,585.75 L635.51,585.82 L635.90,585.90 L636.28,585.97 L636.66,586.05 L637.04,586.13 L637.42,586.21 L637.80,586.28" stroke="#e05563" stroke-width="1.3" fill="none" stroke-linejoin="round" stroke-linecap="round"/>
<path d="M562.00,568.78 L562.38,568.93 L562.76,569.07 L563.14,569.21 L563.52,569.34 L563.90,569.48 L564.29,569.61 L564.67,569.75 L565.05,569.88 L565.43,570.01 L565.81,570.14 L566.19,570.26 L566.57,570.39 L566.95,570.51 L567.33,570.63 L567.71,570.75 L568.09,570.87 L568.48,570.99 L568.86,571.10 L569.24,571.21 L569.62,571.32 L570.00,571.43 L570.38,571.54 L570.76,571.65 L571.14,571.75 L571.52,571.85 L571.90,571.95 L572.28,572.05 L572.67,572.15 L573.05,572.25 L573.43,572.35 L573.81,572.44 L574.19,572.53 L574.57,572.63 L574.95,572.72 L575.33,572.81 L575.71,572.90 L576.09,572.99 L576.47,573.08 L576.86,573.17 L577.24,573.25 L577.62,573.34 L578.00,573.42 L578.38,573.51 L578.76,573.59 L579.14,573.68 L579.52,573.77 L579.90,573.85 L580.28,573.94 L580.66,574.02 L581.05,574.10 L581.43,574.19 L581.81,574.27 L582.19,574.35 L582.57,574.43 L582.95,574.51 L583.33,574.59 L583.71,574.67 L584.09,574.75 L584.47,574.82 L584.85,574.90 L585.24,574.97 L585.62,575.04 L586.00,575.11 L586.38,575.18 L586.76,575.24 L587.14,575.31 L587.52,575.37 L587.90,575.43 L588.28,575.49 L588.66,575.55 L589.04,575.60 L589.43,575.65 L589.81,575.71 L590.19,575.76 L590.57,575.80 L590.95,575.85 L591.33,575.90 L591.71,575.94 L592.09,575.98 L592.47,576.03 L592.85,576.07 L593.23,576.11 L593.62,576.15 L594.00,576.19 L594.38,576.23 L594.76,576.27 L595.14,576.31 L595.52,576.35 L595.90,576.39 L596.28,576.43 L596.66,576.47 L597.04,576.51 L597.42,576.56 L597.81,576.60 L598.19,576.64 L598.57,576.69 L598.95,576.73 L599.33,576.78 L599.71,576.83 L600.09,576.88 L600.47,576.93 L600.85,576.98 L601.23,577.03 L601.61,577.08 L601.99,577.14 L602.38,577.19 L602.76,577.25 L603.14,577.30 L603.52,577.36 L603.90,577.41 L604.28,577.47 L604.66,577.53 L605.04,577.59 L605.42,577.64 L605.80,577.70 L606.18,577.76 L606.57,577.82 L606.95,577.88 L607.33,577.94 L607.71,578.00 L608.09,578.05 L608.47,578.11 L608.85,578.17 L609.23,578.23 L609.61,578.29 L609.99,578.35 L610.37,578.40 L610.76,578.46 L611.14,578.52 L611.52,578.57 L611.90,578.63 L612.28,578.69 L612.66,578.74 L613.04,578.80 L613.42,578.85 L613.80,578.91 L614.18,578.96 L614.56,579.02 L614.95,579.07 L615.33,579.13 L615.71,579.18 L616.09,579.24 L616.47,579.30 L616.85,579.35 L617.23,579.41 L617.61,579.46 L617.99,579.52 L618.37,579.58 L618.75,579.63 L619.14,579.69 L619.52,579.75 L619.90,579.81 L620.28,579.87 L620.66,579.93 L621.04,579.99 L621.42,580.05 L621.80,580.11 L622.18,580.17 L622.56,580.23 L622.94,580.29 L623.33,580.36 L623.71,580.42 L624.09,580.48 L624.47,580.54 L624.85,580.61 L625.23,580.67 L625.61,580.74 L625.99,580.80 L626.37,580.86 L626.75,580.93 L627.13,581.00 L627.52,581.06 L627.90,581.13 L628.28,581.20 L628.66,581.26 L629.04,581.33 L629.42,581.40 L629.80,581.47 L630.18,581.54 L630.56,581.61 L630.94,581.68 L631.32,581.75 L631.71,581.83 L632.09,581.90 L632.47,581.97 L632.85,582.05 L633.23,582.12 L633.61,582.20 L633.99,582.28 L634.37,582.35 L634.75,582.43 L635.13,582.51 L635.51,582.59 L635.90,582.67 L636.28,582.75 L636.66,582.83 L637.04,582.91 L637.42,582.99 L637.80,583.07" stroke="#b02424" stroke-width="1.3" fill="none" stroke-linejoin="round" stroke-linecap="round"/>
<rect x="562.00" y="537.20" width="75.80" height="60.20" fill="none" stroke="#555" stroke-width="0.8"/>
<line x1="560.30" y1="597.40" x2="562.00" y2="597.40" stroke="#555" stroke-width="0.7"/>
<text x="559.90" y="599.90" font-size="7.0" font-weight="bold" font-style="normal" text-anchor="end" fill="#1a1a1a" transform="matrix(1.0 0 0 1.06 0.000 -35.994)"><tspan>0.5</tspan></text>
<line x1="560.30" y1="577.33" x2="562.00" y2="577.33" stroke="#555" stroke-width="0.7"/>
<text x="559.90" y="579.83" font-size="7.0" font-weight="bold" font-style="normal" text-anchor="end" fill="#1a1a1a" transform="matrix(1.0 0 0 1.06 0.000 -34.790)"><tspan>1.0</tspan></text>
<line x1="560.30" y1="557.27" x2="562.00" y2="557.27" stroke="#555" stroke-width="0.7"/>
<text x="559.90" y="559.77" font-size="7.0" font-weight="bold" font-style="normal" text-anchor="end" fill="#1a1a1a" transform="matrix(1.0 0 0 1.06 0.000 -33.586)"><tspan>1.5</tspan></text>
<line x1="560.30" y1="537.20" x2="562.00" y2="537.20" stroke="#555" stroke-width="0.7"/>
<text x="559.90" y="539.70" font-size="7.0" font-weight="bold" font-style="normal" text-anchor="end" fill="#1a1a1a" transform="matrix(1.0 0 0 1.06 0.000 -32.382)"><tspan>2.0</tspan></text>
<line x1="580.95" y1="597.40" x2="580.95" y2="595.90" stroke="#555" stroke-width="0.7"/>
<line x1="599.90" y1="597.40" x2="599.90" y2="595.90" stroke="#555" stroke-width="0.7"/>
<line x1="618.85" y1="597.40" x2="618.85" y2="595.90" stroke="#555" stroke-width="0.7"/>
<line x1="571.48" y1="597.40" x2="571.48" y2="596.40" stroke="#555" stroke-width="0.6"/>
<line x1="590.42" y1="597.40" x2="590.42" y2="596.40" stroke="#555" stroke-width="0.6"/>
<line x1="609.38" y1="597.40" x2="609.38" y2="596.40" stroke="#555" stroke-width="0.6"/>
<line x1="628.32" y1="597.40" x2="628.32" y2="596.40" stroke="#555" stroke-width="0.6"/>
<text x="562.00" y="605.70" font-size="7.0" font-weight="bold" font-style="normal" text-anchor="middle" fill="#1a1a1a" transform="matrix(1.0 0 0 1.06 0.000 -36.342)"><tspan>700</tspan></text>
<text x="580.95" y="605.70" font-size="7.0" font-weight="bold" font-style="normal" text-anchor="middle" fill="#1a1a1a" transform="matrix(1.0 0 0 1.06 0.000 -36.342)"><tspan>750</tspan></text>
<text x="599.90" y="605.70" font-size="7.0" font-weight="bold" font-style="normal" text-anchor="middle" fill="#1a1a1a" transform="matrix(1.0 0 0 1.06 0.000 -36.342)"><tspan>800</tspan></text>
<text x="618.85" y="605.70" font-size="7.0" font-weight="bold" font-style="normal" text-anchor="middle" fill="#1a1a1a" transform="matrix(1.0 0 0 1.06 0.000 -36.342)"><tspan>850</tspan></text>
<text x="637.80" y="605.70" font-size="7.0" font-weight="bold" font-style="normal" text-anchor="middle" fill="#1a1a1a" transform="matrix(1.0 0 0 1.06 0.000 -36.342)"><tspan>900</tspan></text>
<text x="599.60" y="612.80" font-size="7.2" font-weight="bold" font-style="normal" text-anchor="middle" fill="#1a1a1a" transform="matrix(1.0 0 0 1.06 0.000 -36.768)"><tspan>Wavelength (nm)</tspan></text>
<text x="546.90" y="567.30" font-size="7.2" font-weight="bold" font-style="normal" text-anchor="middle" fill="#1a1a1a" transform="rotate(-90 546.9 567.3)"><tspan>Absorbance (A.U.)</tspan></text>
<text x="591.00" y="562.10" font-size="7.5" font-weight="normal" font-style="normal" text-anchor="middle" fill="#1a1a1a" transform="matrix(1.0 0 0 1.06 0.000 -33.726)"><tspan>decreasing</tspan></text>
<line x1="618.60" y1="548.50" x2="618.60" y2="567.00" stroke="#111" stroke-width="1.1"/>
<path d="M618.60,571.20 L616.50,564.20 L618.60,565.95 L620.70,564.20 Z" fill="#111"/>
<path d="M562.00,671.51 L562.38,671.65 L562.76,671.79 L563.14,671.92 L563.52,672.06 L563.90,672.18 L564.29,672.31 L564.67,672.44 L565.05,672.56 L565.43,672.68 L565.81,672.79 L566.19,672.90 L566.57,673.01 L566.95,673.12 L567.33,673.22 L567.71,673.31 L568.09,673.41 L568.48,673.50 L568.86,673.58 L569.24,673.66 L569.62,673.73 L570.00,673.81 L570.38,673.88 L570.76,673.95 L571.14,674.01 L571.52,674.08 L571.90,674.15 L572.28,674.21 L572.67,674.27 L573.05,674.33 L573.43,674.39 L573.81,674.45 L574.19,674.50 L574.57,674.55 L574.95,674.60 L575.33,674.64 L575.71,674.69 L576.09,674.73 L576.47,674.77 L576.86,674.80 L577.24,674.83 L577.62,674.86 L578.00,674.88 L578.38,674.91 L578.76,674.93 L579.14,674.96 L579.52,674.98 L579.90,675.00 L580.28,675.02 L580.66,675.04 L581.05,675.06 L581.43,675.08 L581.81,675.10 L582.19,675.12 L582.57,675.14 L582.95,675.15 L583.33,675.17 L583.71,675.19 L584.09,675.20 L584.47,675.22 L584.85,675.23 L585.24,675.24 L585.62,675.26 L586.00,675.27 L586.38,675.28 L586.76,675.29 L587.14,675.30 L587.52,675.31 L587.90,675.32 L588.28,675.33 L588.66,675.34 L589.04,675.34 L589.43,675.35 L589.81,675.36 L590.19,675.36 L590.57,675.37 L590.95,675.38 L591.33,675.38 L591.71,675.39 L592.09,675.39 L592.47,675.39 L592.85,675.40 L593.23,675.40 L593.62,675.41 L594.00,675.41 L594.38,675.41 L594.76,675.42 L595.14,675.42 L595.52,675.43 L595.90,675.43 L596.28,675.44 L596.66,675.44 L597.04,675.44 L597.42,675.45 L597.81,675.46 L598.19,675.46 L598.57,675.47 L598.95,675.48 L599.33,675.48 L599.71,675.49 L600.09,675.50 L600.47,675.51 L600.85,675.52 L601.23,675.53 L601.61,675.55 L601.99,675.56 L602.38,675.58 L602.76,675.60 L603.14,675.61 L603.52,675.63 L603.90,675.65 L604.28,675.67 L604.66,675.70 L605.04,675.72 L605.42,675.74 L605.80,675.77 L606.18,675.79 L606.57,675.81 L606.95,675.84 L607.33,675.86 L607.71,675.89 L608.09,675.92 L608.47,675.94 L608.85,675.97 L609.23,676.00 L609.61,676.02 L609.99,676.05 L610.37,676.08 L610.76,676.10 L611.14,676.13 L611.52,676.16 L611.90,676.18 L612.28,676.21 L612.66,676.24 L613.04,676.26 L613.42,676.29 L613.80,676.32 L614.18,676.35 L614.56,676.38 L614.95,676.41 L615.33,676.44 L615.71,676.48 L616.09,676.51 L616.47,676.54 L616.85,676.57 L617.23,676.61 L617.61,676.64 L617.99,676.68 L618.37,676.71 L618.75,676.75 L619.14,676.78 L619.52,676.82 L619.90,676.86 L620.28,676.89 L620.66,676.93 L621.04,676.97 L621.42,677.01 L621.80,677.05 L622.18,677.10 L622.56,677.14 L622.94,677.18 L623.33,677.23 L623.71,677.28 L624.09,677.32 L624.47,677.37 L624.85,677.42 L625.23,677.47 L625.61,677.52 L625.99,677.57 L626.37,677.62 L626.75,677.67 L627.13,677.72 L627.52,677.78 L627.90,677.83 L628.28,677.88 L628.66,677.93 L629.04,677.99 L629.42,678.04 L629.80,678.09 L630.18,678.14 L630.56,678.20 L630.94,678.25 L631.32,678.30 L631.71,678.36 L632.09,678.41 L632.47,678.47 L632.85,678.52 L633.23,678.58 L633.61,678.63 L633.99,678.69 L634.37,678.75 L634.75,678.80 L635.13,678.86 L635.51,678.92 L635.90,678.98 L636.28,679.04 L636.66,679.09 L637.04,679.15 L637.42,679.21 L637.80,679.27" stroke="#8cbde2" stroke-width="1.3" fill="none" stroke-linejoin="round" stroke-linecap="round"/>
<path d="M562.00,667.62 L562.38,667.76 L562.76,667.90 L563.14,668.04 L563.52,668.17 L563.90,668.31 L564.29,668.44 L564.67,668.56 L565.05,668.69 L565.43,668.81 L565.81,668.93 L566.19,669.05 L566.57,669.16 L566.95,669.27 L567.33,669.37 L567.71,669.47 L568.09,669.57 L568.48,669.66 L568.86,669.75 L569.24,669.84 L569.62,669.91 L570.00,669.99 L570.38,670.07 L570.76,670.14 L571.14,670.21 L571.52,670.28 L571.90,670.35 L572.28,670.41 L572.67,670.48 L573.05,670.54 L573.43,670.60 L573.81,670.66 L574.19,670.72 L574.57,670.77 L574.95,670.82 L575.33,670.87 L575.71,670.92 L576.09,670.96 L576.47,671.01 L576.86,671.05 L577.24,671.08 L577.62,671.12 L578.00,671.15 L578.38,671.19 L578.76,671.22 L579.14,671.25 L579.52,671.28 L579.90,671.31 L580.28,671.34 L580.66,671.37 L581.05,671.40 L581.43,671.43 L581.81,671.45 L582.19,671.48 L582.57,671.51 L582.95,671.53 L583.33,671.55 L583.71,671.58 L584.09,671.60 L584.47,671.62 L584.85,671.64 L585.24,671.66 L585.62,671.68 L586.00,671.70 L586.38,671.71 L586.76,671.73 L587.14,671.75 L587.52,671.76 L587.90,671.78 L588.28,671.79 L588.66,671.80 L589.04,671.81 L589.43,671.82 L589.81,671.83 L590.19,671.84 L590.57,671.85 L590.95,671.86 L591.33,671.87 L591.71,671.88 L592.09,671.89 L592.47,671.90 L592.85,671.90 L593.23,671.91 L593.62,671.92 L594.00,671.93 L594.38,671.93 L594.76,671.94 L595.14,671.95 L595.52,671.95 L595.90,671.96 L596.28,671.97 L596.66,671.97 L597.04,671.98 L597.42,671.99 L597.81,671.99 L598.19,672.00 L598.57,672.01 L598.95,672.02 L599.33,672.02 L599.71,672.03 L600.09,672.04 L600.47,672.05 L600.85,672.06 L601.23,672.07 L601.61,672.08 L601.99,672.08 L602.38,672.09 L602.76,672.10 L603.14,672.11 L603.52,672.12 L603.90,672.12 L604.28,672.13 L604.66,672.14 L605.04,672.15 L605.42,672.16 L605.80,672.16 L606.18,672.17 L606.57,672.18 L606.95,672.19 L607.33,672.20 L607.71,672.21 L608.09,672.22 L608.47,672.23 L608.85,672.24 L609.23,672.25 L609.61,672.26 L609.99,672.28 L610.37,672.29 L610.76,672.30 L611.14,672.31 L611.52,672.33 L611.90,672.34 L612.28,672.36 L612.66,672.38 L613.04,672.39 L613.42,672.41 L613.80,672.43 L614.18,672.45 L614.56,672.48 L614.95,672.50 L615.33,672.52 L615.71,672.55 L616.09,672.57 L616.47,672.60 L616.85,672.62 L617.23,672.65 L617.61,672.68 L617.99,672.70 L618.37,672.73 L618.75,672.76 L619.14,672.79 L619.52,672.82 L619.90,672.85 L620.28,672.88 L620.66,672.91 L621.04,672.95 L621.42,672.98 L621.80,673.02 L622.18,673.05 L622.56,673.09 L622.94,673.13 L623.33,673.17 L623.71,673.22 L624.09,673.26 L624.47,673.30 L624.85,673.35 L625.23,673.40 L625.61,673.44 L625.99,673.49 L626.37,673.54 L626.75,673.59 L627.13,673.64 L627.52,673.69 L627.90,673.74 L628.28,673.79 L628.66,673.84 L629.04,673.89 L629.42,673.94 L629.80,673.99 L630.18,674.04 L630.56,674.09 L630.94,674.14 L631.32,674.19 L631.71,674.25 L632.09,674.30 L632.47,674.35 L632.85,674.40 L633.23,674.46 L633.61,674.51 L633.99,674.57 L634.37,674.62 L634.75,674.68 L635.13,674.73 L635.51,674.79 L635.90,674.84 L636.28,674.90 L636.66,674.96 L637.04,675.02 L637.42,675.07 L637.80,675.13" stroke="#1f4d8a" stroke-width="1.3" fill="none" stroke-linejoin="round" stroke-linecap="round"/>
<rect x="562.00" y="628.30" width="75.80" height="60.30" fill="none" stroke="#555" stroke-width="0.8"/>
<line x1="560.30" y1="688.60" x2="562.00" y2="688.60" stroke="#555" stroke-width="0.7"/>
<text x="559.90" y="691.10" font-size="7.0" font-weight="bold" font-style="normal" text-anchor="end" fill="#1a1a1a" transform="matrix(1.0 0 0 1.06 0.000 -41.466)"><tspan>0.5</tspan></text>
<line x1="560.30" y1="668.50" x2="562.00" y2="668.50" stroke="#555" stroke-width="0.7"/>
<text x="559.90" y="671.00" font-size="7.0" font-weight="bold" font-style="normal" text-anchor="end" fill="#1a1a1a" transform="matrix(1.0 0 0 1.06 0.000 -40.260)"><tspan>1.0</tspan></text>
<line x1="560.30" y1="648.40" x2="562.00" y2="648.40" stroke="#555" stroke-width="0.7"/>
<text x="559.90" y="650.90" font-size="7.0" font-weight="bold" font-style="normal" text-anchor="end" fill="#1a1a1a" transform="matrix(1.0 0 0 1.06 0.000 -39.054)"><tspan>1.5</tspan></text>
<line x1="560.30" y1="628.30" x2="562.00" y2="628.30" stroke="#555" stroke-width="0.7"/>
<text x="559.90" y="630.80" font-size="7.0" font-weight="bold" font-style="normal" text-anchor="end" fill="#1a1a1a" transform="matrix(1.0 0 0 1.06 0.000 -37.848)"><tspan>2.0</tspan></text>
<line x1="580.95" y1="688.60" x2="580.95" y2="687.10" stroke="#555" stroke-width="0.7"/>
<line x1="599.90" y1="688.60" x2="599.90" y2="687.10" stroke="#555" stroke-width="0.7"/>
<line x1="618.85" y1="688.60" x2="618.85" y2="687.10" stroke="#555" stroke-width="0.7"/>
<line x1="571.48" y1="688.60" x2="571.48" y2="687.60" stroke="#555" stroke-width="0.6"/>
<line x1="590.42" y1="688.60" x2="590.42" y2="687.60" stroke="#555" stroke-width="0.6"/>
<line x1="609.38" y1="688.60" x2="609.38" y2="687.60" stroke="#555" stroke-width="0.6"/>
<line x1="628.32" y1="688.60" x2="628.32" y2="687.60" stroke="#555" stroke-width="0.6"/>
<text x="562.00" y="696.90" font-size="7.0" font-weight="bold" font-style="normal" text-anchor="middle" fill="#1a1a1a" transform="matrix(1.0 0 0 1.06 0.000 -41.814)"><tspan>700</tspan></text>
<text x="580.95" y="696.90" font-size="7.0" font-weight="bold" font-style="normal" text-anchor="middle" fill="#1a1a1a" transform="matrix(1.0 0 0 1.06 0.000 -41.814)"><tspan>750</tspan></text>
<text x="599.90" y="696.90" font-size="7.0" font-weight="bold" font-style="normal" text-anchor="middle" fill="#1a1a1a" transform="matrix(1.0 0 0 1.06 0.000 -41.814)"><tspan>800</tspan></text>
<text x="618.85" y="696.90" font-size="7.0" font-weight="bold" font-style="normal" text-anchor="middle" fill="#1a1a1a" transform="matrix(1.0 0 0 1.06 0.000 -41.814)"><tspan>850</tspan></text>
<text x="637.80" y="696.90" font-size="7.0" font-weight="bold" font-style="normal" text-anchor="middle" fill="#1a1a1a" transform="matrix(1.0 0 0 1.06 0.000 -41.814)"><tspan>900</tspan></text>
<text x="599.60" y="704.00" font-size="7.2" font-weight="bold" font-style="normal" text-anchor="middle" fill="#1a1a1a" transform="matrix(1.0 0 0 1.06 0.000 -42.240)"><tspan>Wavelength (nm)</tspan></text>
<text x="546.90" y="658.45" font-size="7.2" font-weight="bold" font-style="normal" text-anchor="middle" fill="#1a1a1a" transform="rotate(-90 546.9 658.45)"><tspan>Absorbance (A.U.)</tspan></text>
<text x="591.00" y="658.90" font-size="7.5" font-weight="normal" font-style="normal" text-anchor="middle" fill="#1a1a1a" transform="matrix(1.0 0 0 1.06 0.000 -39.534)"><tspan>increasing</tspan></text>
<line x1="618.60" y1="665.80" x2="618.60" y2="646.80" stroke="#111" stroke-width="1.1"/>
<path d="M618.60,642.60 L616.50,649.60 L618.60,647.85 L620.70,649.60 Z" fill="#111"/>
<text x="7.00" y="733.30" font-size="9.6" font-weight="bold" font-style="normal" text-anchor="start" fill="#111" transform="matrix(1.0 0 0 1.09 0.000 -65.997)"><tspan>L</tspan></text>
<text x="28.80" y="756.90" font-size="7.55" font-weight="normal" font-style="normal" text-anchor="middle" fill="#1a1a1a" stroke="#1a1a1a" stroke-width="0.16" transform="matrix(1.0 0 0 1.04 0.000 -30.276)"><tspan>[Mn(III)]</tspan></text>
<line x1="45.50" y1="753.70" x2="103.44" y2="753.70" stroke="#1a1a1a" stroke-width="1.0"/>
<path d="M108.60,753.70 L100.00,751.25 L101.55,753.70 L100.00,756.15 Z" fill="#1a1a1a"/>
<text x="70.00" y="748.70" font-size="7.55" font-weight="normal" font-style="normal" text-anchor="middle" fill="#963a3f" stroke="#963a3f" stroke-width="0.16" transform="matrix(1.0 0 0 1.04 0.000 -29.948)"><tspan>TMSN</tspan><tspan font-size="5.13" dy="1.89">3</tspan></text>
<text x="72.00" y="765.00" font-size="7.55" font-weight="normal" font-style="normal" text-anchor="middle" fill="#1a1a1a" stroke="#1a1a1a" stroke-width="0.16" transform="matrix(1.0 0 0 1.04 0.000 -30.600)"><tspan>in-situ assembly</tspan></text>
<path d="M182.95,746.08 L184.48,749.72 L188.18,749.91 L188.18,757.89 L184.48,758.08 L182.95,761.72 L180.56,764.87 L182.25,768.17 L175.33,772.16 L173.32,769.05 L169.40,769.55 L165.48,769.05 L163.47,772.16 L156.55,768.17 L158.24,764.87 L155.85,761.72 L154.32,758.08 L150.62,757.89 L150.62,749.91 L154.32,749.72 L155.85,746.08 L158.24,742.93 L156.55,739.63 L163.47,735.64 L165.48,738.75 L169.40,738.25 L173.32,738.75 L175.33,735.64 L182.25,739.63 L180.56,742.93 Z M181.70,753.90 A12.30,12.30 0 1,0 157.10,753.90 A12.30,12.30 0 1,0 181.70,753.90 Z" fill="#c0ddf9" fill-rule="evenodd" stroke="#c0ddf9" stroke-width="0.5" stroke-linejoin="round"/>
<path d="M125.46,734.99 L129.06,733.48 L129.25,729.82 L137.15,729.82 L137.34,733.48 L140.94,734.99 L144.05,737.36 L147.32,735.69 L151.27,742.53 L148.19,744.52 L148.69,748.40 L148.19,752.28 L151.27,754.27 L147.32,761.11 L144.05,759.44 L140.94,761.81 L137.34,763.32 L137.15,766.98 L129.25,766.98 L129.06,763.32 L125.46,761.81 L122.35,759.44 L119.08,761.11 L115.13,754.27 L118.21,752.28 L117.71,748.40 L118.21,744.52 L115.13,742.53 L119.08,735.69 L122.35,737.36 Z M145.90,748.40 A12.70,12.70 0 1,0 120.50,748.40 A12.70,12.70 0 1,0 145.90,748.40 Z" fill="#ec8b95" fill-rule="evenodd" stroke="#ec8b95" stroke-width="0.5" stroke-linejoin="round"/>
<text x="133.00" y="751.00" font-size="7.2" font-weight="normal" font-style="normal" text-anchor="middle" fill="#1a1a1a" stroke="#1a1a1a" stroke-width="0.16" transform="matrix(1.0 0 0 1.04 0.000 -30.040)"><tspan>[Mn(III)]</tspan></text>
<text x="169.60" y="756.50" font-size="7.4" font-weight="normal" font-style="normal" text-anchor="middle" fill="#1a1a1a" stroke="#1a1a1a" stroke-width="0.16" transform="matrix(1.0 0 0 1.04 0.000 -30.260)"><tspan fill="#963a3f" stroke="#963a3f">TMSN</tspan><tspan fill="#963a3f" stroke="#963a3f" font-size="5.03" dy="1.85">3</tspan></text>
<line x1="194.60" y1="753.50" x2="239.34" y2="753.50" stroke="#1a1a1a" stroke-width="1.0"/>
<path d="M244.50,753.50 L235.90,751.05 L237.45,753.50 L235.90,755.95 Z" fill="#1a1a1a"/>
<rect x="214.78" y="731.92" width="4.54" height="1.71" rx="0.86" transform="rotate(-6 217.05 732.87)" fill="#d0212f"/>
<rect x="213.90" y="734.06" width="6.30" height="1.71" rx="0.86" transform="rotate(-6 217.05 735.01)" fill="#d0212f"/>
<rect x="213.90" y="736.20" width="6.30" height="1.71" rx="0.86" transform="rotate(-6 217.05 737.15)" fill="#d0212f"/>
<rect x="213.90" y="738.34" width="6.30" height="1.71" rx="0.86" transform="rotate(-6 217.05 739.28)" fill="#d0212f"/>
<rect x="213.90" y="740.47" width="6.30" height="1.71" rx="0.86" transform="rotate(-6 217.05 741.42)" fill="#d0212f"/>
<path d="M214.78,742.09 L219.32,742.09 L219.19,746.38 Q217.05,748.50 214.91,746.38 Z" fill="#d0212f"/>
<ellipse cx="216.86" cy="743.30" rx="1.20" ry="0.81" fill="#fff" transform="rotate(-25 216.86 743.30)"/>
<text x="219.20" y="765.60" font-size="7.55" font-weight="normal" font-style="normal" text-anchor="middle" fill="#1a1a1a" stroke="#1a1a1a" stroke-width="0.16" transform="matrix(1.0 0 0 1.04 0.000 -30.624)"><tspan>LMCT</tspan></text>
<circle cx="263.80" cy="755.50" r="12.80" fill="#f4f7fc" stroke="none" stroke-width="1"/>
<circle cx="262.60" cy="754.10" r="12.40" fill="#e6effa" stroke="none" stroke-width="1"/>
<circle cx="257.60" cy="754.20" r="0.75" fill="#963a3f" stroke="none" stroke-width="1"/>
<text x="259.80" y="756.90" font-size="7.8" font-weight="normal" font-style="normal" text-anchor="start" fill="#963a3f" stroke="#963a3f" stroke-width="0.16" transform="matrix(1.0 0 0 1.04 0.000 -30.276)"><tspan>N</tspan><tspan font-size="5.30" dy="1.95">3</tspan></text>
<line x1="280.30" y1="753.80" x2="325.04" y2="753.80" stroke="#1a1a1a" stroke-width="1.0"/>
<path d="M330.20,753.80 L321.60,751.35 L323.15,753.80 L321.60,756.25 Z" fill="#1a1a1a"/>
<circle cx="289.10" cy="743.00" r="4.40" fill="#b4b4e2" stroke="none" stroke-width="1"/>
<line x1="291.50" y1="741.40" x2="300.80" y2="736.20" stroke="#1a1a1a" stroke-width="0.9" stroke-linecap="round"/>
<line x1="300.80" y1="736.20" x2="311.10" y2="740.90" stroke="#1a1a1a" stroke-width="0.9" stroke-linecap="round"/>
<line x1="301.51" y1="734.65" x2="311.81" y2="739.35" stroke="#1a1a1a" stroke-width="0.9" stroke-linecap="round"/>
<line x1="311.10" y1="740.90" x2="319.90" y2="735.60" stroke="#1a1a1a" stroke-width="0.9" stroke-dasharray="1.6,1.3"/>
<circle cx="339.20" cy="756.20" r="4.50" fill="#b4b4e2" stroke="none" stroke-width="1"/>
<line x1="341.80" y1="754.60" x2="351.50" y2="748.40" stroke="#1a1a1a" stroke-width="0.9" stroke-linecap="round"/>
<circle cx="351.50" cy="745.20" r="0.80" fill="#1a1a1a" stroke="none" stroke-width="1"/>
<line x1="351.50" y1="748.40" x2="360.70" y2="752.90" stroke="#1a1a1a" stroke-width="0.9" stroke-linecap="round"/>
<line x1="360.70" y1="752.90" x2="360.70" y2="758.60" stroke="#1a1a1a" stroke-width="0.9" stroke-linecap="round"/>
<line x1="360.70" y1="752.90" x2="370.90" y2="748.00" stroke="#1a1a1a" stroke-width="0.9" stroke-dasharray="1.6,1.3"/>
<text x="362.20" y="769.20" font-size="7.55" font-weight="normal" font-style="normal" text-anchor="middle" fill="#963a3f" stroke="#963a3f" stroke-width="0.16" transform="matrix(1.0 0 0 1.04 0.000 -30.768)"><tspan>N</tspan><tspan font-size="5.13" dy="1.89">3</tspan></text>
<line x1="372.90" y1="753.50" x2="395.34" y2="753.50" stroke="#1a1a1a" stroke-width="1.0"/>
<path d="M400.50,753.50 L391.90,751.05 L393.45,753.50 L391.90,755.95 Z" fill="#1a1a1a"/>
<line x1="372.90" y1="760.20" x2="417.84" y2="760.20" stroke="#1a1a1a" stroke-width="1.0"/>
<path d="M423.00,760.20 L414.40,757.75 L415.95,760.20 L414.40,762.65 Z" fill="#1a1a1a"/>
<text x="395.20" y="748.00" font-size="7.55" font-weight="normal" font-style="normal" text-anchor="middle" fill="#95cccb" stroke="#95cccb" stroke-width="0.16" transform="matrix(1.0 0 0 1.04 0.000 -29.920)"><tspan>O</tspan><tspan font-size="5.13" dy="1.89">2</tspan></text>
<text x="399.00" y="772.20" font-size="7.55" font-weight="normal" font-style="normal" text-anchor="middle" fill="#1a1a1a" stroke="#1a1a1a" stroke-width="0.16" transform="matrix(1.0 0 0 1.04 0.000 -30.888)"><tspan>in-situ reduction</tspan></text>
<circle cx="435.30" cy="757.60" r="4.50" fill="#b4b4e2" stroke="none" stroke-width="1"/>
<line x1="437.90" y1="756.00" x2="445.50" y2="750.40" stroke="#1a1a1a" stroke-width="0.9" stroke-linecap="round"/>
<line x1="445.50" y1="750.40" x2="445.50" y2="743.60" stroke="#1a1a1a" stroke-width="0.9" stroke-linecap="round"/>
<text x="447.30" y="742.60" font-size="7.55" font-weight="normal" font-style="normal" text-anchor="middle" fill="#95cccb" stroke="#95cccb" stroke-width="0.16" transform="matrix(1.0 0 0 1.04 0.000 -29.704)"><tspan>OH</tspan></text>
<line x1="445.50" y1="750.40" x2="454.70" y2="754.90" stroke="#1a1a1a" stroke-width="0.9" stroke-linecap="round"/>
<line x1="454.70" y1="754.90" x2="454.70" y2="761.40" stroke="#1a1a1a" stroke-width="0.9" stroke-linecap="round"/>
<line x1="454.70" y1="754.90" x2="463.90" y2="750.40" stroke="#1a1a1a" stroke-width="0.9" stroke-dasharray="1.6,1.3"/>
<text x="456.20" y="770.40" font-size="7.55" font-weight="normal" font-style="normal" text-anchor="middle" fill="#963a3f" stroke="#963a3f" stroke-width="0.16" transform="matrix(1.0 0 0 1.04 0.000 -30.816)"><tspan>N</tspan><tspan font-size="5.13" dy="1.89">3</tspan></text>
<text x="5.60" y="802.10" font-size="9.6" font-weight="bold" font-style="normal" text-anchor="start" fill="#111" transform="matrix(1.0 0 0 1.09 0.000 -72.189)"><tspan>M</tspan></text>
<line x1="42.00" y1="813.80" x2="51.35" y2="819.20" stroke="#1a1a1a" stroke-width="0.9" stroke-linecap="round"/>
<line x1="51.35" y1="819.20" x2="51.35" y2="830.00" stroke="#1a1a1a" stroke-width="0.9" stroke-linecap="round"/>
<line x1="51.35" y1="830.00" x2="42.00" y2="835.40" stroke="#1a1a1a" stroke-width="0.9" stroke-linecap="round"/>
<line x1="42.00" y1="835.40" x2="32.65" y2="830.00" stroke="#1a1a1a" stroke-width="0.9" stroke-linecap="round"/>
<line x1="32.65" y1="830.00" x2="32.65" y2="819.20" stroke="#1a1a1a" stroke-width="0.9" stroke-linecap="round"/>
<line x1="32.65" y1="819.20" x2="42.00" y2="813.80" stroke="#1a1a1a" stroke-width="0.9" stroke-linecap="round"/>
<line x1="34.40" y1="827.84" x2="34.40" y2="821.36" stroke="#1a1a1a" stroke-width="0.9" stroke-linecap="round"/>
<line x1="43.00" y1="816.40" x2="48.61" y2="819.64" stroke="#1a1a1a" stroke-width="0.9" stroke-linecap="round"/>
<line x1="48.61" y1="829.56" x2="43.00" y2="832.80" stroke="#1a1a1a" stroke-width="0.9" stroke-linecap="round"/>
<line x1="32.65" y1="830.00" x2="25.55" y2="834.10" stroke="#1a1a1a" stroke-width="0.9" stroke-linecap="round"/>
<line x1="21.04" y1="834.10" x2="13.94" y2="830.00" stroke="#1a1a1a" stroke-width="0.9" stroke-linecap="round"/>
<text x="23.29" y="837.92" font-size="7.0" font-weight="normal" font-style="normal" text-anchor="middle" fill="#1a1a1a" transform="matrix(1.0 0 0 1.08 0.000 -67.034)"><tspan>O</tspan></text>
<line x1="51.35" y1="819.20" x2="60.71" y2="813.80" stroke="#1a1a1a" stroke-width="0.9" stroke-linecap="round"/>
<line x1="60.71" y1="813.80" x2="60.71" y2="805.70" stroke="#1a1a1a" stroke-width="0.9" stroke-linecap="round"/>
<line x1="59.11" y1="813.40" x2="59.11" y2="805.70" stroke="#1a1a1a" stroke-width="0.9"/>
<text x="60.71" y="805.52" font-size="7.0" font-weight="normal" font-style="normal" text-anchor="middle" fill="#1a1a1a" transform="matrix(1.0 0 0 1.08 0.000 -64.442)"><tspan>O</tspan></text>
<line x1="60.71" y1="813.80" x2="67.81" y2="817.90" stroke="#1a1a1a" stroke-width="0.9" stroke-linecap="round"/>
<text x="70.06" y="821.72" font-size="7.0" font-weight="normal" font-style="normal" text-anchor="middle" fill="#1a1a1a" transform="matrix(1.0 0 0 1.08 0.000 -65.738)"><tspan>O</tspan></text>
<line x1="72.31" y1="817.90" x2="79.41" y2="813.80" stroke="#1a1a1a" stroke-width="0.9" stroke-linecap="round"/>
<line x1="79.41" y1="813.80" x2="88.77" y2="819.20" stroke="#1a1a1a" stroke-width="0.9" stroke-linecap="round"/>
<line x1="88.77" y1="819.20" x2="98.12" y2="813.80" stroke="#1a1a1a" stroke-width="0.9" stroke-linecap="round"/>
<line x1="98.12" y1="813.80" x2="107.47" y2="819.20" stroke="#1a1a1a" stroke-width="0.9" stroke-linecap="round"/>
<line x1="107.47" y1="819.20" x2="107.47" y2="830.00" stroke="#1a1a1a" stroke-width="0.9" stroke-linecap="round"/>
<line x1="107.47" y1="830.00" x2="98.12" y2="835.40" stroke="#1a1a1a" stroke-width="0.9" stroke-linecap="round"/>
<line x1="104.45" y1="829.09" x2="98.65" y2="832.44" stroke="#1a1a1a" stroke-width="0.9" stroke-linecap="round"/>
<circle cx="107.67" cy="830.20" r="0.95" fill="#1a1a1a" stroke="none" stroke-width="1"/>
<circle cx="98.12" cy="835.60" r="0.95" fill="#1a1a1a" stroke="none" stroke-width="1"/>
<text x="71.20" y="853.80" font-size="7.55" font-weight="bold" font-style="normal" text-anchor="middle" fill="#1a1a1a" stroke="#1a1a1a" stroke-width="0.16" transform="matrix(1.0 0 0 1.04 0.000 -34.152)"><tspan>1</tspan></text>
<text x="118.00" y="825.00" font-size="7.0" font-weight="normal" font-style="normal" text-anchor="middle" fill="#1a1a1a" stroke="#1a1a1a" stroke-width="0.16" transform="matrix(1.0 0 0 1.04 0.000 -33.000)"><tspan>+</tspan></text>
<text x="138.40" y="825.00" font-size="7.55" font-weight="normal" font-style="normal" text-anchor="middle" fill="#963a3f" stroke="#963a3f" stroke-width="0.16" transform="matrix(1.0 0 0 1.04 0.000 -33.000)"><tspan>TMSN</tspan><tspan font-size="5.13" dy="1.89">3</tspan></text>
<text x="136.00" y="853.80" font-size="7.55" font-weight="bold" font-style="normal" text-anchor="middle" fill="#1a1a1a" stroke="#1a1a1a" stroke-width="0.16" transform="matrix(1.0 0 0 1.04 0.000 -34.152)"><tspan>2</tspan></text>
<line x1="159.70" y1="823.20" x2="336.34" y2="823.20" stroke="#1a1a1a" stroke-width="1.0"/>
<path d="M341.50,823.20 L332.90,820.75 L334.45,823.20 L332.90,825.65 Z" fill="#1a1a1a"/>
<text x="248.20" y="800.00" font-size="7.55" font-weight="bold" font-style="normal" text-anchor="middle" fill="#a3222c" stroke="#a3222c" stroke-width="0.16" transform="matrix(1.0 0 0 1.04 0.000 -32.000)"><tspan>Condition B</tspan></text>
<text x="248.00" y="814.70" font-size="7.55" font-weight="normal" font-style="normal" text-anchor="middle" fill="#1a1a1a" stroke="#1a1a1a" stroke-width="0.16" transform="matrix(1.0 0 0 1.04 0.000 -32.588)"><tspan>Mn(acac)</tspan><tspan font-size="5.13" dy="1.89">3</tspan><tspan dy="-1.89"> (3.0 mol%)</tspan></text>
<text x="248.30" y="838.00" font-size="7.55" font-weight="normal" font-style="normal" text-anchor="middle" fill="#1a1a1a" stroke="#1a1a1a" stroke-width="0.16" transform="matrix(1.0 0 0 1.04 0.000 -33.520)"><tspan>isobutanol (1.0 equiv.), NH</tspan><tspan font-size="5.13" dy="1.89">4</tspan><tspan dy="-1.89">HCO</tspan><tspan font-size="5.13" dy="1.89">3</tspan><tspan dy="-1.89"> (1.0 equiv.)</tspan></text>
<text x="248.40" y="848.80" font-size="7.55" font-weight="normal" font-style="normal" text-anchor="middle" fill="#1a1a1a" stroke="#1a1a1a" stroke-width="0.16" transform="matrix(1.0 0 0 1.04 0.000 -33.952)"><tspan>CH</tspan><tspan font-size="5.13" dy="1.89">3</tspan><tspan dy="-1.89">CN/HFIP (2.0 mL, 1:1 v/v), </tspan><tspan fill="#95cccb" stroke="#95cccb">O</tspan><tspan fill="#95cccb" stroke="#95cccb" font-size="5.13" dy="1.89">2</tspan><tspan dy="-1.89"> (air balloon), 48 h, 30 °C</tspan></text>
<rect x="218.55" y="854.72" width="4.90" height="1.65" rx="0.82" transform="rotate(-6 221.00 855.63)" fill="#d0212f"/>
<rect x="217.60" y="856.78" width="6.80" height="1.65" rx="0.82" transform="rotate(-6 221.00 857.69)" fill="#d0212f"/>
<rect x="217.60" y="858.84" width="6.80" height="1.65" rx="0.82" transform="rotate(-6 221.00 859.75)" fill="#d0212f"/>
<rect x="217.60" y="860.90" width="6.80" height="1.65" rx="0.82" transform="rotate(-6 221.00 861.81)" fill="#d0212f"/>
<rect x="217.60" y="862.96" width="6.80" height="1.65" rx="0.82" transform="rotate(-6 221.00 863.87)" fill="#d0212f"/>
<path d="M218.55,864.50 L223.45,864.50 L223.31,868.64 Q221.00,870.70 218.69,868.64 Z" fill="#d0212f"/>
<ellipse cx="220.80" cy="865.68" rx="1.29" ry="0.78" fill="#fff" transform="rotate(-25 220.80 865.68)"/>
<text x="232.50" y="865.60" font-size="7.55" font-weight="normal" font-style="normal" text-anchor="start" fill="#1a1a1a" stroke="#1a1a1a" stroke-width="0.16" transform="matrix(1.0 0 0 1.04 0.000 -34.624)"><tspan>λ</tspan><tspan font-size="5.13" dy="1.89">center</tspan><tspan dy="-1.89"> = 850 nm</tspan></text>
<line x1="375.90" y1="810.90" x2="385.08" y2="816.20" stroke="#1a1a1a" stroke-width="0.9" stroke-linecap="round"/>
<line x1="385.08" y1="816.20" x2="385.08" y2="826.80" stroke="#1a1a1a" stroke-width="0.9" stroke-linecap="round"/>
<line x1="385.08" y1="826.80" x2="375.90" y2="832.10" stroke="#1a1a1a" stroke-width="0.9" stroke-linecap="round"/>
<line x1="375.90" y1="832.10" x2="366.72" y2="826.80" stroke="#1a1a1a" stroke-width="0.9" stroke-linecap="round"/>
<line x1="366.72" y1="826.80" x2="366.72" y2="816.20" stroke="#1a1a1a" stroke-width="0.9" stroke-linecap="round"/>
<line x1="366.72" y1="816.20" x2="375.90" y2="810.90" stroke="#1a1a1a" stroke-width="0.9" stroke-linecap="round"/>
<line x1="368.47" y1="824.68" x2="368.47" y2="818.32" stroke="#1a1a1a" stroke-width="0.9" stroke-linecap="round"/>
<line x1="376.86" y1="813.48" x2="382.37" y2="816.66" stroke="#1a1a1a" stroke-width="0.9" stroke-linecap="round"/>
<line x1="382.37" y1="826.34" x2="376.86" y2="829.52" stroke="#1a1a1a" stroke-width="0.9" stroke-linecap="round"/>
<line x1="366.72" y1="826.80" x2="359.79" y2="830.80" stroke="#1a1a1a" stroke-width="0.9" stroke-linecap="round"/>
<line x1="355.29" y1="830.80" x2="348.36" y2="826.80" stroke="#1a1a1a" stroke-width="0.9" stroke-linecap="round"/>
<text x="357.54" y="834.62" font-size="7.0" font-weight="normal" font-style="normal" text-anchor="middle" fill="#1a1a1a" transform="matrix(1.0 0 0 1.08 0.000 -66.770)"><tspan>O</tspan></text>
<line x1="385.08" y1="816.20" x2="394.26" y2="810.90" stroke="#1a1a1a" stroke-width="0.9" stroke-linecap="round"/>
<line x1="394.26" y1="810.90" x2="394.26" y2="803.00" stroke="#1a1a1a" stroke-width="0.9" stroke-linecap="round"/>
<line x1="392.66" y1="810.50" x2="392.66" y2="803.00" stroke="#1a1a1a" stroke-width="0.9"/>
<text x="394.26" y="802.82" font-size="7.0" font-weight="normal" font-style="normal" text-anchor="middle" fill="#1a1a1a" transform="matrix(1.0 0 0 1.08 0.000 -64.226)"><tspan>O</tspan></text>
<line x1="394.26" y1="810.90" x2="401.19" y2="814.90" stroke="#1a1a1a" stroke-width="0.9" stroke-linecap="round"/>
<text x="403.44" y="818.72" font-size="7.0" font-weight="normal" font-style="normal" text-anchor="middle" fill="#1a1a1a" transform="matrix(1.0 0 0 1.08 0.000 -65.498)"><tspan>O</tspan></text>
<line x1="405.69" y1="814.90" x2="412.62" y2="810.90" stroke="#1a1a1a" stroke-width="0.9" stroke-linecap="round"/>
<line x1="412.62" y1="810.90" x2="421.80" y2="816.20" stroke="#1a1a1a" stroke-width="0.9" stroke-linecap="round"/>
<line x1="421.80" y1="816.20" x2="430.98" y2="810.90" stroke="#1a1a1a" stroke-width="0.9" stroke-linecap="round"/>
<line x1="430.98" y1="810.90" x2="440.16" y2="816.20" stroke="#1a1a1a" stroke-width="0.9" stroke-linecap="round"/>
<line x1="440.16" y1="816.20" x2="440.16" y2="826.80" stroke="#1a1a1a" stroke-width="0.9" stroke-linecap="round"/>
<line x1="440.16" y1="826.80" x2="430.98" y2="832.10" stroke="#1a1a1a" stroke-width="0.9" stroke-linecap="round"/>
<line x1="430.98" y1="832.10" x2="423.53" y2="827.80" stroke="#1a1a1a" stroke-width="0.9" stroke-linecap="round"/>
<line x1="440.16" y1="826.80" x2="447.26" y2="830.90" stroke="#1a1a1a" stroke-width="0.9" stroke-linecap="round"/>
<text x="453.34" y="835.02" font-size="7.0" font-weight="normal" font-style="normal" text-anchor="middle" fill="#7fbfbf" transform="matrix(1.0 0 0 1.08 0.000 -66.802)"><tspan>OH</tspan></text>
<circle cx="440.16" cy="826.80" r="0.80" fill="#3a9a9a" stroke="none" stroke-width="1"/>
<circle cx="430.98" cy="832.10" r="0.80" fill="#b0303a" stroke="none" stroke-width="1"/>
<text x="423.00" y="829.52" font-size="7.0" font-weight="normal" font-style="normal" text-anchor="end" fill="#963a3f" transform="matrix(1.0 0 0 1.08 0.000 -66.362)"><tspan>N</tspan><tspan font-size="4.90" dy="1.75">3</tspan></text>
<text x="409.80" y="849.00" font-size="7.55" font-weight="normal" font-style="normal" text-anchor="middle" fill="#1a1a1a" stroke="#1a1a1a" stroke-width="0.16" transform="matrix(1.0 0 0 1.04 0.000 -33.960)"><tspan font-weight="bold">4</tspan><tspan>, 82%</tspan></text>
<text x="410.20" y="858.20" font-size="7.55" font-weight="normal" font-style="normal" text-anchor="middle" fill="#1a1a1a" stroke="#1a1a1a" stroke-width="0.16" transform="matrix(1.0 0 0 1.04 0.000 -34.328)"><tspan>(with </tspan><tspan font-weight="bold">L1</tspan><tspan>: 46%)</tspan></text>
<text x="6.60" y="889.90" font-size="9.6" font-weight="bold" font-style="normal" text-anchor="start" fill="#111" transform="matrix(1.0 0 0 1.09 0.000 -80.091)"><tspan>N</tspan></text>
<line x1="42.00" y1="909.30" x2="51.35" y2="914.70" stroke="#1a1a1a" stroke-width="0.9" stroke-linecap="round"/>
<line x1="51.35" y1="914.70" x2="51.35" y2="925.50" stroke="#1a1a1a" stroke-width="0.9" stroke-linecap="round"/>
<line x1="51.35" y1="925.50" x2="42.00" y2="930.90" stroke="#1a1a1a" stroke-width="0.9" stroke-linecap="round"/>
<line x1="42.00" y1="930.90" x2="32.65" y2="925.50" stroke="#1a1a1a" stroke-width="0.9" stroke-linecap="round"/>
<line x1="32.65" y1="925.50" x2="32.65" y2="914.70" stroke="#1a1a1a" stroke-width="0.9" stroke-linecap="round"/>
<line x1="32.65" y1="914.70" x2="42.00" y2="909.30" stroke="#1a1a1a" stroke-width="0.9" stroke-linecap="round"/>
<line x1="34.40" y1="923.34" x2="34.40" y2="916.86" stroke="#1a1a1a" stroke-width="0.9" stroke-linecap="round"/>
<line x1="43.00" y1="911.90" x2="48.61" y2="915.14" stroke="#1a1a1a" stroke-width="0.9" stroke-linecap="round"/>
<line x1="48.61" y1="925.06" x2="43.00" y2="928.30" stroke="#1a1a1a" stroke-width="0.9" stroke-linecap="round"/>
<line x1="32.65" y1="925.50" x2="25.55" y2="929.60" stroke="#1a1a1a" stroke-width="0.9" stroke-linecap="round"/>
<line x1="21.04" y1="929.60" x2="13.94" y2="925.50" stroke="#1a1a1a" stroke-width="0.9" stroke-linecap="round"/>
<text x="23.29" y="933.42" font-size="7.0" font-weight="normal" font-style="normal" text-anchor="middle" fill="#1a1a1a" transform="matrix(1.0 0 0 1.08 0.000 -74.674)"><tspan>O</tspan></text>
<line x1="51.35" y1="914.70" x2="60.71" y2="909.30" stroke="#1a1a1a" stroke-width="0.9" stroke-linecap="round"/>
<line x1="60.71" y1="909.30" x2="60.71" y2="901.20" stroke="#1a1a1a" stroke-width="0.9" stroke-linecap="round"/>
<line x1="59.11" y1="908.90" x2="59.11" y2="901.20" stroke="#1a1a1a" stroke-width="0.9"/>
<text x="60.71" y="901.02" font-size="7.0" font-weight="normal" font-style="normal" text-anchor="middle" fill="#1a1a1a" transform="matrix(1.0 0 0 1.08 0.000 -72.082)"><tspan>O</tspan></text>
<line x1="60.71" y1="909.30" x2="67.81" y2="913.40" stroke="#1a1a1a" stroke-width="0.9" stroke-linecap="round"/>
<text x="70.06" y="917.22" font-size="7.0" font-weight="normal" font-style="normal" text-anchor="middle" fill="#1a1a1a" transform="matrix(1.0 0 0 1.08 0.000 -73.378)"><tspan>O</tspan></text>
<line x1="72.31" y1="913.40" x2="79.41" y2="909.30" stroke="#1a1a1a" stroke-width="0.9" stroke-linecap="round"/>
<line x1="79.41" y1="909.30" x2="88.77" y2="914.70" stroke="#1a1a1a" stroke-width="0.9" stroke-linecap="round"/>
<line x1="88.77" y1="914.70" x2="98.12" y2="909.30" stroke="#1a1a1a" stroke-width="0.9" stroke-linecap="round"/>
<line x1="98.12" y1="909.30" x2="107.47" y2="914.70" stroke="#1a1a1a" stroke-width="0.9" stroke-linecap="round"/>
<line x1="107.47" y1="914.70" x2="107.47" y2="925.50" stroke="#1a1a1a" stroke-width="0.9" stroke-linecap="round"/>
<line x1="107.47" y1="925.50" x2="98.12" y2="930.90" stroke="#1a1a1a" stroke-width="0.9" stroke-linecap="round"/>
<line x1="104.45" y1="924.59" x2="98.65" y2="927.94" stroke="#1a1a1a" stroke-width="0.9" stroke-linecap="round"/>
<circle cx="107.67" cy="925.70" r="0.95" fill="#1a1a1a" stroke="none" stroke-width="1"/>
<circle cx="98.12" cy="931.10" r="0.95" fill="#1a1a1a" stroke="none" stroke-width="1"/>
<text x="61.20" y="953.40" font-size="7.55" font-weight="bold" font-style="normal" text-anchor="middle" fill="#1a1a1a" stroke="#1a1a1a" stroke-width="0.16" transform="matrix(1.0 0 0 1.04 0.000 -38.136)"><tspan>1</tspan></text>
<text x="126.10" y="920.60" font-size="7.0" font-weight="normal" font-style="normal" text-anchor="middle" fill="#1a1a1a" stroke="#1a1a1a" stroke-width="0.16" transform="matrix(1.0 0 0 1.04 0.000 -36.824)"><tspan>+</tspan></text>
<text x="153.40" y="920.10" font-size="7.55" font-weight="normal" font-style="normal" text-anchor="middle" fill="#963a3f" stroke="#963a3f" stroke-width="0.16" transform="matrix(1.0 0 0 1.04 0.000 -36.804)"><tspan>TMSN</tspan><tspan font-size="5.13" dy="1.89">3</tspan></text>
<text x="153.00" y="953.40" font-size="7.55" font-weight="bold" font-style="normal" text-anchor="middle" fill="#1a1a1a" stroke="#1a1a1a" stroke-width="0.16" transform="matrix(1.0 0 0 1.04 0.000 -38.136)"><tspan>2</tspan></text>
<line x1="180.00" y1="918.00" x2="251.74" y2="918.00" stroke="#1a1a1a" stroke-width="1.0"/>
<path d="M256.90,918.00 L248.30,915.55 L249.85,918.00 L248.30,920.45 Z" fill="#1a1a1a"/>
<text x="214.20" y="912.30" font-size="7.55" font-weight="bold" font-style="normal" text-anchor="middle" fill="#a3222c" stroke="#a3222c" stroke-width="0.16" transform="matrix(1.0 0 0 1.04 0.000 -36.492)"><tspan>Condition B</tspan></text>
<text x="214.20" y="929.90" font-size="7.55" font-weight="normal" font-style="normal" text-anchor="middle" fill="#1a1a1a" stroke="#1a1a1a" stroke-width="0.16" transform="matrix(1.0 0 0 1.04 0.000 -37.196)"><tspan>BHT (3.0 equiv.)</tspan></text>
<line x1="295.30" y1="906.40" x2="304.57" y2="911.75" stroke="#1a1a1a" stroke-width="0.9" stroke-linecap="round"/>
<line x1="304.57" y1="911.75" x2="304.57" y2="922.45" stroke="#1a1a1a" stroke-width="0.9" stroke-linecap="round"/>
<line x1="304.57" y1="922.45" x2="295.30" y2="927.80" stroke="#1a1a1a" stroke-width="0.9" stroke-linecap="round"/>
<line x1="295.30" y1="927.80" x2="286.03" y2="922.45" stroke="#1a1a1a" stroke-width="0.9" stroke-linecap="round"/>
<line x1="286.03" y1="922.45" x2="286.03" y2="911.75" stroke="#1a1a1a" stroke-width="0.9" stroke-linecap="round"/>
<line x1="286.03" y1="911.75" x2="295.30" y2="906.40" stroke="#1a1a1a" stroke-width="0.9" stroke-linecap="round"/>
<line x1="287.78" y1="920.31" x2="287.78" y2="913.89" stroke="#1a1a1a" stroke-width="0.9" stroke-linecap="round"/>
<line x1="296.28" y1="908.99" x2="301.84" y2="912.20" stroke="#1a1a1a" stroke-width="0.9" stroke-linecap="round"/>
<line x1="301.84" y1="922.00" x2="296.28" y2="925.21" stroke="#1a1a1a" stroke-width="0.9" stroke-linecap="round"/>
<line x1="286.03" y1="922.45" x2="279.02" y2="926.50" stroke="#1a1a1a" stroke-width="0.9" stroke-linecap="round"/>
<line x1="274.52" y1="926.50" x2="267.50" y2="922.45" stroke="#1a1a1a" stroke-width="0.9" stroke-linecap="round"/>
<text x="276.77" y="930.32" font-size="7.0" font-weight="normal" font-style="normal" text-anchor="middle" fill="#1a1a1a" transform="matrix(1.0 0 0 1.08 0.000 -74.426)"><tspan>O</tspan></text>
<line x1="304.57" y1="911.75" x2="313.83" y2="906.40" stroke="#1a1a1a" stroke-width="0.9" stroke-linecap="round"/>
<line x1="313.83" y1="906.40" x2="313.83" y2="898.40" stroke="#1a1a1a" stroke-width="0.9" stroke-linecap="round"/>
<line x1="312.23" y1="906.00" x2="312.23" y2="898.40" stroke="#1a1a1a" stroke-width="0.9"/>
<text x="313.83" y="898.22" font-size="7.0" font-weight="normal" font-style="normal" text-anchor="middle" fill="#1a1a1a" transform="matrix(1.0 0 0 1.08 0.000 -71.858)"><tspan>O</tspan></text>
<line x1="313.83" y1="906.40" x2="320.85" y2="910.45" stroke="#1a1a1a" stroke-width="0.9" stroke-linecap="round"/>
<text x="323.10" y="914.27" font-size="7.0" font-weight="normal" font-style="normal" text-anchor="middle" fill="#1a1a1a" transform="matrix(1.0 0 0 1.08 0.000 -73.142)"><tspan>O</tspan></text>
<line x1="325.35" y1="910.45" x2="332.37" y2="906.40" stroke="#1a1a1a" stroke-width="0.9" stroke-linecap="round"/>
<line x1="332.37" y1="906.40" x2="341.63" y2="911.75" stroke="#1a1a1a" stroke-width="0.9" stroke-linecap="round"/>
<line x1="341.63" y1="911.75" x2="350.90" y2="906.40" stroke="#1a1a1a" stroke-width="0.9" stroke-linecap="round"/>
<line x1="350.90" y1="906.40" x2="360.17" y2="911.75" stroke="#1a1a1a" stroke-width="0.9" stroke-linecap="round"/>
<line x1="360.17" y1="911.75" x2="360.17" y2="922.45" stroke="#1a1a1a" stroke-width="0.9" stroke-linecap="round"/>
<line x1="360.17" y1="922.45" x2="350.90" y2="927.80" stroke="#1a1a1a" stroke-width="0.9" stroke-linecap="round"/>
<line x1="350.90" y1="927.80" x2="343.36" y2="923.45" stroke="#1a1a1a" stroke-width="0.9" stroke-linecap="round"/>
<line x1="360.17" y1="922.45" x2="367.35" y2="926.60" stroke="#1a1a1a" stroke-width="0.9" stroke-linecap="round"/>
<text x="373.43" y="930.72" font-size="7.0" font-weight="normal" font-style="normal" text-anchor="middle" fill="#7fbfbf" transform="matrix(1.0 0 0 1.08 0.000 -74.458)"><tspan>OH</tspan></text>
<circle cx="360.17" cy="922.45" r="0.80" fill="#3a9a9a" stroke="none" stroke-width="1"/>
<circle cx="350.90" cy="927.80" r="0.80" fill="#b0303a" stroke="none" stroke-width="1"/>
<text x="342.83" y="925.17" font-size="7.0" font-weight="normal" font-style="normal" text-anchor="end" fill="#963a3f" transform="matrix(1.0 0 0 1.08 0.000 -74.014)"><tspan>N</tspan><tspan font-size="4.90" dy="1.75">3</tspan></text>
<text x="329.00" y="953.40" font-size="7.55" font-weight="normal" font-style="normal" text-anchor="middle" fill="#1a1a1a" stroke="#1a1a1a" stroke-width="0.16" transform="matrix(1.0 0 0 1.04 0.000 -38.136)"><tspan font-weight="bold">4</tspan><tspan>, n.d.</tspan></text>
<text x="381.10" y="920.30" font-size="7.0" font-weight="normal" font-style="normal" text-anchor="middle" fill="#1a1a1a" stroke="#1a1a1a" stroke-width="0.16" transform="matrix(1.0 0 0 1.04 0.000 -36.812)"><tspan>+</tspan></text>
<line x1="417.80" y1="898.70" x2="427.15" y2="904.10" stroke="#1a1a1a" stroke-width="0.9" stroke-linecap="round"/>
<line x1="427.15" y1="904.10" x2="427.15" y2="914.90" stroke="#1a1a1a" stroke-width="0.9" stroke-linecap="round"/>
<line x1="427.15" y1="914.90" x2="417.80" y2="920.30" stroke="#1a1a1a" stroke-width="0.9" stroke-linecap="round"/>
<line x1="417.80" y1="920.30" x2="408.45" y2="914.90" stroke="#1a1a1a" stroke-width="0.9" stroke-linecap="round"/>
<line x1="408.45" y1="914.90" x2="408.45" y2="904.10" stroke="#1a1a1a" stroke-width="0.9" stroke-linecap="round"/>
<line x1="408.45" y1="904.10" x2="417.80" y2="898.70" stroke="#1a1a1a" stroke-width="0.9" stroke-linecap="round"/>
<line x1="410.20" y1="912.74" x2="410.20" y2="906.26" stroke="#1a1a1a" stroke-width="0.9" stroke-linecap="round"/>
<line x1="418.80" y1="901.30" x2="424.41" y2="904.54" stroke="#1a1a1a" stroke-width="0.9" stroke-linecap="round"/>
<line x1="424.41" y1="914.46" x2="418.80" y2="917.70" stroke="#1a1a1a" stroke-width="0.9" stroke-linecap="round"/>
<line x1="417.80" y1="898.70" x2="417.80" y2="893.00" stroke="#1a1a1a" stroke-width="0.9" stroke-linecap="round"/>
<text x="414.60" y="891.40" font-size="7.0" font-weight="normal" font-style="normal" text-anchor="start" fill="#1a1a1a" transform="matrix(1.0 0 0 1.06 0.000 -53.484)"><tspan>OH</tspan></text>
<line x1="408.45" y1="904.10" x2="398.70" y2="899.30" stroke="#1a1a1a" stroke-width="0.9" stroke-linecap="round"/>
<line x1="427.15" y1="904.10" x2="436.90" y2="899.30" stroke="#1a1a1a" stroke-width="0.9" stroke-linecap="round"/>
<line x1="398.70" y1="899.30" x2="398.70" y2="888.20" stroke="#1a1a1a" stroke-width="0.9" stroke-linecap="round"/>
<line x1="398.70" y1="899.30" x2="389.30" y2="893.40" stroke="#1a1a1a" stroke-width="0.9" stroke-linecap="round"/>
<line x1="398.70" y1="899.30" x2="389.30" y2="904.50" stroke="#1a1a1a" stroke-width="0.9" stroke-linecap="round"/>
<line x1="436.90" y1="899.30" x2="436.90" y2="888.20" stroke="#1a1a1a" stroke-width="0.9" stroke-linecap="round"/>
<line x1="436.90" y1="899.30" x2="446.30" y2="893.40" stroke="#1a1a1a" stroke-width="0.9" stroke-linecap="round"/>
<line x1="436.90" y1="899.30" x2="446.30" y2="904.50" stroke="#1a1a1a" stroke-width="0.9" stroke-linecap="round"/>
<line x1="417.80" y1="920.30" x2="417.80" y2="931.40" stroke="#1a1a1a" stroke-width="0.9" stroke-linecap="round"/>
<line x1="417.80" y1="931.40" x2="411.02" y2="935.92" stroke="#1a1a1a" stroke-width="0.9" stroke-linecap="round"/>
<text x="410.80" y="940.60" font-size="7.0" font-weight="normal" font-style="normal" text-anchor="end" fill="#963a3f" transform="matrix(1.0 0 0 1.06 0.000 -56.436)"><tspan>N</tspan><tspan font-size="4.90" dy="1.75">3</tspan></text>
<text x="421.30" y="953.60" font-size="7.55" font-weight="normal" font-style="normal" text-anchor="middle" fill="#1a1a1a" stroke="#1a1a1a" stroke-width="0.16" transform="matrix(1.0 0 0 1.04 0.000 -38.144)"><tspan font-weight="bold">5</tspan><tspan>, 5%</tspan></text>
<text x="480.60" y="732.90" font-size="9.6" font-weight="bold" font-style="normal" text-anchor="start" fill="#111" transform="matrix(1.0 0 0 1.09 0.000 -65.961)"><tspan>O</tspan></text>
<text x="504.50" y="763.40" font-size="7.4" font-weight="bold" font-style="normal" text-anchor="middle" fill="#1a1a1a" transform="matrix(1.0 0 0 1.06 0.000 -45.804)"><tspan>1</tspan></text>
<text x="520.20" y="763.40" font-size="6.6" font-weight="normal" font-style="normal" text-anchor="middle" fill="#1a1a1a" transform="matrix(1.0 0 0 1.06 0.000 -45.804)"><tspan>+</tspan></text>
<text x="536.00" y="763.40" font-size="7.4" font-weight="bold" font-style="normal" text-anchor="middle" fill="#1a1a1a" transform="matrix(1.0 0 0 1.06 0.000 -45.804)"><tspan>2</tspan></text>
<line x1="548.30" y1="761.00" x2="637.74" y2="761.00" stroke="#1a1a1a" stroke-width="1.0"/>
<path d="M642.90,761.00 L634.30,758.55 L635.85,761.00 L634.30,763.45 Z" fill="#1a1a1a"/>
<text x="654.20" y="763.40" font-size="7.4" font-weight="bold" font-style="normal" text-anchor="middle" fill="#1a1a1a" transform="matrix(1.0 0 0 1.06 0.000 -45.804)"><tspan>4</tspan></text>
<text x="590.50" y="753.10" font-size="7.55" font-weight="bold" font-style="normal" text-anchor="middle" fill="#a3222c" stroke="#a3222c" stroke-width="0.16" transform="matrix(1.0 0 0 1.04 0.000 -30.124)"><tspan>Condition B</tspan></text>
<text x="590.60" y="774.50" font-size="7.55" font-weight="normal" font-style="normal" text-anchor="middle" fill="#1a1a1a" stroke="#1a1a1a" stroke-width="0.16" transform="matrix(1.0 0 0 1.04 0.000 -30.980)"><tspan>light on/off</tspan></text>
<rect x="506.40" y="796.50" width="38.27" height="126.10" fill="#f6d4d7" stroke="none" stroke-width="0.9"/>
<rect x="545.88" y="796.50" width="38.07" height="126.10" fill="#ebebeb" stroke="none" stroke-width="0.9"/>
<rect x="585.15" y="796.50" width="38.08" height="126.10" fill="#f6d4d7" stroke="none" stroke-width="0.9"/>
<rect x="624.43" y="796.50" width="38.67" height="126.10" fill="#ebebeb" stroke="none" stroke-width="0.9"/>
<text x="525.94" y="809.30" font-size="10.4" font-weight="bold" font-style="normal" text-anchor="middle" fill="#1a1a1a"><tspan>on</tspan></text>
<text x="565.91" y="809.30" font-size="10.4" font-weight="bold" font-style="normal" text-anchor="middle" fill="#1a1a1a"><tspan>off</tspan></text>
<text x="604.49" y="809.30" font-size="10.4" font-weight="bold" font-style="normal" text-anchor="middle" fill="#1a1a1a"><tspan>on</tspan></text>
<text x="644.46" y="809.30" font-size="10.4" font-weight="bold" font-style="normal" text-anchor="middle" fill="#1a1a1a"><tspan>off</tspan></text>
<path d="M506.00,922.60 L545.27,897.38 L584.55,897.38 L623.83,863.75 L663.10,863.75" stroke="#111" stroke-width="1.6" fill="none" stroke-linejoin="round" stroke-linecap="round"/>
<line x1="519.09" y1="922.60" x2="519.09" y2="924.10" stroke="#444" stroke-width="0.7"/>
<line x1="545.27" y1="922.60" x2="545.27" y2="924.10" stroke="#444" stroke-width="0.7"/>
<line x1="571.46" y1="922.60" x2="571.46" y2="924.10" stroke="#444" stroke-width="0.7"/>
<line x1="597.64" y1="922.60" x2="597.64" y2="924.10" stroke="#444" stroke-width="0.7"/>
<line x1="623.83" y1="922.60" x2="623.83" y2="924.10" stroke="#444" stroke-width="0.7"/>
<line x1="650.01" y1="922.60" x2="650.01" y2="924.10" stroke="#444" stroke-width="0.7"/>
<line x1="506.00" y1="922.60" x2="506.00" y2="925.20" stroke="#444" stroke-width="0.8"/>
<line x1="532.18" y1="922.60" x2="532.18" y2="925.20" stroke="#444" stroke-width="0.8"/>
<line x1="558.37" y1="922.60" x2="558.37" y2="925.20" stroke="#444" stroke-width="0.8"/>
<line x1="584.55" y1="922.60" x2="584.55" y2="925.20" stroke="#444" stroke-width="0.8"/>
<line x1="610.73" y1="922.60" x2="610.73" y2="925.20" stroke="#444" stroke-width="0.8"/>
<line x1="636.92" y1="922.60" x2="636.92" y2="925.20" stroke="#444" stroke-width="0.8"/>
<line x1="663.10" y1="922.60" x2="663.10" y2="925.20" stroke="#444" stroke-width="0.8"/>
<line x1="504.50" y1="901.58" x2="506.00" y2="901.58" stroke="#444" stroke-width="0.7"/>
<line x1="504.50" y1="859.55" x2="506.00" y2="859.55" stroke="#444" stroke-width="0.7"/>
<line x1="504.50" y1="817.52" x2="506.00" y2="817.52" stroke="#444" stroke-width="0.7"/>
<line x1="503.40" y1="922.60" x2="506.00" y2="922.60" stroke="#444" stroke-width="0.8"/>
<line x1="503.40" y1="880.57" x2="506.00" y2="880.57" stroke="#444" stroke-width="0.8"/>
<line x1="503.40" y1="838.53" x2="506.00" y2="838.53" stroke="#444" stroke-width="0.8"/>
<line x1="503.40" y1="796.50" x2="506.00" y2="796.50" stroke="#444" stroke-width="0.8"/>
<line x1="506.00" y1="796.50" x2="506.00" y2="923.05" stroke="#444" stroke-width="0.9"/>
<line x1="505.55" y1="922.60" x2="663.10" y2="922.60" stroke="#444" stroke-width="0.9"/>
<text x="506.00" y="933.20" font-size="7.8" font-weight="bold" font-style="normal" text-anchor="middle" fill="#1a1a1a" transform="matrix(1.0 0 0 1.06 0.000 -55.992)"><tspan>0</tspan></text>
<text x="532.18" y="933.20" font-size="7.8" font-weight="bold" font-style="normal" text-anchor="middle" fill="#1a1a1a" transform="matrix(1.0 0 0 1.06 0.000 -55.992)"><tspan>2</tspan></text>
<text x="558.37" y="933.20" font-size="7.8" font-weight="bold" font-style="normal" text-anchor="middle" fill="#1a1a1a" transform="matrix(1.0 0 0 1.06 0.000 -55.992)"><tspan>4</tspan></text>
<text x="584.55" y="933.20" font-size="7.8" font-weight="bold" font-style="normal" text-anchor="middle" fill="#1a1a1a" transform="matrix(1.0 0 0 1.06 0.000 -55.992)"><tspan>6</tspan></text>
<text x="610.73" y="933.20" font-size="7.8" font-weight="bold" font-style="normal" text-anchor="middle" fill="#1a1a1a" transform="matrix(1.0 0 0 1.06 0.000 -55.992)"><tspan>8</tspan></text>
<text x="636.92" y="933.20" font-size="7.8" font-weight="bold" font-style="normal" text-anchor="middle" fill="#1a1a1a" transform="matrix(1.0 0 0 1.06 0.000 -55.992)"><tspan>10</tspan></text>
<text x="663.10" y="933.20" font-size="7.8" font-weight="bold" font-style="normal" text-anchor="middle" fill="#1a1a1a" transform="matrix(1.0 0 0 1.06 0.000 -55.992)"><tspan>12</tspan></text>
<text x="502.80" y="925.33" font-size="7.8" font-weight="bold" font-style="normal" text-anchor="end" fill="#1a1a1a" transform="matrix(1.0 0 0 1.06 0.000 -55.520)"><tspan>0</tspan></text>
<text x="502.80" y="883.30" font-size="7.8" font-weight="bold" font-style="normal" text-anchor="end" fill="#1a1a1a" transform="matrix(1.0 0 0 1.06 0.000 -52.998)"><tspan>10</tspan></text>
<text x="502.80" y="841.26" font-size="7.8" font-weight="bold" font-style="normal" text-anchor="end" fill="#1a1a1a" transform="matrix(1.0 0 0 1.06 0.000 -50.476)"><tspan>20</tspan></text>
<text x="502.80" y="799.23" font-size="7.8" font-weight="bold" font-style="normal" text-anchor="end" fill="#1a1a1a" transform="matrix(1.0 0 0 1.06 0.000 -47.954)"><tspan>30</tspan></text>
<text x="584.50" y="946.40" font-size="7.8" font-weight="bold" font-style="normal" text-anchor="middle" fill="#1a1a1a" transform="matrix(1.0 0 0 1.06 0.000 -56.784)"><tspan>Time (h)</tspan></text>
<text x="491.20" y="859.50" font-size="7.8" font-weight="bold" font-style="normal" text-anchor="middle" fill="#1a1a1a" transform="rotate(-90 491.2 859.5)"><tspan>Yield (%)</tspan></text>
</svg></body></html>
